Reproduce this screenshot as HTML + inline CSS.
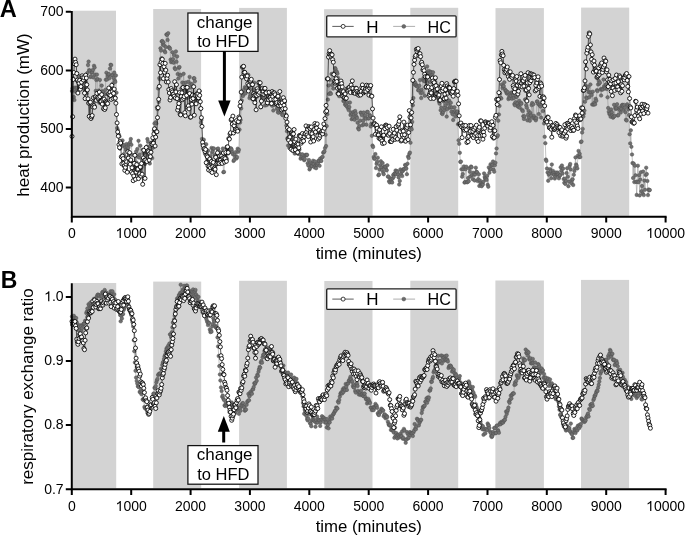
<!DOCTYPE html>
<html><head><meta charset="utf-8"><style>
html,body{margin:0;padding:0;background:#fff;}
svg{display:block;will-change:transform;}
text{font-family:"Liberation Sans",sans-serif;fill:#000;}
</style></head><body>
<svg width="685" height="536" viewBox="0 0 685 536">
<text x="-0.3" y="16.9" font-size="23.6" font-weight="bold">A</text>
<text x="0.7" y="288.3" font-size="23" font-weight="bold">B</text>
<rect x="72.8" y="10.7" width="43.2" height="205.1" fill="#d3d3d3"/>
<rect x="153.2" y="9.0" width="47.9" height="206.8" fill="#d3d3d3"/>
<rect x="239.1" y="7.9" width="47.8" height="207.9" fill="#d3d3d3"/>
<rect x="324.1" y="9.2" width="48.5" height="206.6" fill="#d3d3d3"/>
<rect x="410.3" y="7.8" width="47.9" height="208.0" fill="#d3d3d3"/>
<rect x="495.5" y="8.1" width="48.4" height="207.7" fill="#d3d3d3"/>
<rect x="581.1" y="7.6" width="48.1" height="208.2" fill="#d3d3d3"/>
<path d="M72 91 L72.6 88.2 L73.2 78.3 L73.8 97.1 L74.4 100 L75 87.6 L75.6 91.6 L76.2 88.3 L76.8 80.6 L77.3 87.8 L77.9 81 L78.5 79.2 L79.1 76 L79.7 82.9 L80.3 82.1 L80.9 86.2 L81.5 80.4 L82.1 83.5 L82.7 78.2 L83.3 88.3 L83.9 87.9 L84.5 89.2 L85.1 90.6 L85.7 81.4 L86.3 89.6 L86.8 93.4 L87.4 73.1 L88 65 L88.6 61.6 L89.2 70.3 L89.8 70.6 L90.4 76.9 L91 76.5 L91.6 72.7 L92.2 72.1 L92.8 70 L93.4 77.4 L94 65.8 L94.6 67.5 L95.2 74.8 L95.8 90.8 L96.3 80 L96.9 74.6 L97.5 79.1 L98.1 95.7 L98.7 90.6 L99.3 102.7 L99.9 79.9 L100.5 97.9 L101.1 103.6 L101.7 85.6 L102.3 91.3 L102.9 99.6 L103.5 91.9 L104.1 94.5 L104.7 94.5 L105.3 89.9 L105.8 79.7 L106.4 72.7 L107 79.6 L107.6 76 L108.2 74.5 L108.8 74.1 L109.4 78.3 L110 68.6 L110.6 64.8 L111.2 65.1 L111.8 75.2 L112.4 75.3 L113 83.5 L113.6 77.9 L114.2 72.6 L114.8 80.6 L115.3 81.9 L115.9 75.4 L116.5 92.7 L117.1 128 L117.7 129.7 L118.3 134.1 L118.9 134.8 L119.5 136.4 L120.1 148.7 L120.7 146.2 L121.3 141.7 L121.9 144 L122.5 140.4 L123.1 146.1 L123.7 154.3 L124.3 145 L124.8 156.7 L125.4 147.4 L126 150.1 L126.6 144 L127.2 146.7 L127.8 150.2 L128.4 147.7 L129 144.5 L129.6 143.7 L130.2 142.1 L130.8 139 L131.4 144.8 L132 154.7 L132.6 163 L133.2 163.4 L133.8 168.5 L134.3 166.5 L134.9 155 L135.5 168.7 L136.1 151.6 L136.7 162.8 L137.3 149 L137.9 156.4 L138.5 140.8 L139.1 157.6 L139.7 154.7 L140.3 145.7 L140.9 168.3 L141.5 167.1 L142.1 159.8 L142.7 149.8 L143.3 152.9 L143.8 152.8 L144.4 160.8 L145 164 L145.6 151.6 L146.2 148 L146.8 146.4 L147.4 139.1 L148 141.7 L148.6 147 L149.2 155.4 L149.8 163.5 L150.4 146.3 L151 151.1 L151.6 142.4 L152.2 158.1 L152.8 147.8 L153.4 147 L153.9 130.5 L154.5 123.5 L155.1 128.4 L155.7 122.2 L156.3 123.6 L156.9 107.2 L157.5 109.2 L158.1 88.4 L158.7 101.9 L159.3 78.1 L159.9 79.3 L160.5 48.3 L161.1 50.6 L161.7 41.4 L162.3 41 L162.9 44.5 L163.4 42.3 L164 45.5 L164.6 51 L165.2 52.3 L165.8 46.9 L166.4 34.5 L167 34.8 L167.6 40 L168.2 33.2 L168.8 47.3 L169.4 47.5 L170 48.7 L170.6 59.6 L171.2 62.2 L171.8 60.8 L172.4 52.2 L172.9 59.2 L173.5 62.7 L174.1 55.1 L174.7 68.1 L175.3 69.2 L175.9 51.4 L176.5 61.8 L177.1 56.4 L177.7 74.1 L178.3 78.6 L178.9 67.8 L179.5 67.1 L180.1 74.7 L180.7 75.6 L181.3 88.5 L181.9 88.6 L182.4 82.6 L183 87.1 L183.6 73.8 L184.2 83.2 L184.8 91.8 L185.4 87.6 L186 82.4 L186.6 89.5 L187.2 97.9 L187.8 93.9 L188.4 81.7 L189 95.7 L189.6 76.9 L190.2 87.5 L190.8 83.7 L191.4 93.9 L191.9 84.3 L192.5 97.9 L193.1 95.1 L193.7 78.3 L194.3 78.2 L194.9 81.2 L195.5 98.8 L196.1 95.9 L196.7 94.9 L197.3 92.7 L197.9 100 L198.5 100.2 L199.1 100 L199.7 91.2 L200.3 108.5 L200.9 122.7 L201.4 120 L202 138.9 L202.6 144.4 L203.2 142.4 L203.8 139.7 L204.4 150.3 L205 153.8 L205.6 149.3 L206.2 144.2 L206.8 154.6 L207.4 150.9 L208 150.6 L208.6 160.8 L209.2 161.2 L209.8 161.6 L210.4 155.9 L210.9 158.5 L211.5 147.9 L212.1 152.6 L212.7 151.1 L213.3 148.5 L213.9 148.5 L214.5 155.3 L215.1 156.7 L215.7 157.7 L216.3 162 L216.9 154.1 L217.5 149.1 L218.1 148.5 L218.7 151 L219.3 160.9 L219.9 158.8 L220.4 164 L221 152.7 L221.6 154.1 L222.2 152.4 L222.8 148.5 L223.4 172.2 L224 171.9 L224.6 158.4 L225.2 153.7 L225.8 157.6 L226.4 148.5 L227 159.1 L227.6 149.9 L228.2 153.4 L228.8 149.9 L229.4 152.2 L230 148.5 L230.5 148.5 L231.1 148.5 L231.7 149.7 L232.3 152.1 L232.9 154.2 L233.5 160.9 L234.1 160 L234.7 155 L235.3 157.1 L235.9 151.9 L236.5 158.5 L237.1 157 L237.7 148.7 L238.3 151.8 L238.9 149.8 L239.5 129.6 L240 122.6 L240.6 119.9 L241.2 108.4 L241.8 100.5 L242.4 92.6 L243 96 L243.6 90.1 L244.2 93.7 L244.8 87.2 L245.4 93.4 L246 88.1 L246.6 88 L247.2 77.9 L247.8 74.6 L248.4 75.1 L249 88.2 L249.5 98.1 L250.1 96.1 L250.7 94.4 L251.3 84.5 L251.9 98 L252.5 99.5 L253.1 89.8 L253.7 89.3 L254.3 82.7 L254.9 97.6 L255.5 96 L256.1 92.4 L256.7 95 L257.3 96.6 L257.9 91.4 L258.5 83.8 L259 82.7 L259.6 83.2 L260.2 92.5 L260.8 107.2 L261.4 89.3 L262 95.6 L262.6 100.1 L263.2 92 L263.8 98.1 L264.4 91.5 L265 105.5 L265.6 98.1 L266.2 100.4 L266.8 105.1 L267.4 99.7 L268 91.9 L268.5 94.4 L269.1 103.7 L269.7 102.1 L270.3 103.4 L270.9 96.5 L271.5 100.9 L272.1 105.7 L272.7 103.5 L273.3 110.5 L273.9 104.7 L274.5 97.2 L275.1 93.5 L275.7 105.1 L276.3 103.4 L276.9 109 L277.5 108.1 L278 112.3 L278.6 112.7 L279.2 106.2 L279.8 107 L280.4 112 L281 101.1 L281.6 112.5 L282.2 114.8 L282.8 115.2 L283.4 108.9 L284 109.7 L284.6 102.3 L285.2 108.8 L285.8 114.5 L286.4 125.5 L287 131.3 L287.5 138.1 L288.1 145.6 L288.7 140.3 L289.3 148 L289.9 146 L290.5 146.5 L291.1 147.4 L291.7 149 L292.3 150.7 L292.9 146.5 L293.5 148.7 L294.1 150.1 L294.7 153.6 L295.3 151.5 L295.9 152.8 L296.5 149.3 L297.1 150.4 L297.6 150.3 L298.2 153.9 L298.8 150.2 L299.4 149.6 L300 154.1 L300.6 158.7 L301.2 157.4 L301.8 156.5 L302.4 154.3 L303 158.2 L303.6 158.1 L304.2 160.2 L304.8 159 L305.4 154.9 L306 155.3 L306.6 154.8 L307.1 154.9 L307.7 163.2 L308.3 165.5 L308.9 160 L309.5 169.4 L310.1 167.8 L310.7 162.8 L311.3 166.2 L311.9 165.9 L312.5 163.3 L313.1 160.7 L313.7 164 L314.3 167.3 L314.9 161.4 L315.5 165.7 L316.1 168.2 L316.6 164.6 L317.2 165.1 L317.8 163.4 L318.4 160.7 L319 160.9 L319.6 165.8 L320.2 158.6 L320.8 160.7 L321.4 160.9 L322 157.5 L322.6 156.7 L323.2 152.7 L323.8 152.2 L324.4 151.3 L325 148.1 L325.6 134.7 L326.1 146.1 L326.7 126.1 L327.3 114.3 L327.9 99.6 L328.5 85.4 L329.1 94 L329.7 79.8 L330.3 93 L330.9 93.8 L331.5 74 L332.1 85.1 L332.7 74.1 L333.3 88.6 L333.9 81.5 L334.5 72.6 L335.1 68.1 L335.6 69.1 L336.2 71.6 L336.8 71.7 L337.4 73.6 L338 77.9 L338.6 84.2 L339.2 96.2 L339.8 86.7 L340.4 90.7 L341 92.3 L341.6 92.2 L342.2 93 L342.8 93.7 L343.4 101.1 L344 100.7 L344.6 99.6 L345.1 104.3 L345.7 105.2 L346.3 103.9 L346.9 106.6 L347.5 102.7 L348.1 108.3 L348.7 110.1 L349.3 107.1 L349.9 102.5 L350.5 115 L351.1 112.6 L351.7 119.2 L352.3 114 L352.9 118 L353.5 112 L354.1 114.5 L354.6 119.8 L355.2 111 L355.8 113.4 L356.4 116.6 L357 118 L357.6 122.7 L358.2 128.2 L358.8 129.4 L359.4 126.1 L360 120.7 L360.6 112.6 L361.2 113 L361.8 114.9 L362.4 125.3 L363 120.8 L363.6 112.5 L364.1 124.4 L364.7 117.5 L365.3 115.4 L365.9 118.7 L366.5 124.7 L367.1 111.9 L367.7 112 L368.3 118.6 L368.9 118.2 L369.5 115 L370.1 115.8 L370.7 126.4 L371.3 123.8 L371.9 135.8 L372.5 145.6 L373.1 146.9 L373.7 157 L374.2 158.7 L374.8 158.5 L375.4 154.1 L376 168.1 L376.6 163.8 L377.2 161.7 L377.8 157.7 L378.4 175.3 L379 174.6 L379.6 169.5 L380.2 165.2 L380.8 161.2 L381.4 167.5 L382 170 L382.6 163 L383.2 172.6 L383.7 174.2 L384.3 167 L384.9 166.4 L385.5 166.9 L386.1 169.8 L386.7 170.3 L387.3 165.3 L387.9 176.7 L388.5 176.5 L389.1 181.2 L389.7 182.4 L390.3 178.3 L390.9 179.5 L391.5 181.7 L392.1 182.5 L392.7 178.5 L393.2 175 L393.8 176.8 L394.4 173.6 L395 173.6 L395.6 170.5 L396.2 174 L396.8 171 L397.4 172 L398 174.6 L398.6 177.4 L399.2 184.5 L399.8 180.9 L400.4 169.4 L401 174 L401.6 171.3 L402.2 176.1 L402.7 171.2 L403.3 169.2 L403.9 169.5 L404.5 168.8 L405.1 164.9 L405.7 165.3 L406.3 168.5 L406.9 174.2 L407.5 163.7 L408.1 156.6 L408.7 158 L409.3 153.9 L409.9 152.6 L410.5 142.7 L411.1 127.9 L411.7 129.4 L412.2 121.9 L412.8 105.2 L413.4 98.1 L414 81.5 L414.6 84.5 L415.2 82.7 L415.8 85.5 L416.4 84.9 L417 86.2 L417.6 86.8 L418.2 90.3 L418.8 90.3 L419.4 85.8 L420 80 L420.6 93 L421.2 98.1 L421.7 89.7 L422.3 92.7 L422.9 79.9 L423.5 78 L424.1 81.2 L424.7 95.7 L425.3 81.1 L425.9 75.1 L426.5 86.7 L427.1 66.4 L427.7 72.6 L428.3 73.4 L428.9 70.9 L429.5 72.8 L430.1 81.9 L430.7 71.9 L431.2 72.3 L431.8 75.5 L432.4 75.1 L433 72.3 L433.6 96.7 L434.2 95.4 L434.8 78.4 L435.4 82.1 L436 93.1 L436.6 97.4 L437.2 85.6 L437.8 92.6 L438.4 98.2 L439 101.8 L439.6 103.7 L440.2 91.7 L440.7 110.2 L441.3 107.5 L441.9 113.4 L442.5 114 L443.1 112.1 L443.7 101.4 L444.3 110.2 L444.9 107.4 L445.5 105.1 L446.1 101 L446.7 116.6 L447.3 109.1 L447.9 100.6 L448.5 103.7 L449.1 100.6 L449.7 107.8 L450.3 106.9 L450.8 102.8 L451.4 111.8 L452 107.4 L452.6 114.2 L453.2 120 L453.8 111.9 L454.4 107.3 L455 110.9 L455.6 116.5 L456.2 112.9 L456.8 112.5 L457.4 111.4 L458 124.2 L458.6 140.3 L459.2 143.8 L459.8 152.8 L460.3 161.9 L460.9 161.6 L461.5 169.3 L462.1 176.7 L462.7 174.1 L463.3 169.2 L463.9 166.4 L464.5 182.6 L465.1 182.1 L465.7 169.2 L466.3 166.7 L466.9 182.2 L467.5 182.1 L468.1 178 L468.7 181.2 L469.3 168.3 L469.8 171.7 L470.4 176.4 L471 166.5 L471.6 167.3 L472.2 174.9 L472.8 179.2 L473.4 172.8 L474 174.6 L474.6 180.5 L475.2 174.5 L475.8 167.7 L476.4 171.7 L477 172.2 L477.6 181 L478.2 179.2 L478.8 174.3 L479.3 185.9 L479.9 180.4 L480.5 182.8 L481.1 185.1 L481.7 186.2 L482.3 183.4 L482.9 184.6 L483.5 181.6 L484.1 173.4 L484.7 176.9 L485.3 178.2 L485.9 178.8 L486.5 180 L487.1 175.7 L487.7 184.8 L488.3 186.7 L488.8 167.4 L489.4 172.7 L490 169.4 L490.6 164.2 L491.2 169.1 L491.8 165.6 L492.4 164.8 L493 161.5 L493.6 169.6 L494.2 171.7 L494.8 165.3 L495.4 162.7 L496 153.4 L496.6 148.5 L497.2 136.7 L497.8 135.3 L498.3 120.7 L498.9 114.5 L499.5 105.9 L500.1 93.4 L500.7 97.8 L501.3 98.5 L501.9 84.5 L502.5 88.1 L503.1 86.2 L503.7 86.1 L504.3 82.3 L504.9 89.2 L505.5 91 L506.1 90.7 L506.7 93.3 L507.3 93.6 L507.8 92.1 L508.4 99.1 L509 97.5 L509.6 94.4 L510.2 98.3 L510.8 95.8 L511.4 92.5 L512 98.7 L512.6 92.5 L513.2 95.4 L513.8 98 L514.4 104.1 L515 105.3 L515.6 102.2 L516.2 96.9 L516.8 96.6 L517.4 103.3 L517.9 106.5 L518.5 106.6 L519.1 100.7 L519.7 107.7 L520.3 103.7 L520.9 102.7 L521.5 103.7 L522.1 109.9 L522.7 111.1 L523.3 116.2 L523.9 118.9 L524.5 116.4 L525.1 99.5 L525.7 99.5 L526.3 105.2 L526.9 107.7 L527.4 120.3 L528 114.8 L528.6 110.9 L529.2 117.4 L529.8 120.8 L530.4 113 L531 115.5 L531.6 105.1 L532.2 103 L532.8 118.1 L533.4 104.3 L534 115.9 L534.6 118 L535.2 119.1 L535.8 120.3 L536.4 118.1 L536.9 101.5 L537.5 101.5 L538.1 103.7 L538.7 114.1 L539.3 105.1 L539.9 104.5 L540.5 106.5 L541.1 117.6 L541.7 104.3 L542.3 101.5 L542.9 111.1 L543.5 101.5 L544.1 123.4 L544.7 136.8 L545.3 143.2 L545.9 159.6 L546.4 160.9 L547 168.5 L547.6 172.5 L548.2 180.8 L548.8 174.8 L549.4 173.5 L550 169.2 L550.6 171.2 L551.2 178.2 L551.8 164.5 L552.4 173.8 L553 170.9 L553.6 173 L554.2 175 L554.8 178.5 L555.4 176.5 L555.9 172.5 L556.5 174.8 L557.1 174 L557.7 172.6 L558.3 174.3 L558.9 178.3 L559.5 175.9 L560.1 175.2 L560.7 167.3 L561.3 170.7 L561.9 165.5 L562.5 173.5 L563.1 168.6 L563.7 179.1 L564.3 182.8 L564.9 178.7 L565.4 183.9 L566 180.8 L566.6 173.1 L567.2 168.2 L567.8 176.7 L568.4 186.2 L569 181.6 L569.6 165.9 L570.2 164 L570.8 169.4 L571.4 183.3 L572 180 L572.6 179.2 L573.2 185 L573.8 174.8 L574.4 171 L574.9 167.9 L575.5 157.4 L576.1 164.5 L576.7 165.9 L577.3 168.4 L577.9 155.7 L578.5 150.9 L579.1 157.2 L579.7 153.8 L580.3 157 L580.9 142 L581.5 141.5 L582.1 132.5 L582.7 128.9 L583.3 116.6 L583.9 113.6 L584.4 110.5 L585 101.7 L585.6 85.2 L586.2 97.4 L586.8 98.4 L587.4 89 L588 86.8 L588.6 91.9 L589.2 97.3 L589.8 92.5 L590.4 84.5 L591 92.4 L591.6 94.9 L592.2 104.5 L592.8 91.7 L593.4 104.5 L594 104.5 L594.5 102.4 L595.1 104.3 L595.7 98.8 L596.3 100.8 L596.9 90.2 L597.5 91.1 L598.1 84.4 L598.7 80.8 L599.3 83.5 L599.9 82.6 L600.5 89.3 L601.1 95.5 L601.7 89.7 L602.3 88.9 L602.9 89.4 L603.5 79.5 L604 86.4 L604.6 87.5 L605.2 88.4 L605.8 84.6 L606.4 84.3 L607 89 L607.6 97.3 L608.2 108 L608.8 111.7 L609.4 114.1 L610 113.5 L610.6 116.7 L611.2 109.4 L611.8 112.4 L612.4 115.4 L613 117.7 L613.5 116.8 L614.1 104.8 L614.7 116 L615.3 107.7 L615.9 108.9 L616.5 108 L617.1 104.2 L617.7 115.4 L618.3 115.2 L618.9 108.4 L619.5 109.8 L620.1 107.5 L620.7 112.6 L621.3 108.8 L621.9 105.3 L622.5 104.8 L623 105.7 L623.6 110.1 L624.2 104.9 L624.8 107.7 L625.4 112.2 L626 119.8 L626.6 120.5 L627.2 104.3 L627.8 106 L628.4 109.4 L629 115.1 L629.6 134.2 L630.2 143.4 L630.8 130.3 L631.4 146.8 L632 154.5 L632.5 163.1 L633.1 178 L633.7 163.6 L634.3 182.1 L634.9 165.7 L635.5 175.3 L636.1 181.9 L636.7 194.9 L637.3 181.6 L637.9 165.7 L638.5 182.2 L639.1 175.2 L639.7 195.4 L640.3 179.6 L640.9 172.2 L641.5 191.2 L642 186.1 L642.6 193.6 L643.2 171.5 L643.8 195.1 L644.4 180.6 L645 189.8 L645.6 174.9 L646.2 167.7 L646.8 174.1 L647.4 181 L648 195.1 L648.6 189.5 L649.2 190.3 L649.8 190" fill="none" stroke="#888" stroke-width="0.5"/>
<g fill="#707070" stroke="#505050" stroke-width="0.5"><circle cx="72" cy="91" r="1.75"/><circle cx="72.6" cy="88.2" r="1.75"/><circle cx="73.2" cy="78.3" r="1.75"/><circle cx="73.8" cy="97.1" r="1.75"/><circle cx="74.4" cy="100" r="1.75"/><circle cx="75" cy="87.6" r="1.75"/><circle cx="75.6" cy="91.6" r="1.75"/><circle cx="76.2" cy="88.3" r="1.75"/><circle cx="76.8" cy="80.6" r="1.75"/><circle cx="77.3" cy="87.8" r="1.75"/><circle cx="77.9" cy="81" r="1.75"/><circle cx="78.5" cy="79.2" r="1.75"/><circle cx="79.1" cy="76" r="1.75"/><circle cx="79.7" cy="82.9" r="1.75"/><circle cx="80.3" cy="82.1" r="1.75"/><circle cx="80.9" cy="86.2" r="1.75"/><circle cx="81.5" cy="80.4" r="1.75"/><circle cx="82.1" cy="83.5" r="1.75"/><circle cx="82.7" cy="78.2" r="1.75"/><circle cx="83.3" cy="88.3" r="1.75"/><circle cx="83.9" cy="87.9" r="1.75"/><circle cx="84.5" cy="89.2" r="1.75"/><circle cx="85.1" cy="90.6" r="1.75"/><circle cx="85.7" cy="81.4" r="1.75"/><circle cx="86.3" cy="89.6" r="1.75"/><circle cx="86.8" cy="93.4" r="1.75"/><circle cx="87.4" cy="73.1" r="1.75"/><circle cx="88" cy="65" r="1.75"/><circle cx="88.6" cy="61.6" r="1.75"/><circle cx="89.2" cy="70.3" r="1.75"/><circle cx="89.8" cy="70.6" r="1.75"/><circle cx="90.4" cy="76.9" r="1.75"/><circle cx="91" cy="76.5" r="1.75"/><circle cx="91.6" cy="72.7" r="1.75"/><circle cx="92.2" cy="72.1" r="1.75"/><circle cx="92.8" cy="70" r="1.75"/><circle cx="93.4" cy="77.4" r="1.75"/><circle cx="94" cy="65.8" r="1.75"/><circle cx="94.6" cy="67.5" r="1.75"/><circle cx="95.2" cy="74.8" r="1.75"/><circle cx="95.8" cy="90.8" r="1.75"/><circle cx="96.3" cy="80" r="1.75"/><circle cx="96.9" cy="74.6" r="1.75"/><circle cx="97.5" cy="79.1" r="1.75"/><circle cx="98.1" cy="95.7" r="1.75"/><circle cx="98.7" cy="90.6" r="1.75"/><circle cx="99.3" cy="102.7" r="1.75"/><circle cx="99.9" cy="79.9" r="1.75"/><circle cx="100.5" cy="97.9" r="1.75"/><circle cx="101.1" cy="103.6" r="1.75"/><circle cx="101.7" cy="85.6" r="1.75"/><circle cx="102.3" cy="91.3" r="1.75"/><circle cx="102.9" cy="99.6" r="1.75"/><circle cx="103.5" cy="91.9" r="1.75"/><circle cx="104.1" cy="94.5" r="1.75"/><circle cx="104.7" cy="94.5" r="1.75"/><circle cx="105.3" cy="89.9" r="1.75"/><circle cx="105.8" cy="79.7" r="1.75"/><circle cx="106.4" cy="72.7" r="1.75"/><circle cx="107" cy="79.6" r="1.75"/><circle cx="107.6" cy="76" r="1.75"/><circle cx="108.2" cy="74.5" r="1.75"/><circle cx="108.8" cy="74.1" r="1.75"/><circle cx="109.4" cy="78.3" r="1.75"/><circle cx="110" cy="68.6" r="1.75"/><circle cx="110.6" cy="64.8" r="1.75"/><circle cx="111.2" cy="65.1" r="1.75"/><circle cx="111.8" cy="75.2" r="1.75"/><circle cx="112.4" cy="75.3" r="1.75"/><circle cx="113" cy="83.5" r="1.75"/><circle cx="113.6" cy="77.9" r="1.75"/><circle cx="114.2" cy="72.6" r="1.75"/><circle cx="114.8" cy="80.6" r="1.75"/><circle cx="115.3" cy="81.9" r="1.75"/><circle cx="115.9" cy="75.4" r="1.75"/><circle cx="116.5" cy="92.7" r="1.75"/><circle cx="117.1" cy="128" r="1.75"/><circle cx="117.7" cy="129.7" r="1.75"/><circle cx="118.3" cy="134.1" r="1.75"/><circle cx="118.9" cy="134.8" r="1.75"/><circle cx="119.5" cy="136.4" r="1.75"/><circle cx="120.1" cy="148.7" r="1.75"/><circle cx="120.7" cy="146.2" r="1.75"/><circle cx="121.3" cy="141.7" r="1.75"/><circle cx="121.9" cy="144" r="1.75"/><circle cx="122.5" cy="140.4" r="1.75"/><circle cx="123.1" cy="146.1" r="1.75"/><circle cx="123.7" cy="154.3" r="1.75"/><circle cx="124.3" cy="145" r="1.75"/><circle cx="124.8" cy="156.7" r="1.75"/><circle cx="125.4" cy="147.4" r="1.75"/><circle cx="126" cy="150.1" r="1.75"/><circle cx="126.6" cy="144" r="1.75"/><circle cx="127.2" cy="146.7" r="1.75"/><circle cx="127.8" cy="150.2" r="1.75"/><circle cx="128.4" cy="147.7" r="1.75"/><circle cx="129" cy="144.5" r="1.75"/><circle cx="129.6" cy="143.7" r="1.75"/><circle cx="130.2" cy="142.1" r="1.75"/><circle cx="130.8" cy="139" r="1.75"/><circle cx="131.4" cy="144.8" r="1.75"/><circle cx="132" cy="154.7" r="1.75"/><circle cx="132.6" cy="163" r="1.75"/><circle cx="133.2" cy="163.4" r="1.75"/><circle cx="133.8" cy="168.5" r="1.75"/><circle cx="134.3" cy="166.5" r="1.75"/><circle cx="134.9" cy="155" r="1.75"/><circle cx="135.5" cy="168.7" r="1.75"/><circle cx="136.1" cy="151.6" r="1.75"/><circle cx="136.7" cy="162.8" r="1.75"/><circle cx="137.3" cy="149" r="1.75"/><circle cx="137.9" cy="156.4" r="1.75"/><circle cx="138.5" cy="140.8" r="1.75"/><circle cx="139.1" cy="157.6" r="1.75"/><circle cx="139.7" cy="154.7" r="1.75"/><circle cx="140.3" cy="145.7" r="1.75"/><circle cx="140.9" cy="168.3" r="1.75"/><circle cx="141.5" cy="167.1" r="1.75"/><circle cx="142.1" cy="159.8" r="1.75"/><circle cx="142.7" cy="149.8" r="1.75"/><circle cx="143.3" cy="152.9" r="1.75"/><circle cx="143.8" cy="152.8" r="1.75"/><circle cx="144.4" cy="160.8" r="1.75"/><circle cx="145" cy="164" r="1.75"/><circle cx="145.6" cy="151.6" r="1.75"/><circle cx="146.2" cy="148" r="1.75"/><circle cx="146.8" cy="146.4" r="1.75"/><circle cx="147.4" cy="139.1" r="1.75"/><circle cx="148" cy="141.7" r="1.75"/><circle cx="148.6" cy="147" r="1.75"/><circle cx="149.2" cy="155.4" r="1.75"/><circle cx="149.8" cy="163.5" r="1.75"/><circle cx="150.4" cy="146.3" r="1.75"/><circle cx="151" cy="151.1" r="1.75"/><circle cx="151.6" cy="142.4" r="1.75"/><circle cx="152.2" cy="158.1" r="1.75"/><circle cx="152.8" cy="147.8" r="1.75"/><circle cx="153.4" cy="147" r="1.75"/><circle cx="153.9" cy="130.5" r="1.75"/><circle cx="154.5" cy="123.5" r="1.75"/><circle cx="155.1" cy="128.4" r="1.75"/><circle cx="155.7" cy="122.2" r="1.75"/><circle cx="156.3" cy="123.6" r="1.75"/><circle cx="156.9" cy="107.2" r="1.75"/><circle cx="157.5" cy="109.2" r="1.75"/><circle cx="158.1" cy="88.4" r="1.75"/><circle cx="158.7" cy="101.9" r="1.75"/><circle cx="159.3" cy="78.1" r="1.75"/><circle cx="159.9" cy="79.3" r="1.75"/><circle cx="160.5" cy="48.3" r="1.75"/><circle cx="161.1" cy="50.6" r="1.75"/><circle cx="161.7" cy="41.4" r="1.75"/><circle cx="162.3" cy="41" r="1.75"/><circle cx="162.9" cy="44.5" r="1.75"/><circle cx="163.4" cy="42.3" r="1.75"/><circle cx="164" cy="45.5" r="1.75"/><circle cx="164.6" cy="51" r="1.75"/><circle cx="165.2" cy="52.3" r="1.75"/><circle cx="165.8" cy="46.9" r="1.75"/><circle cx="166.4" cy="34.5" r="1.75"/><circle cx="167" cy="34.8" r="1.75"/><circle cx="167.6" cy="40" r="1.75"/><circle cx="168.2" cy="33.2" r="1.75"/><circle cx="168.8" cy="47.3" r="1.75"/><circle cx="169.4" cy="47.5" r="1.75"/><circle cx="170" cy="48.7" r="1.75"/><circle cx="170.6" cy="59.6" r="1.75"/><circle cx="171.2" cy="62.2" r="1.75"/><circle cx="171.8" cy="60.8" r="1.75"/><circle cx="172.4" cy="52.2" r="1.75"/><circle cx="172.9" cy="59.2" r="1.75"/><circle cx="173.5" cy="62.7" r="1.75"/><circle cx="174.1" cy="55.1" r="1.75"/><circle cx="174.7" cy="68.1" r="1.75"/><circle cx="175.3" cy="69.2" r="1.75"/><circle cx="175.9" cy="51.4" r="1.75"/><circle cx="176.5" cy="61.8" r="1.75"/><circle cx="177.1" cy="56.4" r="1.75"/><circle cx="177.7" cy="74.1" r="1.75"/><circle cx="178.3" cy="78.6" r="1.75"/><circle cx="178.9" cy="67.8" r="1.75"/><circle cx="179.5" cy="67.1" r="1.75"/><circle cx="180.1" cy="74.7" r="1.75"/><circle cx="180.7" cy="75.6" r="1.75"/><circle cx="181.3" cy="88.5" r="1.75"/><circle cx="181.9" cy="88.6" r="1.75"/><circle cx="182.4" cy="82.6" r="1.75"/><circle cx="183" cy="87.1" r="1.75"/><circle cx="183.6" cy="73.8" r="1.75"/><circle cx="184.2" cy="83.2" r="1.75"/><circle cx="184.8" cy="91.8" r="1.75"/><circle cx="185.4" cy="87.6" r="1.75"/><circle cx="186" cy="82.4" r="1.75"/><circle cx="186.6" cy="89.5" r="1.75"/><circle cx="187.2" cy="97.9" r="1.75"/><circle cx="187.8" cy="93.9" r="1.75"/><circle cx="188.4" cy="81.7" r="1.75"/><circle cx="189" cy="95.7" r="1.75"/><circle cx="189.6" cy="76.9" r="1.75"/><circle cx="190.2" cy="87.5" r="1.75"/><circle cx="190.8" cy="83.7" r="1.75"/><circle cx="191.4" cy="93.9" r="1.75"/><circle cx="191.9" cy="84.3" r="1.75"/><circle cx="192.5" cy="97.9" r="1.75"/><circle cx="193.1" cy="95.1" r="1.75"/><circle cx="193.7" cy="78.3" r="1.75"/><circle cx="194.3" cy="78.2" r="1.75"/><circle cx="194.9" cy="81.2" r="1.75"/><circle cx="195.5" cy="98.8" r="1.75"/><circle cx="196.1" cy="95.9" r="1.75"/><circle cx="196.7" cy="94.9" r="1.75"/><circle cx="197.3" cy="92.7" r="1.75"/><circle cx="197.9" cy="100" r="1.75"/><circle cx="198.5" cy="100.2" r="1.75"/><circle cx="199.1" cy="100" r="1.75"/><circle cx="199.7" cy="91.2" r="1.75"/><circle cx="200.3" cy="108.5" r="1.75"/><circle cx="200.9" cy="122.7" r="1.75"/><circle cx="201.4" cy="120" r="1.75"/><circle cx="202" cy="138.9" r="1.75"/><circle cx="202.6" cy="144.4" r="1.75"/><circle cx="203.2" cy="142.4" r="1.75"/><circle cx="203.8" cy="139.7" r="1.75"/><circle cx="204.4" cy="150.3" r="1.75"/><circle cx="205" cy="153.8" r="1.75"/><circle cx="205.6" cy="149.3" r="1.75"/><circle cx="206.2" cy="144.2" r="1.75"/><circle cx="206.8" cy="154.6" r="1.75"/><circle cx="207.4" cy="150.9" r="1.75"/><circle cx="208" cy="150.6" r="1.75"/><circle cx="208.6" cy="160.8" r="1.75"/><circle cx="209.2" cy="161.2" r="1.75"/><circle cx="209.8" cy="161.6" r="1.75"/><circle cx="210.4" cy="155.9" r="1.75"/><circle cx="210.9" cy="158.5" r="1.75"/><circle cx="211.5" cy="147.9" r="1.75"/><circle cx="212.1" cy="152.6" r="1.75"/><circle cx="212.7" cy="151.1" r="1.75"/><circle cx="213.3" cy="148.5" r="1.75"/><circle cx="213.9" cy="148.5" r="1.75"/><circle cx="214.5" cy="155.3" r="1.75"/><circle cx="215.1" cy="156.7" r="1.75"/><circle cx="215.7" cy="157.7" r="1.75"/><circle cx="216.3" cy="162" r="1.75"/><circle cx="216.9" cy="154.1" r="1.75"/><circle cx="217.5" cy="149.1" r="1.75"/><circle cx="218.1" cy="148.5" r="1.75"/><circle cx="218.7" cy="151" r="1.75"/><circle cx="219.3" cy="160.9" r="1.75"/><circle cx="219.9" cy="158.8" r="1.75"/><circle cx="220.4" cy="164" r="1.75"/><circle cx="221" cy="152.7" r="1.75"/><circle cx="221.6" cy="154.1" r="1.75"/><circle cx="222.2" cy="152.4" r="1.75"/><circle cx="222.8" cy="148.5" r="1.75"/><circle cx="223.4" cy="172.2" r="1.75"/><circle cx="224" cy="171.9" r="1.75"/><circle cx="224.6" cy="158.4" r="1.75"/><circle cx="225.2" cy="153.7" r="1.75"/><circle cx="225.8" cy="157.6" r="1.75"/><circle cx="226.4" cy="148.5" r="1.75"/><circle cx="227" cy="159.1" r="1.75"/><circle cx="227.6" cy="149.9" r="1.75"/><circle cx="228.2" cy="153.4" r="1.75"/><circle cx="228.8" cy="149.9" r="1.75"/><circle cx="229.4" cy="152.2" r="1.75"/><circle cx="230" cy="148.5" r="1.75"/><circle cx="230.5" cy="148.5" r="1.75"/><circle cx="231.1" cy="148.5" r="1.75"/><circle cx="231.7" cy="149.7" r="1.75"/><circle cx="232.3" cy="152.1" r="1.75"/><circle cx="232.9" cy="154.2" r="1.75"/><circle cx="233.5" cy="160.9" r="1.75"/><circle cx="234.1" cy="160" r="1.75"/><circle cx="234.7" cy="155" r="1.75"/><circle cx="235.3" cy="157.1" r="1.75"/><circle cx="235.9" cy="151.9" r="1.75"/><circle cx="236.5" cy="158.5" r="1.75"/><circle cx="237.1" cy="157" r="1.75"/><circle cx="237.7" cy="148.7" r="1.75"/><circle cx="238.3" cy="151.8" r="1.75"/><circle cx="238.9" cy="149.8" r="1.75"/><circle cx="239.5" cy="129.6" r="1.75"/><circle cx="240" cy="122.6" r="1.75"/><circle cx="240.6" cy="119.9" r="1.75"/><circle cx="241.2" cy="108.4" r="1.75"/><circle cx="241.8" cy="100.5" r="1.75"/><circle cx="242.4" cy="92.6" r="1.75"/><circle cx="243" cy="96" r="1.75"/><circle cx="243.6" cy="90.1" r="1.75"/><circle cx="244.2" cy="93.7" r="1.75"/><circle cx="244.8" cy="87.2" r="1.75"/><circle cx="245.4" cy="93.4" r="1.75"/><circle cx="246" cy="88.1" r="1.75"/><circle cx="246.6" cy="88" r="1.75"/><circle cx="247.2" cy="77.9" r="1.75"/><circle cx="247.8" cy="74.6" r="1.75"/><circle cx="248.4" cy="75.1" r="1.75"/><circle cx="249" cy="88.2" r="1.75"/><circle cx="249.5" cy="98.1" r="1.75"/><circle cx="250.1" cy="96.1" r="1.75"/><circle cx="250.7" cy="94.4" r="1.75"/><circle cx="251.3" cy="84.5" r="1.75"/><circle cx="251.9" cy="98" r="1.75"/><circle cx="252.5" cy="99.5" r="1.75"/><circle cx="253.1" cy="89.8" r="1.75"/><circle cx="253.7" cy="89.3" r="1.75"/><circle cx="254.3" cy="82.7" r="1.75"/><circle cx="254.9" cy="97.6" r="1.75"/><circle cx="255.5" cy="96" r="1.75"/><circle cx="256.1" cy="92.4" r="1.75"/><circle cx="256.7" cy="95" r="1.75"/><circle cx="257.3" cy="96.6" r="1.75"/><circle cx="257.9" cy="91.4" r="1.75"/><circle cx="258.5" cy="83.8" r="1.75"/><circle cx="259" cy="82.7" r="1.75"/><circle cx="259.6" cy="83.2" r="1.75"/><circle cx="260.2" cy="92.5" r="1.75"/><circle cx="260.8" cy="107.2" r="1.75"/><circle cx="261.4" cy="89.3" r="1.75"/><circle cx="262" cy="95.6" r="1.75"/><circle cx="262.6" cy="100.1" r="1.75"/><circle cx="263.2" cy="92" r="1.75"/><circle cx="263.8" cy="98.1" r="1.75"/><circle cx="264.4" cy="91.5" r="1.75"/><circle cx="265" cy="105.5" r="1.75"/><circle cx="265.6" cy="98.1" r="1.75"/><circle cx="266.2" cy="100.4" r="1.75"/><circle cx="266.8" cy="105.1" r="1.75"/><circle cx="267.4" cy="99.7" r="1.75"/><circle cx="268" cy="91.9" r="1.75"/><circle cx="268.5" cy="94.4" r="1.75"/><circle cx="269.1" cy="103.7" r="1.75"/><circle cx="269.7" cy="102.1" r="1.75"/><circle cx="270.3" cy="103.4" r="1.75"/><circle cx="270.9" cy="96.5" r="1.75"/><circle cx="271.5" cy="100.9" r="1.75"/><circle cx="272.1" cy="105.7" r="1.75"/><circle cx="272.7" cy="103.5" r="1.75"/><circle cx="273.3" cy="110.5" r="1.75"/><circle cx="273.9" cy="104.7" r="1.75"/><circle cx="274.5" cy="97.2" r="1.75"/><circle cx="275.1" cy="93.5" r="1.75"/><circle cx="275.7" cy="105.1" r="1.75"/><circle cx="276.3" cy="103.4" r="1.75"/><circle cx="276.9" cy="109" r="1.75"/><circle cx="277.5" cy="108.1" r="1.75"/><circle cx="278" cy="112.3" r="1.75"/><circle cx="278.6" cy="112.7" r="1.75"/><circle cx="279.2" cy="106.2" r="1.75"/><circle cx="279.8" cy="107" r="1.75"/><circle cx="280.4" cy="112" r="1.75"/><circle cx="281" cy="101.1" r="1.75"/><circle cx="281.6" cy="112.5" r="1.75"/><circle cx="282.2" cy="114.8" r="1.75"/><circle cx="282.8" cy="115.2" r="1.75"/><circle cx="283.4" cy="108.9" r="1.75"/><circle cx="284" cy="109.7" r="1.75"/><circle cx="284.6" cy="102.3" r="1.75"/><circle cx="285.2" cy="108.8" r="1.75"/><circle cx="285.8" cy="114.5" r="1.75"/><circle cx="286.4" cy="125.5" r="1.75"/><circle cx="287" cy="131.3" r="1.75"/><circle cx="287.5" cy="138.1" r="1.75"/><circle cx="288.1" cy="145.6" r="1.75"/><circle cx="288.7" cy="140.3" r="1.75"/><circle cx="289.3" cy="148" r="1.75"/><circle cx="289.9" cy="146" r="1.75"/><circle cx="290.5" cy="146.5" r="1.75"/><circle cx="291.1" cy="147.4" r="1.75"/><circle cx="291.7" cy="149" r="1.75"/><circle cx="292.3" cy="150.7" r="1.75"/><circle cx="292.9" cy="146.5" r="1.75"/><circle cx="293.5" cy="148.7" r="1.75"/><circle cx="294.1" cy="150.1" r="1.75"/><circle cx="294.7" cy="153.6" r="1.75"/><circle cx="295.3" cy="151.5" r="1.75"/><circle cx="295.9" cy="152.8" r="1.75"/><circle cx="296.5" cy="149.3" r="1.75"/><circle cx="297.1" cy="150.4" r="1.75"/><circle cx="297.6" cy="150.3" r="1.75"/><circle cx="298.2" cy="153.9" r="1.75"/><circle cx="298.8" cy="150.2" r="1.75"/><circle cx="299.4" cy="149.6" r="1.75"/><circle cx="300" cy="154.1" r="1.75"/><circle cx="300.6" cy="158.7" r="1.75"/><circle cx="301.2" cy="157.4" r="1.75"/><circle cx="301.8" cy="156.5" r="1.75"/><circle cx="302.4" cy="154.3" r="1.75"/><circle cx="303" cy="158.2" r="1.75"/><circle cx="303.6" cy="158.1" r="1.75"/><circle cx="304.2" cy="160.2" r="1.75"/><circle cx="304.8" cy="159" r="1.75"/><circle cx="305.4" cy="154.9" r="1.75"/><circle cx="306" cy="155.3" r="1.75"/><circle cx="306.6" cy="154.8" r="1.75"/><circle cx="307.1" cy="154.9" r="1.75"/><circle cx="307.7" cy="163.2" r="1.75"/><circle cx="308.3" cy="165.5" r="1.75"/><circle cx="308.9" cy="160" r="1.75"/><circle cx="309.5" cy="169.4" r="1.75"/><circle cx="310.1" cy="167.8" r="1.75"/><circle cx="310.7" cy="162.8" r="1.75"/><circle cx="311.3" cy="166.2" r="1.75"/><circle cx="311.9" cy="165.9" r="1.75"/><circle cx="312.5" cy="163.3" r="1.75"/><circle cx="313.1" cy="160.7" r="1.75"/><circle cx="313.7" cy="164" r="1.75"/><circle cx="314.3" cy="167.3" r="1.75"/><circle cx="314.9" cy="161.4" r="1.75"/><circle cx="315.5" cy="165.7" r="1.75"/><circle cx="316.1" cy="168.2" r="1.75"/><circle cx="316.6" cy="164.6" r="1.75"/><circle cx="317.2" cy="165.1" r="1.75"/><circle cx="317.8" cy="163.4" r="1.75"/><circle cx="318.4" cy="160.7" r="1.75"/><circle cx="319" cy="160.9" r="1.75"/><circle cx="319.6" cy="165.8" r="1.75"/><circle cx="320.2" cy="158.6" r="1.75"/><circle cx="320.8" cy="160.7" r="1.75"/><circle cx="321.4" cy="160.9" r="1.75"/><circle cx="322" cy="157.5" r="1.75"/><circle cx="322.6" cy="156.7" r="1.75"/><circle cx="323.2" cy="152.7" r="1.75"/><circle cx="323.8" cy="152.2" r="1.75"/><circle cx="324.4" cy="151.3" r="1.75"/><circle cx="325" cy="148.1" r="1.75"/><circle cx="325.6" cy="134.7" r="1.75"/><circle cx="326.1" cy="146.1" r="1.75"/><circle cx="326.7" cy="126.1" r="1.75"/><circle cx="327.3" cy="114.3" r="1.75"/><circle cx="327.9" cy="99.6" r="1.75"/><circle cx="328.5" cy="85.4" r="1.75"/><circle cx="329.1" cy="94" r="1.75"/><circle cx="329.7" cy="79.8" r="1.75"/><circle cx="330.3" cy="93" r="1.75"/><circle cx="330.9" cy="93.8" r="1.75"/><circle cx="331.5" cy="74" r="1.75"/><circle cx="332.1" cy="85.1" r="1.75"/><circle cx="332.7" cy="74.1" r="1.75"/><circle cx="333.3" cy="88.6" r="1.75"/><circle cx="333.9" cy="81.5" r="1.75"/><circle cx="334.5" cy="72.6" r="1.75"/><circle cx="335.1" cy="68.1" r="1.75"/><circle cx="335.6" cy="69.1" r="1.75"/><circle cx="336.2" cy="71.6" r="1.75"/><circle cx="336.8" cy="71.7" r="1.75"/><circle cx="337.4" cy="73.6" r="1.75"/><circle cx="338" cy="77.9" r="1.75"/><circle cx="338.6" cy="84.2" r="1.75"/><circle cx="339.2" cy="96.2" r="1.75"/><circle cx="339.8" cy="86.7" r="1.75"/><circle cx="340.4" cy="90.7" r="1.75"/><circle cx="341" cy="92.3" r="1.75"/><circle cx="341.6" cy="92.2" r="1.75"/><circle cx="342.2" cy="93" r="1.75"/><circle cx="342.8" cy="93.7" r="1.75"/><circle cx="343.4" cy="101.1" r="1.75"/><circle cx="344" cy="100.7" r="1.75"/><circle cx="344.6" cy="99.6" r="1.75"/><circle cx="345.1" cy="104.3" r="1.75"/><circle cx="345.7" cy="105.2" r="1.75"/><circle cx="346.3" cy="103.9" r="1.75"/><circle cx="346.9" cy="106.6" r="1.75"/><circle cx="347.5" cy="102.7" r="1.75"/><circle cx="348.1" cy="108.3" r="1.75"/><circle cx="348.7" cy="110.1" r="1.75"/><circle cx="349.3" cy="107.1" r="1.75"/><circle cx="349.9" cy="102.5" r="1.75"/><circle cx="350.5" cy="115" r="1.75"/><circle cx="351.1" cy="112.6" r="1.75"/><circle cx="351.7" cy="119.2" r="1.75"/><circle cx="352.3" cy="114" r="1.75"/><circle cx="352.9" cy="118" r="1.75"/><circle cx="353.5" cy="112" r="1.75"/><circle cx="354.1" cy="114.5" r="1.75"/><circle cx="354.6" cy="119.8" r="1.75"/><circle cx="355.2" cy="111" r="1.75"/><circle cx="355.8" cy="113.4" r="1.75"/><circle cx="356.4" cy="116.6" r="1.75"/><circle cx="357" cy="118" r="1.75"/><circle cx="357.6" cy="122.7" r="1.75"/><circle cx="358.2" cy="128.2" r="1.75"/><circle cx="358.8" cy="129.4" r="1.75"/><circle cx="359.4" cy="126.1" r="1.75"/><circle cx="360" cy="120.7" r="1.75"/><circle cx="360.6" cy="112.6" r="1.75"/><circle cx="361.2" cy="113" r="1.75"/><circle cx="361.8" cy="114.9" r="1.75"/><circle cx="362.4" cy="125.3" r="1.75"/><circle cx="363" cy="120.8" r="1.75"/><circle cx="363.6" cy="112.5" r="1.75"/><circle cx="364.1" cy="124.4" r="1.75"/><circle cx="364.7" cy="117.5" r="1.75"/><circle cx="365.3" cy="115.4" r="1.75"/><circle cx="365.9" cy="118.7" r="1.75"/><circle cx="366.5" cy="124.7" r="1.75"/><circle cx="367.1" cy="111.9" r="1.75"/><circle cx="367.7" cy="112" r="1.75"/><circle cx="368.3" cy="118.6" r="1.75"/><circle cx="368.9" cy="118.2" r="1.75"/><circle cx="369.5" cy="115" r="1.75"/><circle cx="370.1" cy="115.8" r="1.75"/><circle cx="370.7" cy="126.4" r="1.75"/><circle cx="371.3" cy="123.8" r="1.75"/><circle cx="371.9" cy="135.8" r="1.75"/><circle cx="372.5" cy="145.6" r="1.75"/><circle cx="373.1" cy="146.9" r="1.75"/><circle cx="373.7" cy="157" r="1.75"/><circle cx="374.2" cy="158.7" r="1.75"/><circle cx="374.8" cy="158.5" r="1.75"/><circle cx="375.4" cy="154.1" r="1.75"/><circle cx="376" cy="168.1" r="1.75"/><circle cx="376.6" cy="163.8" r="1.75"/><circle cx="377.2" cy="161.7" r="1.75"/><circle cx="377.8" cy="157.7" r="1.75"/><circle cx="378.4" cy="175.3" r="1.75"/><circle cx="379" cy="174.6" r="1.75"/><circle cx="379.6" cy="169.5" r="1.75"/><circle cx="380.2" cy="165.2" r="1.75"/><circle cx="380.8" cy="161.2" r="1.75"/><circle cx="381.4" cy="167.5" r="1.75"/><circle cx="382" cy="170" r="1.75"/><circle cx="382.6" cy="163" r="1.75"/><circle cx="383.2" cy="172.6" r="1.75"/><circle cx="383.7" cy="174.2" r="1.75"/><circle cx="384.3" cy="167" r="1.75"/><circle cx="384.9" cy="166.4" r="1.75"/><circle cx="385.5" cy="166.9" r="1.75"/><circle cx="386.1" cy="169.8" r="1.75"/><circle cx="386.7" cy="170.3" r="1.75"/><circle cx="387.3" cy="165.3" r="1.75"/><circle cx="387.9" cy="176.7" r="1.75"/><circle cx="388.5" cy="176.5" r="1.75"/><circle cx="389.1" cy="181.2" r="1.75"/><circle cx="389.7" cy="182.4" r="1.75"/><circle cx="390.3" cy="178.3" r="1.75"/><circle cx="390.9" cy="179.5" r="1.75"/><circle cx="391.5" cy="181.7" r="1.75"/><circle cx="392.1" cy="182.5" r="1.75"/><circle cx="392.7" cy="178.5" r="1.75"/><circle cx="393.2" cy="175" r="1.75"/><circle cx="393.8" cy="176.8" r="1.75"/><circle cx="394.4" cy="173.6" r="1.75"/><circle cx="395" cy="173.6" r="1.75"/><circle cx="395.6" cy="170.5" r="1.75"/><circle cx="396.2" cy="174" r="1.75"/><circle cx="396.8" cy="171" r="1.75"/><circle cx="397.4" cy="172" r="1.75"/><circle cx="398" cy="174.6" r="1.75"/><circle cx="398.6" cy="177.4" r="1.75"/><circle cx="399.2" cy="184.5" r="1.75"/><circle cx="399.8" cy="180.9" r="1.75"/><circle cx="400.4" cy="169.4" r="1.75"/><circle cx="401" cy="174" r="1.75"/><circle cx="401.6" cy="171.3" r="1.75"/><circle cx="402.2" cy="176.1" r="1.75"/><circle cx="402.7" cy="171.2" r="1.75"/><circle cx="403.3" cy="169.2" r="1.75"/><circle cx="403.9" cy="169.5" r="1.75"/><circle cx="404.5" cy="168.8" r="1.75"/><circle cx="405.1" cy="164.9" r="1.75"/><circle cx="405.7" cy="165.3" r="1.75"/><circle cx="406.3" cy="168.5" r="1.75"/><circle cx="406.9" cy="174.2" r="1.75"/><circle cx="407.5" cy="163.7" r="1.75"/><circle cx="408.1" cy="156.6" r="1.75"/><circle cx="408.7" cy="158" r="1.75"/><circle cx="409.3" cy="153.9" r="1.75"/><circle cx="409.9" cy="152.6" r="1.75"/><circle cx="410.5" cy="142.7" r="1.75"/><circle cx="411.1" cy="127.9" r="1.75"/><circle cx="411.7" cy="129.4" r="1.75"/><circle cx="412.2" cy="121.9" r="1.75"/><circle cx="412.8" cy="105.2" r="1.75"/><circle cx="413.4" cy="98.1" r="1.75"/><circle cx="414" cy="81.5" r="1.75"/><circle cx="414.6" cy="84.5" r="1.75"/><circle cx="415.2" cy="82.7" r="1.75"/><circle cx="415.8" cy="85.5" r="1.75"/><circle cx="416.4" cy="84.9" r="1.75"/><circle cx="417" cy="86.2" r="1.75"/><circle cx="417.6" cy="86.8" r="1.75"/><circle cx="418.2" cy="90.3" r="1.75"/><circle cx="418.8" cy="90.3" r="1.75"/><circle cx="419.4" cy="85.8" r="1.75"/><circle cx="420" cy="80" r="1.75"/><circle cx="420.6" cy="93" r="1.75"/><circle cx="421.2" cy="98.1" r="1.75"/><circle cx="421.7" cy="89.7" r="1.75"/><circle cx="422.3" cy="92.7" r="1.75"/><circle cx="422.9" cy="79.9" r="1.75"/><circle cx="423.5" cy="78" r="1.75"/><circle cx="424.1" cy="81.2" r="1.75"/><circle cx="424.7" cy="95.7" r="1.75"/><circle cx="425.3" cy="81.1" r="1.75"/><circle cx="425.9" cy="75.1" r="1.75"/><circle cx="426.5" cy="86.7" r="1.75"/><circle cx="427.1" cy="66.4" r="1.75"/><circle cx="427.7" cy="72.6" r="1.75"/><circle cx="428.3" cy="73.4" r="1.75"/><circle cx="428.9" cy="70.9" r="1.75"/><circle cx="429.5" cy="72.8" r="1.75"/><circle cx="430.1" cy="81.9" r="1.75"/><circle cx="430.7" cy="71.9" r="1.75"/><circle cx="431.2" cy="72.3" r="1.75"/><circle cx="431.8" cy="75.5" r="1.75"/><circle cx="432.4" cy="75.1" r="1.75"/><circle cx="433" cy="72.3" r="1.75"/><circle cx="433.6" cy="96.7" r="1.75"/><circle cx="434.2" cy="95.4" r="1.75"/><circle cx="434.8" cy="78.4" r="1.75"/><circle cx="435.4" cy="82.1" r="1.75"/><circle cx="436" cy="93.1" r="1.75"/><circle cx="436.6" cy="97.4" r="1.75"/><circle cx="437.2" cy="85.6" r="1.75"/><circle cx="437.8" cy="92.6" r="1.75"/><circle cx="438.4" cy="98.2" r="1.75"/><circle cx="439" cy="101.8" r="1.75"/><circle cx="439.6" cy="103.7" r="1.75"/><circle cx="440.2" cy="91.7" r="1.75"/><circle cx="440.7" cy="110.2" r="1.75"/><circle cx="441.3" cy="107.5" r="1.75"/><circle cx="441.9" cy="113.4" r="1.75"/><circle cx="442.5" cy="114" r="1.75"/><circle cx="443.1" cy="112.1" r="1.75"/><circle cx="443.7" cy="101.4" r="1.75"/><circle cx="444.3" cy="110.2" r="1.75"/><circle cx="444.9" cy="107.4" r="1.75"/><circle cx="445.5" cy="105.1" r="1.75"/><circle cx="446.1" cy="101" r="1.75"/><circle cx="446.7" cy="116.6" r="1.75"/><circle cx="447.3" cy="109.1" r="1.75"/><circle cx="447.9" cy="100.6" r="1.75"/><circle cx="448.5" cy="103.7" r="1.75"/><circle cx="449.1" cy="100.6" r="1.75"/><circle cx="449.7" cy="107.8" r="1.75"/><circle cx="450.3" cy="106.9" r="1.75"/><circle cx="450.8" cy="102.8" r="1.75"/><circle cx="451.4" cy="111.8" r="1.75"/><circle cx="452" cy="107.4" r="1.75"/><circle cx="452.6" cy="114.2" r="1.75"/><circle cx="453.2" cy="120" r="1.75"/><circle cx="453.8" cy="111.9" r="1.75"/><circle cx="454.4" cy="107.3" r="1.75"/><circle cx="455" cy="110.9" r="1.75"/><circle cx="455.6" cy="116.5" r="1.75"/><circle cx="456.2" cy="112.9" r="1.75"/><circle cx="456.8" cy="112.5" r="1.75"/><circle cx="457.4" cy="111.4" r="1.75"/><circle cx="458" cy="124.2" r="1.75"/><circle cx="458.6" cy="140.3" r="1.75"/><circle cx="459.2" cy="143.8" r="1.75"/><circle cx="459.8" cy="152.8" r="1.75"/><circle cx="460.3" cy="161.9" r="1.75"/><circle cx="460.9" cy="161.6" r="1.75"/><circle cx="461.5" cy="169.3" r="1.75"/><circle cx="462.1" cy="176.7" r="1.75"/><circle cx="462.7" cy="174.1" r="1.75"/><circle cx="463.3" cy="169.2" r="1.75"/><circle cx="463.9" cy="166.4" r="1.75"/><circle cx="464.5" cy="182.6" r="1.75"/><circle cx="465.1" cy="182.1" r="1.75"/><circle cx="465.7" cy="169.2" r="1.75"/><circle cx="466.3" cy="166.7" r="1.75"/><circle cx="466.9" cy="182.2" r="1.75"/><circle cx="467.5" cy="182.1" r="1.75"/><circle cx="468.1" cy="178" r="1.75"/><circle cx="468.7" cy="181.2" r="1.75"/><circle cx="469.3" cy="168.3" r="1.75"/><circle cx="469.8" cy="171.7" r="1.75"/><circle cx="470.4" cy="176.4" r="1.75"/><circle cx="471" cy="166.5" r="1.75"/><circle cx="471.6" cy="167.3" r="1.75"/><circle cx="472.2" cy="174.9" r="1.75"/><circle cx="472.8" cy="179.2" r="1.75"/><circle cx="473.4" cy="172.8" r="1.75"/><circle cx="474" cy="174.6" r="1.75"/><circle cx="474.6" cy="180.5" r="1.75"/><circle cx="475.2" cy="174.5" r="1.75"/><circle cx="475.8" cy="167.7" r="1.75"/><circle cx="476.4" cy="171.7" r="1.75"/><circle cx="477" cy="172.2" r="1.75"/><circle cx="477.6" cy="181" r="1.75"/><circle cx="478.2" cy="179.2" r="1.75"/><circle cx="478.8" cy="174.3" r="1.75"/><circle cx="479.3" cy="185.9" r="1.75"/><circle cx="479.9" cy="180.4" r="1.75"/><circle cx="480.5" cy="182.8" r="1.75"/><circle cx="481.1" cy="185.1" r="1.75"/><circle cx="481.7" cy="186.2" r="1.75"/><circle cx="482.3" cy="183.4" r="1.75"/><circle cx="482.9" cy="184.6" r="1.75"/><circle cx="483.5" cy="181.6" r="1.75"/><circle cx="484.1" cy="173.4" r="1.75"/><circle cx="484.7" cy="176.9" r="1.75"/><circle cx="485.3" cy="178.2" r="1.75"/><circle cx="485.9" cy="178.8" r="1.75"/><circle cx="486.5" cy="180" r="1.75"/><circle cx="487.1" cy="175.7" r="1.75"/><circle cx="487.7" cy="184.8" r="1.75"/><circle cx="488.3" cy="186.7" r="1.75"/><circle cx="488.8" cy="167.4" r="1.75"/><circle cx="489.4" cy="172.7" r="1.75"/><circle cx="490" cy="169.4" r="1.75"/><circle cx="490.6" cy="164.2" r="1.75"/><circle cx="491.2" cy="169.1" r="1.75"/><circle cx="491.8" cy="165.6" r="1.75"/><circle cx="492.4" cy="164.8" r="1.75"/><circle cx="493" cy="161.5" r="1.75"/><circle cx="493.6" cy="169.6" r="1.75"/><circle cx="494.2" cy="171.7" r="1.75"/><circle cx="494.8" cy="165.3" r="1.75"/><circle cx="495.4" cy="162.7" r="1.75"/><circle cx="496" cy="153.4" r="1.75"/><circle cx="496.6" cy="148.5" r="1.75"/><circle cx="497.2" cy="136.7" r="1.75"/><circle cx="497.8" cy="135.3" r="1.75"/><circle cx="498.3" cy="120.7" r="1.75"/><circle cx="498.9" cy="114.5" r="1.75"/><circle cx="499.5" cy="105.9" r="1.75"/><circle cx="500.1" cy="93.4" r="1.75"/><circle cx="500.7" cy="97.8" r="1.75"/><circle cx="501.3" cy="98.5" r="1.75"/><circle cx="501.9" cy="84.5" r="1.75"/><circle cx="502.5" cy="88.1" r="1.75"/><circle cx="503.1" cy="86.2" r="1.75"/><circle cx="503.7" cy="86.1" r="1.75"/><circle cx="504.3" cy="82.3" r="1.75"/><circle cx="504.9" cy="89.2" r="1.75"/><circle cx="505.5" cy="91" r="1.75"/><circle cx="506.1" cy="90.7" r="1.75"/><circle cx="506.7" cy="93.3" r="1.75"/><circle cx="507.3" cy="93.6" r="1.75"/><circle cx="507.8" cy="92.1" r="1.75"/><circle cx="508.4" cy="99.1" r="1.75"/><circle cx="509" cy="97.5" r="1.75"/><circle cx="509.6" cy="94.4" r="1.75"/><circle cx="510.2" cy="98.3" r="1.75"/><circle cx="510.8" cy="95.8" r="1.75"/><circle cx="511.4" cy="92.5" r="1.75"/><circle cx="512" cy="98.7" r="1.75"/><circle cx="512.6" cy="92.5" r="1.75"/><circle cx="513.2" cy="95.4" r="1.75"/><circle cx="513.8" cy="98" r="1.75"/><circle cx="514.4" cy="104.1" r="1.75"/><circle cx="515" cy="105.3" r="1.75"/><circle cx="515.6" cy="102.2" r="1.75"/><circle cx="516.2" cy="96.9" r="1.75"/><circle cx="516.8" cy="96.6" r="1.75"/><circle cx="517.4" cy="103.3" r="1.75"/><circle cx="517.9" cy="106.5" r="1.75"/><circle cx="518.5" cy="106.6" r="1.75"/><circle cx="519.1" cy="100.7" r="1.75"/><circle cx="519.7" cy="107.7" r="1.75"/><circle cx="520.3" cy="103.7" r="1.75"/><circle cx="520.9" cy="102.7" r="1.75"/><circle cx="521.5" cy="103.7" r="1.75"/><circle cx="522.1" cy="109.9" r="1.75"/><circle cx="522.7" cy="111.1" r="1.75"/><circle cx="523.3" cy="116.2" r="1.75"/><circle cx="523.9" cy="118.9" r="1.75"/><circle cx="524.5" cy="116.4" r="1.75"/><circle cx="525.1" cy="99.5" r="1.75"/><circle cx="525.7" cy="99.5" r="1.75"/><circle cx="526.3" cy="105.2" r="1.75"/><circle cx="526.9" cy="107.7" r="1.75"/><circle cx="527.4" cy="120.3" r="1.75"/><circle cx="528" cy="114.8" r="1.75"/><circle cx="528.6" cy="110.9" r="1.75"/><circle cx="529.2" cy="117.4" r="1.75"/><circle cx="529.8" cy="120.8" r="1.75"/><circle cx="530.4" cy="113" r="1.75"/><circle cx="531" cy="115.5" r="1.75"/><circle cx="531.6" cy="105.1" r="1.75"/><circle cx="532.2" cy="103" r="1.75"/><circle cx="532.8" cy="118.1" r="1.75"/><circle cx="533.4" cy="104.3" r="1.75"/><circle cx="534" cy="115.9" r="1.75"/><circle cx="534.6" cy="118" r="1.75"/><circle cx="535.2" cy="119.1" r="1.75"/><circle cx="535.8" cy="120.3" r="1.75"/><circle cx="536.4" cy="118.1" r="1.75"/><circle cx="536.9" cy="101.5" r="1.75"/><circle cx="537.5" cy="101.5" r="1.75"/><circle cx="538.1" cy="103.7" r="1.75"/><circle cx="538.7" cy="114.1" r="1.75"/><circle cx="539.3" cy="105.1" r="1.75"/><circle cx="539.9" cy="104.5" r="1.75"/><circle cx="540.5" cy="106.5" r="1.75"/><circle cx="541.1" cy="117.6" r="1.75"/><circle cx="541.7" cy="104.3" r="1.75"/><circle cx="542.3" cy="101.5" r="1.75"/><circle cx="542.9" cy="111.1" r="1.75"/><circle cx="543.5" cy="101.5" r="1.75"/><circle cx="544.1" cy="123.4" r="1.75"/><circle cx="544.7" cy="136.8" r="1.75"/><circle cx="545.3" cy="143.2" r="1.75"/><circle cx="545.9" cy="159.6" r="1.75"/><circle cx="546.4" cy="160.9" r="1.75"/><circle cx="547" cy="168.5" r="1.75"/><circle cx="547.6" cy="172.5" r="1.75"/><circle cx="548.2" cy="180.8" r="1.75"/><circle cx="548.8" cy="174.8" r="1.75"/><circle cx="549.4" cy="173.5" r="1.75"/><circle cx="550" cy="169.2" r="1.75"/><circle cx="550.6" cy="171.2" r="1.75"/><circle cx="551.2" cy="178.2" r="1.75"/><circle cx="551.8" cy="164.5" r="1.75"/><circle cx="552.4" cy="173.8" r="1.75"/><circle cx="553" cy="170.9" r="1.75"/><circle cx="553.6" cy="173" r="1.75"/><circle cx="554.2" cy="175" r="1.75"/><circle cx="554.8" cy="178.5" r="1.75"/><circle cx="555.4" cy="176.5" r="1.75"/><circle cx="555.9" cy="172.5" r="1.75"/><circle cx="556.5" cy="174.8" r="1.75"/><circle cx="557.1" cy="174" r="1.75"/><circle cx="557.7" cy="172.6" r="1.75"/><circle cx="558.3" cy="174.3" r="1.75"/><circle cx="558.9" cy="178.3" r="1.75"/><circle cx="559.5" cy="175.9" r="1.75"/><circle cx="560.1" cy="175.2" r="1.75"/><circle cx="560.7" cy="167.3" r="1.75"/><circle cx="561.3" cy="170.7" r="1.75"/><circle cx="561.9" cy="165.5" r="1.75"/><circle cx="562.5" cy="173.5" r="1.75"/><circle cx="563.1" cy="168.6" r="1.75"/><circle cx="563.7" cy="179.1" r="1.75"/><circle cx="564.3" cy="182.8" r="1.75"/><circle cx="564.9" cy="178.7" r="1.75"/><circle cx="565.4" cy="183.9" r="1.75"/><circle cx="566" cy="180.8" r="1.75"/><circle cx="566.6" cy="173.1" r="1.75"/><circle cx="567.2" cy="168.2" r="1.75"/><circle cx="567.8" cy="176.7" r="1.75"/><circle cx="568.4" cy="186.2" r="1.75"/><circle cx="569" cy="181.6" r="1.75"/><circle cx="569.6" cy="165.9" r="1.75"/><circle cx="570.2" cy="164" r="1.75"/><circle cx="570.8" cy="169.4" r="1.75"/><circle cx="571.4" cy="183.3" r="1.75"/><circle cx="572" cy="180" r="1.75"/><circle cx="572.6" cy="179.2" r="1.75"/><circle cx="573.2" cy="185" r="1.75"/><circle cx="573.8" cy="174.8" r="1.75"/><circle cx="574.4" cy="171" r="1.75"/><circle cx="574.9" cy="167.9" r="1.75"/><circle cx="575.5" cy="157.4" r="1.75"/><circle cx="576.1" cy="164.5" r="1.75"/><circle cx="576.7" cy="165.9" r="1.75"/><circle cx="577.3" cy="168.4" r="1.75"/><circle cx="577.9" cy="155.7" r="1.75"/><circle cx="578.5" cy="150.9" r="1.75"/><circle cx="579.1" cy="157.2" r="1.75"/><circle cx="579.7" cy="153.8" r="1.75"/><circle cx="580.3" cy="157" r="1.75"/><circle cx="580.9" cy="142" r="1.75"/><circle cx="581.5" cy="141.5" r="1.75"/><circle cx="582.1" cy="132.5" r="1.75"/><circle cx="582.7" cy="128.9" r="1.75"/><circle cx="583.3" cy="116.6" r="1.75"/><circle cx="583.9" cy="113.6" r="1.75"/><circle cx="584.4" cy="110.5" r="1.75"/><circle cx="585" cy="101.7" r="1.75"/><circle cx="585.6" cy="85.2" r="1.75"/><circle cx="586.2" cy="97.4" r="1.75"/><circle cx="586.8" cy="98.4" r="1.75"/><circle cx="587.4" cy="89" r="1.75"/><circle cx="588" cy="86.8" r="1.75"/><circle cx="588.6" cy="91.9" r="1.75"/><circle cx="589.2" cy="97.3" r="1.75"/><circle cx="589.8" cy="92.5" r="1.75"/><circle cx="590.4" cy="84.5" r="1.75"/><circle cx="591" cy="92.4" r="1.75"/><circle cx="591.6" cy="94.9" r="1.75"/><circle cx="592.2" cy="104.5" r="1.75"/><circle cx="592.8" cy="91.7" r="1.75"/><circle cx="593.4" cy="104.5" r="1.75"/><circle cx="594" cy="104.5" r="1.75"/><circle cx="594.5" cy="102.4" r="1.75"/><circle cx="595.1" cy="104.3" r="1.75"/><circle cx="595.7" cy="98.8" r="1.75"/><circle cx="596.3" cy="100.8" r="1.75"/><circle cx="596.9" cy="90.2" r="1.75"/><circle cx="597.5" cy="91.1" r="1.75"/><circle cx="598.1" cy="84.4" r="1.75"/><circle cx="598.7" cy="80.8" r="1.75"/><circle cx="599.3" cy="83.5" r="1.75"/><circle cx="599.9" cy="82.6" r="1.75"/><circle cx="600.5" cy="89.3" r="1.75"/><circle cx="601.1" cy="95.5" r="1.75"/><circle cx="601.7" cy="89.7" r="1.75"/><circle cx="602.3" cy="88.9" r="1.75"/><circle cx="602.9" cy="89.4" r="1.75"/><circle cx="603.5" cy="79.5" r="1.75"/><circle cx="604" cy="86.4" r="1.75"/><circle cx="604.6" cy="87.5" r="1.75"/><circle cx="605.2" cy="88.4" r="1.75"/><circle cx="605.8" cy="84.6" r="1.75"/><circle cx="606.4" cy="84.3" r="1.75"/><circle cx="607" cy="89" r="1.75"/><circle cx="607.6" cy="97.3" r="1.75"/><circle cx="608.2" cy="108" r="1.75"/><circle cx="608.8" cy="111.7" r="1.75"/><circle cx="609.4" cy="114.1" r="1.75"/><circle cx="610" cy="113.5" r="1.75"/><circle cx="610.6" cy="116.7" r="1.75"/><circle cx="611.2" cy="109.4" r="1.75"/><circle cx="611.8" cy="112.4" r="1.75"/><circle cx="612.4" cy="115.4" r="1.75"/><circle cx="613" cy="117.7" r="1.75"/><circle cx="613.5" cy="116.8" r="1.75"/><circle cx="614.1" cy="104.8" r="1.75"/><circle cx="614.7" cy="116" r="1.75"/><circle cx="615.3" cy="107.7" r="1.75"/><circle cx="615.9" cy="108.9" r="1.75"/><circle cx="616.5" cy="108" r="1.75"/><circle cx="617.1" cy="104.2" r="1.75"/><circle cx="617.7" cy="115.4" r="1.75"/><circle cx="618.3" cy="115.2" r="1.75"/><circle cx="618.9" cy="108.4" r="1.75"/><circle cx="619.5" cy="109.8" r="1.75"/><circle cx="620.1" cy="107.5" r="1.75"/><circle cx="620.7" cy="112.6" r="1.75"/><circle cx="621.3" cy="108.8" r="1.75"/><circle cx="621.9" cy="105.3" r="1.75"/><circle cx="622.5" cy="104.8" r="1.75"/><circle cx="623" cy="105.7" r="1.75"/><circle cx="623.6" cy="110.1" r="1.75"/><circle cx="624.2" cy="104.9" r="1.75"/><circle cx="624.8" cy="107.7" r="1.75"/><circle cx="625.4" cy="112.2" r="1.75"/><circle cx="626" cy="119.8" r="1.75"/><circle cx="626.6" cy="120.5" r="1.75"/><circle cx="627.2" cy="104.3" r="1.75"/><circle cx="627.8" cy="106" r="1.75"/><circle cx="628.4" cy="109.4" r="1.75"/><circle cx="629" cy="115.1" r="1.75"/><circle cx="629.6" cy="134.2" r="1.75"/><circle cx="630.2" cy="143.4" r="1.75"/><circle cx="630.8" cy="130.3" r="1.75"/><circle cx="631.4" cy="146.8" r="1.75"/><circle cx="632" cy="154.5" r="1.75"/><circle cx="632.5" cy="163.1" r="1.75"/><circle cx="633.1" cy="178" r="1.75"/><circle cx="633.7" cy="163.6" r="1.75"/><circle cx="634.3" cy="182.1" r="1.75"/><circle cx="634.9" cy="165.7" r="1.75"/><circle cx="635.5" cy="175.3" r="1.75"/><circle cx="636.1" cy="181.9" r="1.75"/><circle cx="636.7" cy="194.9" r="1.75"/><circle cx="637.3" cy="181.6" r="1.75"/><circle cx="637.9" cy="165.7" r="1.75"/><circle cx="638.5" cy="182.2" r="1.75"/><circle cx="639.1" cy="175.2" r="1.75"/><circle cx="639.7" cy="195.4" r="1.75"/><circle cx="640.3" cy="179.6" r="1.75"/><circle cx="640.9" cy="172.2" r="1.75"/><circle cx="641.5" cy="191.2" r="1.75"/><circle cx="642" cy="186.1" r="1.75"/><circle cx="642.6" cy="193.6" r="1.75"/><circle cx="643.2" cy="171.5" r="1.75"/><circle cx="643.8" cy="195.1" r="1.75"/><circle cx="644.4" cy="180.6" r="1.75"/><circle cx="645" cy="189.8" r="1.75"/><circle cx="645.6" cy="174.9" r="1.75"/><circle cx="646.2" cy="167.7" r="1.75"/><circle cx="646.8" cy="174.1" r="1.75"/><circle cx="647.4" cy="181" r="1.75"/><circle cx="648" cy="195.1" r="1.75"/><circle cx="648.6" cy="189.5" r="1.75"/><circle cx="649.2" cy="190.3" r="1.75"/><circle cx="649.8" cy="190" r="1.75"/></g>
<path d="M72 136.4 L72.6 116.7 L73.2 79.5 L73.8 72.5 L74.4 63.8 L75 59.1 L75.6 62.3 L76.2 64.7 L76.8 73.5 L77.3 80.1 L77.9 93 L78.5 81.7 L79.1 83.2 L79.7 80.3 L80.3 89.2 L80.9 86.6 L81.5 82.2 L82.1 75.8 L82.7 77.6 L83.3 80 L83.9 77.8 L84.5 93.1 L85.1 98.6 L85.7 75.2 L86.3 78 L86.8 84.7 L87.4 89.9 L88 98.8 L88.6 103.1 L89.2 116.4 L89.8 102.5 L90.4 102.2 L91 118.5 L91.6 116.8 L92.2 115.5 L92.8 106.9 L93.4 97.7 L94 105.7 L94.6 107.2 L95.2 97.1 L95.8 96.5 L96.3 100.3 L96.9 93.4 L97.5 97.2 L98.1 98.8 L98.7 97.6 L99.3 92.1 L99.9 96.6 L100.5 101.9 L101.1 101.4 L101.7 94.6 L102.3 104.1 L102.9 99.9 L103.5 108.7 L104.1 99.1 L104.7 109.5 L105.3 107.8 L105.8 101.1 L106.4 102.2 L107 103.2 L107.6 103.6 L108.2 94 L108.8 88 L109.4 94.8 L110 92.2 L110.6 95.5 L111.2 99.4 L111.8 85.3 L112.4 91.5 L113 98.4 L113.6 93.4 L114.2 89.1 L114.8 97.6 L115.3 98.2 L115.9 103.2 L116.5 114.5 L117.1 122.9 L117.7 131.9 L118.3 136.2 L118.9 144.7 L119.5 147.6 L120.1 141.6 L120.7 143 L121.3 156.8 L121.9 163.9 L122.5 156.1 L123.1 158.6 L123.7 163.5 L124.3 165.9 L124.8 170.4 L125.4 167.4 L126 164 L126.6 161.8 L127.2 172.2 L127.8 151.8 L128.4 158.1 L129 163.1 L129.6 152.6 L130.2 164.2 L130.8 160 L131.4 172 L132 167.8 L132.6 173.5 L133.2 180.7 L133.8 176 L134.3 163.4 L134.9 155.3 L135.5 179.3 L136.1 172.1 L136.7 164.6 L137.3 169.8 L137.9 169 L138.5 178.6 L139.1 174.9 L139.7 173.8 L140.3 167 L140.9 176.1 L141.5 163.5 L142.1 174.2 L142.7 184.3 L143.3 157.9 L143.8 150.2 L144.4 160.3 L145 178.4 L145.6 160.1 L146.2 147.5 L146.8 161.5 L147.4 151.4 L148 150.8 L148.6 151.7 L149.2 160.1 L149.8 153.5 L150.4 156.6 L151 152.2 L151.6 143.5 L152.2 144.3 L152.8 137.8 L153.4 143.2 L153.9 133.9 L154.5 128.8 L155.1 146 L155.7 137.1 L156.3 131.8 L156.9 131.8 L157.5 117.6 L158.1 107.7 L158.7 99.3 L159.3 86.4 L159.9 64.7 L160.5 72.6 L161.1 62.2 L161.7 58.8 L162.3 59.3 L162.9 63.4 L163.4 78.6 L164 66.7 L164.6 72.3 L165.2 63.4 L165.8 70.1 L166.4 81.9 L167 78.4 L167.6 75.2 L168.2 82 L168.8 89.5 L169.4 93 L170 100 L170.6 97.5 L171.2 88.5 L171.8 90.5 L172.4 92 L172.9 94.3 L173.5 94.1 L174.1 96.2 L174.7 81.7 L175.3 98 L175.9 91.9 L176.5 84.7 L177.1 98.6 L177.7 110 L178.3 107.1 L178.9 103.5 L179.5 92.5 L180.1 114.2 L180.7 114.9 L181.3 96.4 L181.9 92.8 L182.4 99.7 L183 87.5 L183.6 98.4 L184.2 96.6 L184.8 112.6 L185.4 115.8 L186 87.5 L186.6 95.4 L187.2 87.4 L187.8 107.3 L188.4 105.8 L189 108.9 L189.6 93.5 L190.2 117.2 L190.8 117 L191.4 99.5 L191.9 104.2 L192.5 95.1 L193.1 98.5 L193.7 86.7 L194.3 115.2 L194.9 95.4 L195.5 95.4 L196.1 103.8 L196.7 94.4 L197.3 95.8 L197.9 93.8 L198.5 97.8 L199.1 90.9 L199.7 95.4 L200.3 101.7 L200.9 108.5 L201.4 117.7 L202 126.4 L202.6 142.3 L203.2 145.8 L203.8 148.8 L204.4 148.7 L205 151.5 L205.6 149.5 L206.2 162.7 L206.8 155.8 L207.4 156.9 L208 165.9 L208.6 170 L209.2 166.6 L209.8 159 L210.4 167.9 L210.9 171.2 L211.5 161.4 L212.1 172.5 L212.7 166.8 L213.3 162.4 L213.9 168.7 L214.5 168 L215.1 169.3 L215.7 157.3 L216.3 174.7 L216.9 163.7 L217.5 152.8 L218.1 162.9 L218.7 159.8 L219.3 163.4 L219.9 159.7 L220.4 160.2 L221 162.3 L221.6 155.9 L222.2 163.4 L222.8 157.9 L223.4 153 L224 157.8 L224.6 162.1 L225.2 158.6 L225.8 152.5 L226.4 161.3 L227 147.1 L227.6 146.8 L228.2 152.5 L228.8 138.6 L229.4 139.1 L230 134 L230.5 132.8 L231.1 120 L231.7 119.2 L232.3 124.1 L232.9 116.1 L233.5 133 L234.1 125.7 L234.7 122.3 L235.3 130.6 L235.9 129.1 L236.5 120.6 L237.1 129.7 L237.7 131.2 L238.3 121.7 L238.9 117 L239.5 118.3 L240 106 L240.6 102.1 L241.2 92.1 L241.8 77.1 L242.4 67.2 L243 66.7 L243.6 66.3 L244.2 72.4 L244.8 72.4 L245.4 76.1 L246 76.8 L246.6 78.9 L247.2 76 L247.8 83.6 L248.4 91 L249 85.1 L249.5 80.7 L250.1 82.1 L250.7 80.9 L251.3 79.3 L251.9 84.7 L252.5 84.6 L253.1 98.7 L253.7 93.7 L254.3 95.4 L254.9 102.7 L255.5 94.9 L256.1 109.8 L256.7 95.5 L257.3 88.7 L257.9 90.9 L258.5 94.4 L259 82.3 L259.6 92.6 L260.2 82.8 L260.8 106.8 L261.4 101.1 L262 93.4 L262.6 88.3 L263.2 91.8 L263.8 94.3 L264.4 88.7 L265 88.3 L265.6 93.2 L266.2 92.8 L266.8 99.9 L267.4 102.8 L268 98.9 L268.5 99.7 L269.1 92.2 L269.7 98.1 L270.3 97.4 L270.9 99.3 L271.5 103.5 L272.1 91.5 L272.7 96.6 L273.3 92.9 L273.9 99.6 L274.5 92.9 L275.1 94.7 L275.7 99.4 L276.3 103.8 L276.9 102.6 L277.5 96.7 L278 96.2 L278.6 105.5 L279.2 103 L279.8 91.5 L280.4 104 L281 105.8 L281.6 109.9 L282.2 102.8 L282.8 108.7 L283.4 97.7 L284 105.2 L284.6 100.8 L285.2 108.7 L285.8 118.3 L286.4 116 L287 122.1 L287.5 128 L288.1 139 L288.7 140.2 L289.3 129.5 L289.9 137 L290.5 142.6 L291.1 149.2 L291.7 133.1 L292.3 134.1 L292.9 150.3 L293.5 133.9 L294.1 129.5 L294.7 141.6 L295.3 149.8 L295.9 139.1 L296.5 145 L297.1 143.5 L297.6 152.3 L298.2 144.2 L298.8 147.8 L299.4 135.5 L300 135.9 L300.6 136.2 L301.2 143.2 L301.8 141.6 L302.4 133.5 L303 138.7 L303.6 141 L304.2 136.6 L304.8 134.1 L305.4 133.5 L306 125.9 L306.6 132.1 L307.1 134.9 L307.7 129.3 L308.3 136.6 L308.9 126.6 L309.5 127.7 L310.1 128.4 L310.7 142 L311.3 126.9 L311.9 133.8 L312.5 138.5 L313.1 136.8 L313.7 141 L314.3 129.6 L314.9 123.5 L315.5 132 L316.1 125.3 L316.6 128 L317.2 123.9 L317.8 135.8 L318.4 139.1 L319 130.2 L319.6 137.6 L320.2 135.2 L320.8 132.5 L321.4 132.9 L322 131.2 L322.6 133.9 L323.2 130.9 L323.8 124 L324.4 128.2 L325 118.6 L325.6 111.9 L326.1 105.4 L326.7 111.1 L327.3 78.9 L327.9 78.8 L328.5 57.1 L329.1 53.7 L329.7 50.6 L330.3 54.4 L330.9 56.1 L331.5 54.2 L332.1 54.8 L332.7 59.7 L333.3 62.2 L333.9 74.5 L334.5 81.3 L335.1 83.2 L335.6 82 L336.2 78.7 L336.8 81.5 L337.4 88.2 L338 93.5 L338.6 93.9 L339.2 87.7 L339.8 86.9 L340.4 83.8 L341 81 L341.6 83.5 L342.2 86.9 L342.8 96.4 L343.4 91.6 L344 97.3 L344.6 97.7 L345.1 93.9 L345.7 98.7 L346.3 98.2 L346.9 89.1 L347.5 91 L348.1 90 L348.7 87.8 L349.3 87.4 L349.9 89.7 L350.5 92.5 L351.1 85 L351.7 88.1 L352.3 80.9 L352.9 88.3 L353.5 92.8 L354.1 91.8 L354.6 92 L355.2 93.4 L355.8 88.2 L356.4 88.4 L357 91.5 L357.6 94.3 L358.2 92.8 L358.8 95.3 L359.4 93 L360 94.4 L360.6 95 L361.2 91.3 L361.8 87.4 L362.4 84.9 L363 88.4 L363.6 92.8 L364.1 91.6 L364.7 90.9 L365.3 89 L365.9 91.3 L366.5 85.2 L367.1 88.5 L367.7 89.6 L368.3 85.8 L368.9 95.1 L369.5 87.9 L370.1 86.1 L370.7 85.5 L371.3 96 L371.9 96.2 L372.5 108.9 L373.1 118.1 L373.7 124.4 L374.2 123.1 L374.8 124.1 L375.4 134.3 L376 125.9 L376.6 125.1 L377.2 128.3 L377.8 134.9 L378.4 135 L379 138.2 L379.6 129.7 L380.2 138.5 L380.8 139.3 L381.4 126.8 L382 140.9 L382.6 143.5 L383.2 135.5 L383.7 135.2 L384.3 143 L384.9 128.7 L385.5 125.3 L386.1 125.1 L386.7 126.1 L387.3 127.5 L387.9 134.8 L388.5 135.2 L389.1 126.2 L389.7 133.7 L390.3 141.5 L390.9 141.5 L391.5 141.5 L392.1 136 L392.7 139.5 L393.2 129.3 L393.8 135.8 L394.4 133.1 L395 139.4 L395.6 137.5 L396.2 126.6 L396.8 130.2 L397.4 139 L398 125.2 L398.6 123.9 L399.2 121.3 L399.8 116.8 L400.4 131.5 L401 141 L401.6 140.1 L402.2 134.9 L402.7 130.2 L403.3 131.2 L403.9 122.1 L404.5 134.8 L405.1 140.9 L405.7 141.2 L406.3 126.7 L406.9 127.4 L407.5 125.1 L408.1 139.6 L408.7 132.5 L409.3 110.6 L409.9 117.1 L410.5 124.8 L411.1 117.9 L411.7 112.5 L412.2 101.7 L412.8 80.3 L413.4 72.4 L414 64.4 L414.6 60.1 L415.2 56.7 L415.8 55.4 L416.4 49.3 L417 51.4 L417.6 49.5 L418.2 48.5 L418.8 55.3 L419.4 53.9 L420 53.7 L420.6 56.6 L421.2 63.4 L421.7 62.3 L422.3 64.7 L422.9 69.9 L423.5 68.6 L424.1 70.6 L424.7 74.2 L425.3 76.6 L425.9 87.1 L426.5 86.9 L427.1 76.3 L427.7 76.9 L428.3 87.1 L428.9 96.2 L429.5 94.5 L430.1 92.7 L430.7 98.5 L431.2 92.9 L431.8 87.6 L432.4 78.1 L433 81 L433.6 98.5 L434.2 82.6 L434.8 86.2 L435.4 77.8 L436 85.7 L436.6 93.8 L437.2 89 L437.8 94.2 L438.4 96.1 L439 95 L439.6 100.3 L440.2 100.1 L440.7 91.4 L441.3 86 L441.9 83.3 L442.5 90.7 L443.1 88.3 L443.7 99 L444.3 98.8 L444.9 94.2 L445.5 89.7 L446.1 98.1 L446.7 83.6 L447.3 85.9 L447.9 93.2 L448.5 87.3 L449.1 87.4 L449.7 88 L450.3 92.3 L450.8 91.7 L451.4 92.6 L452 93.8 L452.6 91.7 L453.2 96.2 L453.8 88.5 L454.4 81.9 L455 81.5 L455.6 81 L456.2 81.3 L456.8 92.5 L457.4 91.3 L458 95.3 L458.6 103.8 L459.2 115.8 L459.8 123.8 L460.3 125 L460.9 123 L461.5 126.8 L462.1 137.6 L462.7 125.5 L463.3 128.9 L463.9 125.5 L464.5 130.3 L465.1 128.5 L465.7 125.5 L466.3 129.8 L466.9 142.5 L467.5 137.6 L468.1 141.7 L468.7 136.3 L469.3 125.5 L469.8 132.8 L470.4 131.3 L471 125.5 L471.6 135.2 L472.2 135.9 L472.8 131.3 L473.4 137.6 L474 129.3 L474.6 135.3 L475.2 127.4 L475.8 133.8 L476.4 125.2 L477 139.1 L477.6 135.6 L478.2 141.5 L478.8 129.4 L479.3 127.3 L479.9 135.5 L480.5 120.9 L481.1 121 L481.7 133.7 L482.3 135.3 L482.9 139.2 L483.5 132.1 L484.1 135.4 L484.7 128.2 L485.3 121.9 L485.9 122.1 L486.5 123.5 L487.1 125.6 L487.7 125.9 L488.3 122.9 L488.8 123.1 L489.4 123.3 L490 130.2 L490.6 127.6 L491.2 124.6 L491.8 121.7 L492.4 136.6 L493 125.4 L493.6 138.1 L494.2 137.5 L494.8 130.7 L495.4 117.3 L496 115.3 L496.6 99.4 L497.2 104.5 L497.8 99.5 L498.3 99.4 L498.9 92.6 L499.5 79.5 L500.1 60.5 L500.7 62.7 L501.3 54.8 L501.9 51.4 L502.5 54 L503.1 55.7 L503.7 65.3 L504.3 69.7 L504.9 72.8 L505.5 70.6 L506.1 71.7 L506.7 69.5 L507.3 67 L507.8 74 L508.4 76.6 L509 72 L509.6 79.3 L510.2 71.8 L510.8 76.3 L511.4 76.3 L512 77.4 L512.6 75.4 L513.2 85.6 L513.8 87.7 L514.4 92.2 L515 88.8 L515.6 79.6 L516.2 81.1 L516.8 76.5 L517.4 85.3 L517.9 94 L518.5 91.2 L519.1 83.2 L519.7 81.9 L520.3 86.2 L520.9 73.7 L521.5 83 L522.1 86.9 L522.7 81.5 L523.3 80.7 L523.9 86.1 L524.5 78.3 L525.1 75.4 L525.7 90.4 L526.3 89.9 L526.9 101 L527.4 82.9 L528 72.7 L528.6 88.4 L529.2 94.8 L529.8 82.7 L530.4 73.7 L531 80.7 L531.6 74.1 L532.2 77.6 L532.8 74.6 L533.4 77.2 L534 75.1 L534.6 77.5 L535.2 90.9 L535.8 85.3 L536.4 89.7 L536.9 83 L537.5 79.3 L538.1 76.8 L538.7 88.4 L539.3 86.8 L539.9 96.4 L540.5 82.9 L541.1 83.9 L541.7 86.1 L542.3 97.1 L542.9 102.4 L543.5 96.9 L544.1 98.1 L544.7 105.9 L545.3 120.4 L545.9 120.3 L546.4 118.8 L547 122 L547.6 117 L548.2 117.5 L548.8 125.1 L549.4 127.8 L550 127.9 L550.6 122.3 L551.2 129.2 L551.8 137.2 L552.4 125.4 L553 127.5 L553.6 125.8 L554.2 129.6 L554.8 129 L555.4 127.9 L555.9 123.4 L556.5 126.6 L557.1 124.5 L557.7 126.3 L558.3 127.6 L558.9 132.5 L559.5 127.4 L560.1 127.4 L560.7 135.7 L561.3 131.4 L561.9 129.9 L562.5 136.3 L563.1 135.2 L563.7 133.3 L564.3 133.2 L564.9 124.6 L565.4 131.2 L566 138.2 L566.6 136.2 L567.2 123.3 L567.8 128.9 L568.4 123.8 L569 125.3 L569.6 127.2 L570.2 120.5 L570.8 130.6 L571.4 126.5 L572 128.7 L572.6 128.2 L573.2 130.4 L573.8 130.2 L574.4 118.6 L574.9 121 L575.5 115 L576.1 115.8 L576.7 122.7 L577.3 126 L577.9 128.5 L578.5 119.9 L579.1 118.7 L579.7 115.7 L580.3 119.6 L580.9 118.9 L581.5 107.9 L582.1 113.1 L582.7 108.1 L583.3 90.5 L583.9 90.1 L584.4 87.8 L585 80.9 L585.6 61.8 L586.2 68.9 L586.8 53.2 L587.4 49.9 L588 47.2 L588.6 36.4 L589.2 33 L589.8 34 L590.4 44.9 L591 51.9 L591.6 59.4 L592.2 54.7 L592.8 62.6 L593.4 72.1 L594 61 L594.5 65.1 L595.1 69.9 L595.7 71.1 L596.3 71.1 L596.9 77.4 L597.5 76.7 L598.1 75.8 L598.7 67.9 L599.3 74.5 L599.9 72 L600.5 65.8 L601.1 64.2 L601.7 63 L602.3 72.5 L602.9 69.4 L603.5 67 L604 58 L604.6 65.1 L605.2 60.8 L605.8 61.2 L606.4 71.9 L607 69.8 L607.6 79.8 L608.2 86.6 L608.8 75.1 L609.4 81.8 L610 79.4 L610.6 83.8 L611.2 91.4 L611.8 80.7 L612.4 95.7 L613 88.1 L613.5 79.8 L614.1 83.3 L614.7 90.4 L615.3 78.4 L615.9 82.9 L616.5 75 L617.1 89.2 L617.7 86.9 L618.3 81.7 L618.9 89.8 L619.5 75.8 L620.1 77 L620.7 92.8 L621.3 84.6 L621.9 91.3 L622.5 85.7 L623 78 L623.6 78.1 L624.2 79.8 L624.8 77.5 L625.4 75 L626 75 L626.6 73.5 L627.2 80.4 L627.8 86.4 L628.4 91.8 L629 76.5 L629.6 98.5 L630.2 106.8 L630.8 107.9 L631.4 116.9 L632 122 L632.5 121.6 L633.1 122.2 L633.7 123.3 L634.3 122.9 L634.9 115.5 L635.5 101.3 L636.1 101.5 L636.7 110.1 L637.3 107.1 L637.9 113.6 L638.5 116.2 L639.1 111.9 L639.7 118.8 L640.3 107.2 L640.9 114.1 L641.5 108 L642 104.2 L642.6 111.1 L643.2 106.5 L643.8 113.5 L644.4 104.5 L645 108.2 L645.6 105.4 L646.2 108.1 L646.8 108.7 L647.4 106.2 L648 113.1" fill="none" stroke="#111" stroke-width="0.7"/>
<g fill="#fff" stroke="#000" stroke-width="0.85"><circle cx="72" cy="136.4" r="2"/><circle cx="72.6" cy="116.7" r="2"/><circle cx="73.2" cy="79.5" r="2"/><circle cx="73.8" cy="72.5" r="2"/><circle cx="74.4" cy="63.8" r="2"/><circle cx="75" cy="59.1" r="2"/><circle cx="75.6" cy="62.3" r="2"/><circle cx="76.2" cy="64.7" r="2"/><circle cx="76.8" cy="73.5" r="2"/><circle cx="77.3" cy="80.1" r="2"/><circle cx="77.9" cy="93" r="2"/><circle cx="78.5" cy="81.7" r="2"/><circle cx="79.1" cy="83.2" r="2"/><circle cx="79.7" cy="80.3" r="2"/><circle cx="80.3" cy="89.2" r="2"/><circle cx="80.9" cy="86.6" r="2"/><circle cx="81.5" cy="82.2" r="2"/><circle cx="82.1" cy="75.8" r="2"/><circle cx="82.7" cy="77.6" r="2"/><circle cx="83.3" cy="80" r="2"/><circle cx="83.9" cy="77.8" r="2"/><circle cx="84.5" cy="93.1" r="2"/><circle cx="85.1" cy="98.6" r="2"/><circle cx="85.7" cy="75.2" r="2"/><circle cx="86.3" cy="78" r="2"/><circle cx="86.8" cy="84.7" r="2"/><circle cx="87.4" cy="89.9" r="2"/><circle cx="88" cy="98.8" r="2"/><circle cx="88.6" cy="103.1" r="2"/><circle cx="89.2" cy="116.4" r="2"/><circle cx="89.8" cy="102.5" r="2"/><circle cx="90.4" cy="102.2" r="2"/><circle cx="91" cy="118.5" r="2"/><circle cx="91.6" cy="116.8" r="2"/><circle cx="92.2" cy="115.5" r="2"/><circle cx="92.8" cy="106.9" r="2"/><circle cx="93.4" cy="97.7" r="2"/><circle cx="94" cy="105.7" r="2"/><circle cx="94.6" cy="107.2" r="2"/><circle cx="95.2" cy="97.1" r="2"/><circle cx="95.8" cy="96.5" r="2"/><circle cx="96.3" cy="100.3" r="2"/><circle cx="96.9" cy="93.4" r="2"/><circle cx="97.5" cy="97.2" r="2"/><circle cx="98.1" cy="98.8" r="2"/><circle cx="98.7" cy="97.6" r="2"/><circle cx="99.3" cy="92.1" r="2"/><circle cx="99.9" cy="96.6" r="2"/><circle cx="100.5" cy="101.9" r="2"/><circle cx="101.1" cy="101.4" r="2"/><circle cx="101.7" cy="94.6" r="2"/><circle cx="102.3" cy="104.1" r="2"/><circle cx="102.9" cy="99.9" r="2"/><circle cx="103.5" cy="108.7" r="2"/><circle cx="104.1" cy="99.1" r="2"/><circle cx="104.7" cy="109.5" r="2"/><circle cx="105.3" cy="107.8" r="2"/><circle cx="105.8" cy="101.1" r="2"/><circle cx="106.4" cy="102.2" r="2"/><circle cx="107" cy="103.2" r="2"/><circle cx="107.6" cy="103.6" r="2"/><circle cx="108.2" cy="94" r="2"/><circle cx="108.8" cy="88" r="2"/><circle cx="109.4" cy="94.8" r="2"/><circle cx="110" cy="92.2" r="2"/><circle cx="110.6" cy="95.5" r="2"/><circle cx="111.2" cy="99.4" r="2"/><circle cx="111.8" cy="85.3" r="2"/><circle cx="112.4" cy="91.5" r="2"/><circle cx="113" cy="98.4" r="2"/><circle cx="113.6" cy="93.4" r="2"/><circle cx="114.2" cy="89.1" r="2"/><circle cx="114.8" cy="97.6" r="2"/><circle cx="115.3" cy="98.2" r="2"/><circle cx="115.9" cy="103.2" r="2"/><circle cx="116.5" cy="114.5" r="2"/><circle cx="117.1" cy="122.9" r="2"/><circle cx="117.7" cy="131.9" r="2"/><circle cx="118.3" cy="136.2" r="2"/><circle cx="118.9" cy="144.7" r="2"/><circle cx="119.5" cy="147.6" r="2"/><circle cx="120.1" cy="141.6" r="2"/><circle cx="120.7" cy="143" r="2"/><circle cx="121.3" cy="156.8" r="2"/><circle cx="121.9" cy="163.9" r="2"/><circle cx="122.5" cy="156.1" r="2"/><circle cx="123.1" cy="158.6" r="2"/><circle cx="123.7" cy="163.5" r="2"/><circle cx="124.3" cy="165.9" r="2"/><circle cx="124.8" cy="170.4" r="2"/><circle cx="125.4" cy="167.4" r="2"/><circle cx="126" cy="164" r="2"/><circle cx="126.6" cy="161.8" r="2"/><circle cx="127.2" cy="172.2" r="2"/><circle cx="127.8" cy="151.8" r="2"/><circle cx="128.4" cy="158.1" r="2"/><circle cx="129" cy="163.1" r="2"/><circle cx="129.6" cy="152.6" r="2"/><circle cx="130.2" cy="164.2" r="2"/><circle cx="130.8" cy="160" r="2"/><circle cx="131.4" cy="172" r="2"/><circle cx="132" cy="167.8" r="2"/><circle cx="132.6" cy="173.5" r="2"/><circle cx="133.2" cy="180.7" r="2"/><circle cx="133.8" cy="176" r="2"/><circle cx="134.3" cy="163.4" r="2"/><circle cx="134.9" cy="155.3" r="2"/><circle cx="135.5" cy="179.3" r="2"/><circle cx="136.1" cy="172.1" r="2"/><circle cx="136.7" cy="164.6" r="2"/><circle cx="137.3" cy="169.8" r="2"/><circle cx="137.9" cy="169" r="2"/><circle cx="138.5" cy="178.6" r="2"/><circle cx="139.1" cy="174.9" r="2"/><circle cx="139.7" cy="173.8" r="2"/><circle cx="140.3" cy="167" r="2"/><circle cx="140.9" cy="176.1" r="2"/><circle cx="141.5" cy="163.5" r="2"/><circle cx="142.1" cy="174.2" r="2"/><circle cx="142.7" cy="184.3" r="2"/><circle cx="143.3" cy="157.9" r="2"/><circle cx="143.8" cy="150.2" r="2"/><circle cx="144.4" cy="160.3" r="2"/><circle cx="145" cy="178.4" r="2"/><circle cx="145.6" cy="160.1" r="2"/><circle cx="146.2" cy="147.5" r="2"/><circle cx="146.8" cy="161.5" r="2"/><circle cx="147.4" cy="151.4" r="2"/><circle cx="148" cy="150.8" r="2"/><circle cx="148.6" cy="151.7" r="2"/><circle cx="149.2" cy="160.1" r="2"/><circle cx="149.8" cy="153.5" r="2"/><circle cx="150.4" cy="156.6" r="2"/><circle cx="151" cy="152.2" r="2"/><circle cx="151.6" cy="143.5" r="2"/><circle cx="152.2" cy="144.3" r="2"/><circle cx="152.8" cy="137.8" r="2"/><circle cx="153.4" cy="143.2" r="2"/><circle cx="153.9" cy="133.9" r="2"/><circle cx="154.5" cy="128.8" r="2"/><circle cx="155.1" cy="146" r="2"/><circle cx="155.7" cy="137.1" r="2"/><circle cx="156.3" cy="131.8" r="2"/><circle cx="156.9" cy="131.8" r="2"/><circle cx="157.5" cy="117.6" r="2"/><circle cx="158.1" cy="107.7" r="2"/><circle cx="158.7" cy="99.3" r="2"/><circle cx="159.3" cy="86.4" r="2"/><circle cx="159.9" cy="64.7" r="2"/><circle cx="160.5" cy="72.6" r="2"/><circle cx="161.1" cy="62.2" r="2"/><circle cx="161.7" cy="58.8" r="2"/><circle cx="162.3" cy="59.3" r="2"/><circle cx="162.9" cy="63.4" r="2"/><circle cx="163.4" cy="78.6" r="2"/><circle cx="164" cy="66.7" r="2"/><circle cx="164.6" cy="72.3" r="2"/><circle cx="165.2" cy="63.4" r="2"/><circle cx="165.8" cy="70.1" r="2"/><circle cx="166.4" cy="81.9" r="2"/><circle cx="167" cy="78.4" r="2"/><circle cx="167.6" cy="75.2" r="2"/><circle cx="168.2" cy="82" r="2"/><circle cx="168.8" cy="89.5" r="2"/><circle cx="169.4" cy="93" r="2"/><circle cx="170" cy="100" r="2"/><circle cx="170.6" cy="97.5" r="2"/><circle cx="171.2" cy="88.5" r="2"/><circle cx="171.8" cy="90.5" r="2"/><circle cx="172.4" cy="92" r="2"/><circle cx="172.9" cy="94.3" r="2"/><circle cx="173.5" cy="94.1" r="2"/><circle cx="174.1" cy="96.2" r="2"/><circle cx="174.7" cy="81.7" r="2"/><circle cx="175.3" cy="98" r="2"/><circle cx="175.9" cy="91.9" r="2"/><circle cx="176.5" cy="84.7" r="2"/><circle cx="177.1" cy="98.6" r="2"/><circle cx="177.7" cy="110" r="2"/><circle cx="178.3" cy="107.1" r="2"/><circle cx="178.9" cy="103.5" r="2"/><circle cx="179.5" cy="92.5" r="2"/><circle cx="180.1" cy="114.2" r="2"/><circle cx="180.7" cy="114.9" r="2"/><circle cx="181.3" cy="96.4" r="2"/><circle cx="181.9" cy="92.8" r="2"/><circle cx="182.4" cy="99.7" r="2"/><circle cx="183" cy="87.5" r="2"/><circle cx="183.6" cy="98.4" r="2"/><circle cx="184.2" cy="96.6" r="2"/><circle cx="184.8" cy="112.6" r="2"/><circle cx="185.4" cy="115.8" r="2"/><circle cx="186" cy="87.5" r="2"/><circle cx="186.6" cy="95.4" r="2"/><circle cx="187.2" cy="87.4" r="2"/><circle cx="187.8" cy="107.3" r="2"/><circle cx="188.4" cy="105.8" r="2"/><circle cx="189" cy="108.9" r="2"/><circle cx="189.6" cy="93.5" r="2"/><circle cx="190.2" cy="117.2" r="2"/><circle cx="190.8" cy="117" r="2"/><circle cx="191.4" cy="99.5" r="2"/><circle cx="191.9" cy="104.2" r="2"/><circle cx="192.5" cy="95.1" r="2"/><circle cx="193.1" cy="98.5" r="2"/><circle cx="193.7" cy="86.7" r="2"/><circle cx="194.3" cy="115.2" r="2"/><circle cx="194.9" cy="95.4" r="2"/><circle cx="195.5" cy="95.4" r="2"/><circle cx="196.1" cy="103.8" r="2"/><circle cx="196.7" cy="94.4" r="2"/><circle cx="197.3" cy="95.8" r="2"/><circle cx="197.9" cy="93.8" r="2"/><circle cx="198.5" cy="97.8" r="2"/><circle cx="199.1" cy="90.9" r="2"/><circle cx="199.7" cy="95.4" r="2"/><circle cx="200.3" cy="101.7" r="2"/><circle cx="200.9" cy="108.5" r="2"/><circle cx="201.4" cy="117.7" r="2"/><circle cx="202" cy="126.4" r="2"/><circle cx="202.6" cy="142.3" r="2"/><circle cx="203.2" cy="145.8" r="2"/><circle cx="203.8" cy="148.8" r="2"/><circle cx="204.4" cy="148.7" r="2"/><circle cx="205" cy="151.5" r="2"/><circle cx="205.6" cy="149.5" r="2"/><circle cx="206.2" cy="162.7" r="2"/><circle cx="206.8" cy="155.8" r="2"/><circle cx="207.4" cy="156.9" r="2"/><circle cx="208" cy="165.9" r="2"/><circle cx="208.6" cy="170" r="2"/><circle cx="209.2" cy="166.6" r="2"/><circle cx="209.8" cy="159" r="2"/><circle cx="210.4" cy="167.9" r="2"/><circle cx="210.9" cy="171.2" r="2"/><circle cx="211.5" cy="161.4" r="2"/><circle cx="212.1" cy="172.5" r="2"/><circle cx="212.7" cy="166.8" r="2"/><circle cx="213.3" cy="162.4" r="2"/><circle cx="213.9" cy="168.7" r="2"/><circle cx="214.5" cy="168" r="2"/><circle cx="215.1" cy="169.3" r="2"/><circle cx="215.7" cy="157.3" r="2"/><circle cx="216.3" cy="174.7" r="2"/><circle cx="216.9" cy="163.7" r="2"/><circle cx="217.5" cy="152.8" r="2"/><circle cx="218.1" cy="162.9" r="2"/><circle cx="218.7" cy="159.8" r="2"/><circle cx="219.3" cy="163.4" r="2"/><circle cx="219.9" cy="159.7" r="2"/><circle cx="220.4" cy="160.2" r="2"/><circle cx="221" cy="162.3" r="2"/><circle cx="221.6" cy="155.9" r="2"/><circle cx="222.2" cy="163.4" r="2"/><circle cx="222.8" cy="157.9" r="2"/><circle cx="223.4" cy="153" r="2"/><circle cx="224" cy="157.8" r="2"/><circle cx="224.6" cy="162.1" r="2"/><circle cx="225.2" cy="158.6" r="2"/><circle cx="225.8" cy="152.5" r="2"/><circle cx="226.4" cy="161.3" r="2"/><circle cx="227" cy="147.1" r="2"/><circle cx="227.6" cy="146.8" r="2"/><circle cx="228.2" cy="152.5" r="2"/><circle cx="228.8" cy="138.6" r="2"/><circle cx="229.4" cy="139.1" r="2"/><circle cx="230" cy="134" r="2"/><circle cx="230.5" cy="132.8" r="2"/><circle cx="231.1" cy="120" r="2"/><circle cx="231.7" cy="119.2" r="2"/><circle cx="232.3" cy="124.1" r="2"/><circle cx="232.9" cy="116.1" r="2"/><circle cx="233.5" cy="133" r="2"/><circle cx="234.1" cy="125.7" r="2"/><circle cx="234.7" cy="122.3" r="2"/><circle cx="235.3" cy="130.6" r="2"/><circle cx="235.9" cy="129.1" r="2"/><circle cx="236.5" cy="120.6" r="2"/><circle cx="237.1" cy="129.7" r="2"/><circle cx="237.7" cy="131.2" r="2"/><circle cx="238.3" cy="121.7" r="2"/><circle cx="238.9" cy="117" r="2"/><circle cx="239.5" cy="118.3" r="2"/><circle cx="240" cy="106" r="2"/><circle cx="240.6" cy="102.1" r="2"/><circle cx="241.2" cy="92.1" r="2"/><circle cx="241.8" cy="77.1" r="2"/><circle cx="242.4" cy="67.2" r="2"/><circle cx="243" cy="66.7" r="2"/><circle cx="243.6" cy="66.3" r="2"/><circle cx="244.2" cy="72.4" r="2"/><circle cx="244.8" cy="72.4" r="2"/><circle cx="245.4" cy="76.1" r="2"/><circle cx="246" cy="76.8" r="2"/><circle cx="246.6" cy="78.9" r="2"/><circle cx="247.2" cy="76" r="2"/><circle cx="247.8" cy="83.6" r="2"/><circle cx="248.4" cy="91" r="2"/><circle cx="249" cy="85.1" r="2"/><circle cx="249.5" cy="80.7" r="2"/><circle cx="250.1" cy="82.1" r="2"/><circle cx="250.7" cy="80.9" r="2"/><circle cx="251.3" cy="79.3" r="2"/><circle cx="251.9" cy="84.7" r="2"/><circle cx="252.5" cy="84.6" r="2"/><circle cx="253.1" cy="98.7" r="2"/><circle cx="253.7" cy="93.7" r="2"/><circle cx="254.3" cy="95.4" r="2"/><circle cx="254.9" cy="102.7" r="2"/><circle cx="255.5" cy="94.9" r="2"/><circle cx="256.1" cy="109.8" r="2"/><circle cx="256.7" cy="95.5" r="2"/><circle cx="257.3" cy="88.7" r="2"/><circle cx="257.9" cy="90.9" r="2"/><circle cx="258.5" cy="94.4" r="2"/><circle cx="259" cy="82.3" r="2"/><circle cx="259.6" cy="92.6" r="2"/><circle cx="260.2" cy="82.8" r="2"/><circle cx="260.8" cy="106.8" r="2"/><circle cx="261.4" cy="101.1" r="2"/><circle cx="262" cy="93.4" r="2"/><circle cx="262.6" cy="88.3" r="2"/><circle cx="263.2" cy="91.8" r="2"/><circle cx="263.8" cy="94.3" r="2"/><circle cx="264.4" cy="88.7" r="2"/><circle cx="265" cy="88.3" r="2"/><circle cx="265.6" cy="93.2" r="2"/><circle cx="266.2" cy="92.8" r="2"/><circle cx="266.8" cy="99.9" r="2"/><circle cx="267.4" cy="102.8" r="2"/><circle cx="268" cy="98.9" r="2"/><circle cx="268.5" cy="99.7" r="2"/><circle cx="269.1" cy="92.2" r="2"/><circle cx="269.7" cy="98.1" r="2"/><circle cx="270.3" cy="97.4" r="2"/><circle cx="270.9" cy="99.3" r="2"/><circle cx="271.5" cy="103.5" r="2"/><circle cx="272.1" cy="91.5" r="2"/><circle cx="272.7" cy="96.6" r="2"/><circle cx="273.3" cy="92.9" r="2"/><circle cx="273.9" cy="99.6" r="2"/><circle cx="274.5" cy="92.9" r="2"/><circle cx="275.1" cy="94.7" r="2"/><circle cx="275.7" cy="99.4" r="2"/><circle cx="276.3" cy="103.8" r="2"/><circle cx="276.9" cy="102.6" r="2"/><circle cx="277.5" cy="96.7" r="2"/><circle cx="278" cy="96.2" r="2"/><circle cx="278.6" cy="105.5" r="2"/><circle cx="279.2" cy="103" r="2"/><circle cx="279.8" cy="91.5" r="2"/><circle cx="280.4" cy="104" r="2"/><circle cx="281" cy="105.8" r="2"/><circle cx="281.6" cy="109.9" r="2"/><circle cx="282.2" cy="102.8" r="2"/><circle cx="282.8" cy="108.7" r="2"/><circle cx="283.4" cy="97.7" r="2"/><circle cx="284" cy="105.2" r="2"/><circle cx="284.6" cy="100.8" r="2"/><circle cx="285.2" cy="108.7" r="2"/><circle cx="285.8" cy="118.3" r="2"/><circle cx="286.4" cy="116" r="2"/><circle cx="287" cy="122.1" r="2"/><circle cx="287.5" cy="128" r="2"/><circle cx="288.1" cy="139" r="2"/><circle cx="288.7" cy="140.2" r="2"/><circle cx="289.3" cy="129.5" r="2"/><circle cx="289.9" cy="137" r="2"/><circle cx="290.5" cy="142.6" r="2"/><circle cx="291.1" cy="149.2" r="2"/><circle cx="291.7" cy="133.1" r="2"/><circle cx="292.3" cy="134.1" r="2"/><circle cx="292.9" cy="150.3" r="2"/><circle cx="293.5" cy="133.9" r="2"/><circle cx="294.1" cy="129.5" r="2"/><circle cx="294.7" cy="141.6" r="2"/><circle cx="295.3" cy="149.8" r="2"/><circle cx="295.9" cy="139.1" r="2"/><circle cx="296.5" cy="145" r="2"/><circle cx="297.1" cy="143.5" r="2"/><circle cx="297.6" cy="152.3" r="2"/><circle cx="298.2" cy="144.2" r="2"/><circle cx="298.8" cy="147.8" r="2"/><circle cx="299.4" cy="135.5" r="2"/><circle cx="300" cy="135.9" r="2"/><circle cx="300.6" cy="136.2" r="2"/><circle cx="301.2" cy="143.2" r="2"/><circle cx="301.8" cy="141.6" r="2"/><circle cx="302.4" cy="133.5" r="2"/><circle cx="303" cy="138.7" r="2"/><circle cx="303.6" cy="141" r="2"/><circle cx="304.2" cy="136.6" r="2"/><circle cx="304.8" cy="134.1" r="2"/><circle cx="305.4" cy="133.5" r="2"/><circle cx="306" cy="125.9" r="2"/><circle cx="306.6" cy="132.1" r="2"/><circle cx="307.1" cy="134.9" r="2"/><circle cx="307.7" cy="129.3" r="2"/><circle cx="308.3" cy="136.6" r="2"/><circle cx="308.9" cy="126.6" r="2"/><circle cx="309.5" cy="127.7" r="2"/><circle cx="310.1" cy="128.4" r="2"/><circle cx="310.7" cy="142" r="2"/><circle cx="311.3" cy="126.9" r="2"/><circle cx="311.9" cy="133.8" r="2"/><circle cx="312.5" cy="138.5" r="2"/><circle cx="313.1" cy="136.8" r="2"/><circle cx="313.7" cy="141" r="2"/><circle cx="314.3" cy="129.6" r="2"/><circle cx="314.9" cy="123.5" r="2"/><circle cx="315.5" cy="132" r="2"/><circle cx="316.1" cy="125.3" r="2"/><circle cx="316.6" cy="128" r="2"/><circle cx="317.2" cy="123.9" r="2"/><circle cx="317.8" cy="135.8" r="2"/><circle cx="318.4" cy="139.1" r="2"/><circle cx="319" cy="130.2" r="2"/><circle cx="319.6" cy="137.6" r="2"/><circle cx="320.2" cy="135.2" r="2"/><circle cx="320.8" cy="132.5" r="2"/><circle cx="321.4" cy="132.9" r="2"/><circle cx="322" cy="131.2" r="2"/><circle cx="322.6" cy="133.9" r="2"/><circle cx="323.2" cy="130.9" r="2"/><circle cx="323.8" cy="124" r="2"/><circle cx="324.4" cy="128.2" r="2"/><circle cx="325" cy="118.6" r="2"/><circle cx="325.6" cy="111.9" r="2"/><circle cx="326.1" cy="105.4" r="2"/><circle cx="326.7" cy="111.1" r="2"/><circle cx="327.3" cy="78.9" r="2"/><circle cx="327.9" cy="78.8" r="2"/><circle cx="328.5" cy="57.1" r="2"/><circle cx="329.1" cy="53.7" r="2"/><circle cx="329.7" cy="50.6" r="2"/><circle cx="330.3" cy="54.4" r="2"/><circle cx="330.9" cy="56.1" r="2"/><circle cx="331.5" cy="54.2" r="2"/><circle cx="332.1" cy="54.8" r="2"/><circle cx="332.7" cy="59.7" r="2"/><circle cx="333.3" cy="62.2" r="2"/><circle cx="333.9" cy="74.5" r="2"/><circle cx="334.5" cy="81.3" r="2"/><circle cx="335.1" cy="83.2" r="2"/><circle cx="335.6" cy="82" r="2"/><circle cx="336.2" cy="78.7" r="2"/><circle cx="336.8" cy="81.5" r="2"/><circle cx="337.4" cy="88.2" r="2"/><circle cx="338" cy="93.5" r="2"/><circle cx="338.6" cy="93.9" r="2"/><circle cx="339.2" cy="87.7" r="2"/><circle cx="339.8" cy="86.9" r="2"/><circle cx="340.4" cy="83.8" r="2"/><circle cx="341" cy="81" r="2"/><circle cx="341.6" cy="83.5" r="2"/><circle cx="342.2" cy="86.9" r="2"/><circle cx="342.8" cy="96.4" r="2"/><circle cx="343.4" cy="91.6" r="2"/><circle cx="344" cy="97.3" r="2"/><circle cx="344.6" cy="97.7" r="2"/><circle cx="345.1" cy="93.9" r="2"/><circle cx="345.7" cy="98.7" r="2"/><circle cx="346.3" cy="98.2" r="2"/><circle cx="346.9" cy="89.1" r="2"/><circle cx="347.5" cy="91" r="2"/><circle cx="348.1" cy="90" r="2"/><circle cx="348.7" cy="87.8" r="2"/><circle cx="349.3" cy="87.4" r="2"/><circle cx="349.9" cy="89.7" r="2"/><circle cx="350.5" cy="92.5" r="2"/><circle cx="351.1" cy="85" r="2"/><circle cx="351.7" cy="88.1" r="2"/><circle cx="352.3" cy="80.9" r="2"/><circle cx="352.9" cy="88.3" r="2"/><circle cx="353.5" cy="92.8" r="2"/><circle cx="354.1" cy="91.8" r="2"/><circle cx="354.6" cy="92" r="2"/><circle cx="355.2" cy="93.4" r="2"/><circle cx="355.8" cy="88.2" r="2"/><circle cx="356.4" cy="88.4" r="2"/><circle cx="357" cy="91.5" r="2"/><circle cx="357.6" cy="94.3" r="2"/><circle cx="358.2" cy="92.8" r="2"/><circle cx="358.8" cy="95.3" r="2"/><circle cx="359.4" cy="93" r="2"/><circle cx="360" cy="94.4" r="2"/><circle cx="360.6" cy="95" r="2"/><circle cx="361.2" cy="91.3" r="2"/><circle cx="361.8" cy="87.4" r="2"/><circle cx="362.4" cy="84.9" r="2"/><circle cx="363" cy="88.4" r="2"/><circle cx="363.6" cy="92.8" r="2"/><circle cx="364.1" cy="91.6" r="2"/><circle cx="364.7" cy="90.9" r="2"/><circle cx="365.3" cy="89" r="2"/><circle cx="365.9" cy="91.3" r="2"/><circle cx="366.5" cy="85.2" r="2"/><circle cx="367.1" cy="88.5" r="2"/><circle cx="367.7" cy="89.6" r="2"/><circle cx="368.3" cy="85.8" r="2"/><circle cx="368.9" cy="95.1" r="2"/><circle cx="369.5" cy="87.9" r="2"/><circle cx="370.1" cy="86.1" r="2"/><circle cx="370.7" cy="85.5" r="2"/><circle cx="371.3" cy="96" r="2"/><circle cx="371.9" cy="96.2" r="2"/><circle cx="372.5" cy="108.9" r="2"/><circle cx="373.1" cy="118.1" r="2"/><circle cx="373.7" cy="124.4" r="2"/><circle cx="374.2" cy="123.1" r="2"/><circle cx="374.8" cy="124.1" r="2"/><circle cx="375.4" cy="134.3" r="2"/><circle cx="376" cy="125.9" r="2"/><circle cx="376.6" cy="125.1" r="2"/><circle cx="377.2" cy="128.3" r="2"/><circle cx="377.8" cy="134.9" r="2"/><circle cx="378.4" cy="135" r="2"/><circle cx="379" cy="138.2" r="2"/><circle cx="379.6" cy="129.7" r="2"/><circle cx="380.2" cy="138.5" r="2"/><circle cx="380.8" cy="139.3" r="2"/><circle cx="381.4" cy="126.8" r="2"/><circle cx="382" cy="140.9" r="2"/><circle cx="382.6" cy="143.5" r="2"/><circle cx="383.2" cy="135.5" r="2"/><circle cx="383.7" cy="135.2" r="2"/><circle cx="384.3" cy="143" r="2"/><circle cx="384.9" cy="128.7" r="2"/><circle cx="385.5" cy="125.3" r="2"/><circle cx="386.1" cy="125.1" r="2"/><circle cx="386.7" cy="126.1" r="2"/><circle cx="387.3" cy="127.5" r="2"/><circle cx="387.9" cy="134.8" r="2"/><circle cx="388.5" cy="135.2" r="2"/><circle cx="389.1" cy="126.2" r="2"/><circle cx="389.7" cy="133.7" r="2"/><circle cx="390.3" cy="141.5" r="2"/><circle cx="390.9" cy="141.5" r="2"/><circle cx="391.5" cy="141.5" r="2"/><circle cx="392.1" cy="136" r="2"/><circle cx="392.7" cy="139.5" r="2"/><circle cx="393.2" cy="129.3" r="2"/><circle cx="393.8" cy="135.8" r="2"/><circle cx="394.4" cy="133.1" r="2"/><circle cx="395" cy="139.4" r="2"/><circle cx="395.6" cy="137.5" r="2"/><circle cx="396.2" cy="126.6" r="2"/><circle cx="396.8" cy="130.2" r="2"/><circle cx="397.4" cy="139" r="2"/><circle cx="398" cy="125.2" r="2"/><circle cx="398.6" cy="123.9" r="2"/><circle cx="399.2" cy="121.3" r="2"/><circle cx="399.8" cy="116.8" r="2"/><circle cx="400.4" cy="131.5" r="2"/><circle cx="401" cy="141" r="2"/><circle cx="401.6" cy="140.1" r="2"/><circle cx="402.2" cy="134.9" r="2"/><circle cx="402.7" cy="130.2" r="2"/><circle cx="403.3" cy="131.2" r="2"/><circle cx="403.9" cy="122.1" r="2"/><circle cx="404.5" cy="134.8" r="2"/><circle cx="405.1" cy="140.9" r="2"/><circle cx="405.7" cy="141.2" r="2"/><circle cx="406.3" cy="126.7" r="2"/><circle cx="406.9" cy="127.4" r="2"/><circle cx="407.5" cy="125.1" r="2"/><circle cx="408.1" cy="139.6" r="2"/><circle cx="408.7" cy="132.5" r="2"/><circle cx="409.3" cy="110.6" r="2"/><circle cx="409.9" cy="117.1" r="2"/><circle cx="410.5" cy="124.8" r="2"/><circle cx="411.1" cy="117.9" r="2"/><circle cx="411.7" cy="112.5" r="2"/><circle cx="412.2" cy="101.7" r="2"/><circle cx="412.8" cy="80.3" r="2"/><circle cx="413.4" cy="72.4" r="2"/><circle cx="414" cy="64.4" r="2"/><circle cx="414.6" cy="60.1" r="2"/><circle cx="415.2" cy="56.7" r="2"/><circle cx="415.8" cy="55.4" r="2"/><circle cx="416.4" cy="49.3" r="2"/><circle cx="417" cy="51.4" r="2"/><circle cx="417.6" cy="49.5" r="2"/><circle cx="418.2" cy="48.5" r="2"/><circle cx="418.8" cy="55.3" r="2"/><circle cx="419.4" cy="53.9" r="2"/><circle cx="420" cy="53.7" r="2"/><circle cx="420.6" cy="56.6" r="2"/><circle cx="421.2" cy="63.4" r="2"/><circle cx="421.7" cy="62.3" r="2"/><circle cx="422.3" cy="64.7" r="2"/><circle cx="422.9" cy="69.9" r="2"/><circle cx="423.5" cy="68.6" r="2"/><circle cx="424.1" cy="70.6" r="2"/><circle cx="424.7" cy="74.2" r="2"/><circle cx="425.3" cy="76.6" r="2"/><circle cx="425.9" cy="87.1" r="2"/><circle cx="426.5" cy="86.9" r="2"/><circle cx="427.1" cy="76.3" r="2"/><circle cx="427.7" cy="76.9" r="2"/><circle cx="428.3" cy="87.1" r="2"/><circle cx="428.9" cy="96.2" r="2"/><circle cx="429.5" cy="94.5" r="2"/><circle cx="430.1" cy="92.7" r="2"/><circle cx="430.7" cy="98.5" r="2"/><circle cx="431.2" cy="92.9" r="2"/><circle cx="431.8" cy="87.6" r="2"/><circle cx="432.4" cy="78.1" r="2"/><circle cx="433" cy="81" r="2"/><circle cx="433.6" cy="98.5" r="2"/><circle cx="434.2" cy="82.6" r="2"/><circle cx="434.8" cy="86.2" r="2"/><circle cx="435.4" cy="77.8" r="2"/><circle cx="436" cy="85.7" r="2"/><circle cx="436.6" cy="93.8" r="2"/><circle cx="437.2" cy="89" r="2"/><circle cx="437.8" cy="94.2" r="2"/><circle cx="438.4" cy="96.1" r="2"/><circle cx="439" cy="95" r="2"/><circle cx="439.6" cy="100.3" r="2"/><circle cx="440.2" cy="100.1" r="2"/><circle cx="440.7" cy="91.4" r="2"/><circle cx="441.3" cy="86" r="2"/><circle cx="441.9" cy="83.3" r="2"/><circle cx="442.5" cy="90.7" r="2"/><circle cx="443.1" cy="88.3" r="2"/><circle cx="443.7" cy="99" r="2"/><circle cx="444.3" cy="98.8" r="2"/><circle cx="444.9" cy="94.2" r="2"/><circle cx="445.5" cy="89.7" r="2"/><circle cx="446.1" cy="98.1" r="2"/><circle cx="446.7" cy="83.6" r="2"/><circle cx="447.3" cy="85.9" r="2"/><circle cx="447.9" cy="93.2" r="2"/><circle cx="448.5" cy="87.3" r="2"/><circle cx="449.1" cy="87.4" r="2"/><circle cx="449.7" cy="88" r="2"/><circle cx="450.3" cy="92.3" r="2"/><circle cx="450.8" cy="91.7" r="2"/><circle cx="451.4" cy="92.6" r="2"/><circle cx="452" cy="93.8" r="2"/><circle cx="452.6" cy="91.7" r="2"/><circle cx="453.2" cy="96.2" r="2"/><circle cx="453.8" cy="88.5" r="2"/><circle cx="454.4" cy="81.9" r="2"/><circle cx="455" cy="81.5" r="2"/><circle cx="455.6" cy="81" r="2"/><circle cx="456.2" cy="81.3" r="2"/><circle cx="456.8" cy="92.5" r="2"/><circle cx="457.4" cy="91.3" r="2"/><circle cx="458" cy="95.3" r="2"/><circle cx="458.6" cy="103.8" r="2"/><circle cx="459.2" cy="115.8" r="2"/><circle cx="459.8" cy="123.8" r="2"/><circle cx="460.3" cy="125" r="2"/><circle cx="460.9" cy="123" r="2"/><circle cx="461.5" cy="126.8" r="2"/><circle cx="462.1" cy="137.6" r="2"/><circle cx="462.7" cy="125.5" r="2"/><circle cx="463.3" cy="128.9" r="2"/><circle cx="463.9" cy="125.5" r="2"/><circle cx="464.5" cy="130.3" r="2"/><circle cx="465.1" cy="128.5" r="2"/><circle cx="465.7" cy="125.5" r="2"/><circle cx="466.3" cy="129.8" r="2"/><circle cx="466.9" cy="142.5" r="2"/><circle cx="467.5" cy="137.6" r="2"/><circle cx="468.1" cy="141.7" r="2"/><circle cx="468.7" cy="136.3" r="2"/><circle cx="469.3" cy="125.5" r="2"/><circle cx="469.8" cy="132.8" r="2"/><circle cx="470.4" cy="131.3" r="2"/><circle cx="471" cy="125.5" r="2"/><circle cx="471.6" cy="135.2" r="2"/><circle cx="472.2" cy="135.9" r="2"/><circle cx="472.8" cy="131.3" r="2"/><circle cx="473.4" cy="137.6" r="2"/><circle cx="474" cy="129.3" r="2"/><circle cx="474.6" cy="135.3" r="2"/><circle cx="475.2" cy="127.4" r="2"/><circle cx="475.8" cy="133.8" r="2"/><circle cx="476.4" cy="125.2" r="2"/><circle cx="477" cy="139.1" r="2"/><circle cx="477.6" cy="135.6" r="2"/><circle cx="478.2" cy="141.5" r="2"/><circle cx="478.8" cy="129.4" r="2"/><circle cx="479.3" cy="127.3" r="2"/><circle cx="479.9" cy="135.5" r="2"/><circle cx="480.5" cy="120.9" r="2"/><circle cx="481.1" cy="121" r="2"/><circle cx="481.7" cy="133.7" r="2"/><circle cx="482.3" cy="135.3" r="2"/><circle cx="482.9" cy="139.2" r="2"/><circle cx="483.5" cy="132.1" r="2"/><circle cx="484.1" cy="135.4" r="2"/><circle cx="484.7" cy="128.2" r="2"/><circle cx="485.3" cy="121.9" r="2"/><circle cx="485.9" cy="122.1" r="2"/><circle cx="486.5" cy="123.5" r="2"/><circle cx="487.1" cy="125.6" r="2"/><circle cx="487.7" cy="125.9" r="2"/><circle cx="488.3" cy="122.9" r="2"/><circle cx="488.8" cy="123.1" r="2"/><circle cx="489.4" cy="123.3" r="2"/><circle cx="490" cy="130.2" r="2"/><circle cx="490.6" cy="127.6" r="2"/><circle cx="491.2" cy="124.6" r="2"/><circle cx="491.8" cy="121.7" r="2"/><circle cx="492.4" cy="136.6" r="2"/><circle cx="493" cy="125.4" r="2"/><circle cx="493.6" cy="138.1" r="2"/><circle cx="494.2" cy="137.5" r="2"/><circle cx="494.8" cy="130.7" r="2"/><circle cx="495.4" cy="117.3" r="2"/><circle cx="496" cy="115.3" r="2"/><circle cx="496.6" cy="99.4" r="2"/><circle cx="497.2" cy="104.5" r="2"/><circle cx="497.8" cy="99.5" r="2"/><circle cx="498.3" cy="99.4" r="2"/><circle cx="498.9" cy="92.6" r="2"/><circle cx="499.5" cy="79.5" r="2"/><circle cx="500.1" cy="60.5" r="2"/><circle cx="500.7" cy="62.7" r="2"/><circle cx="501.3" cy="54.8" r="2"/><circle cx="501.9" cy="51.4" r="2"/><circle cx="502.5" cy="54" r="2"/><circle cx="503.1" cy="55.7" r="2"/><circle cx="503.7" cy="65.3" r="2"/><circle cx="504.3" cy="69.7" r="2"/><circle cx="504.9" cy="72.8" r="2"/><circle cx="505.5" cy="70.6" r="2"/><circle cx="506.1" cy="71.7" r="2"/><circle cx="506.7" cy="69.5" r="2"/><circle cx="507.3" cy="67" r="2"/><circle cx="507.8" cy="74" r="2"/><circle cx="508.4" cy="76.6" r="2"/><circle cx="509" cy="72" r="2"/><circle cx="509.6" cy="79.3" r="2"/><circle cx="510.2" cy="71.8" r="2"/><circle cx="510.8" cy="76.3" r="2"/><circle cx="511.4" cy="76.3" r="2"/><circle cx="512" cy="77.4" r="2"/><circle cx="512.6" cy="75.4" r="2"/><circle cx="513.2" cy="85.6" r="2"/><circle cx="513.8" cy="87.7" r="2"/><circle cx="514.4" cy="92.2" r="2"/><circle cx="515" cy="88.8" r="2"/><circle cx="515.6" cy="79.6" r="2"/><circle cx="516.2" cy="81.1" r="2"/><circle cx="516.8" cy="76.5" r="2"/><circle cx="517.4" cy="85.3" r="2"/><circle cx="517.9" cy="94" r="2"/><circle cx="518.5" cy="91.2" r="2"/><circle cx="519.1" cy="83.2" r="2"/><circle cx="519.7" cy="81.9" r="2"/><circle cx="520.3" cy="86.2" r="2"/><circle cx="520.9" cy="73.7" r="2"/><circle cx="521.5" cy="83" r="2"/><circle cx="522.1" cy="86.9" r="2"/><circle cx="522.7" cy="81.5" r="2"/><circle cx="523.3" cy="80.7" r="2"/><circle cx="523.9" cy="86.1" r="2"/><circle cx="524.5" cy="78.3" r="2"/><circle cx="525.1" cy="75.4" r="2"/><circle cx="525.7" cy="90.4" r="2"/><circle cx="526.3" cy="89.9" r="2"/><circle cx="526.9" cy="101" r="2"/><circle cx="527.4" cy="82.9" r="2"/><circle cx="528" cy="72.7" r="2"/><circle cx="528.6" cy="88.4" r="2"/><circle cx="529.2" cy="94.8" r="2"/><circle cx="529.8" cy="82.7" r="2"/><circle cx="530.4" cy="73.7" r="2"/><circle cx="531" cy="80.7" r="2"/><circle cx="531.6" cy="74.1" r="2"/><circle cx="532.2" cy="77.6" r="2"/><circle cx="532.8" cy="74.6" r="2"/><circle cx="533.4" cy="77.2" r="2"/><circle cx="534" cy="75.1" r="2"/><circle cx="534.6" cy="77.5" r="2"/><circle cx="535.2" cy="90.9" r="2"/><circle cx="535.8" cy="85.3" r="2"/><circle cx="536.4" cy="89.7" r="2"/><circle cx="536.9" cy="83" r="2"/><circle cx="537.5" cy="79.3" r="2"/><circle cx="538.1" cy="76.8" r="2"/><circle cx="538.7" cy="88.4" r="2"/><circle cx="539.3" cy="86.8" r="2"/><circle cx="539.9" cy="96.4" r="2"/><circle cx="540.5" cy="82.9" r="2"/><circle cx="541.1" cy="83.9" r="2"/><circle cx="541.7" cy="86.1" r="2"/><circle cx="542.3" cy="97.1" r="2"/><circle cx="542.9" cy="102.4" r="2"/><circle cx="543.5" cy="96.9" r="2"/><circle cx="544.1" cy="98.1" r="2"/><circle cx="544.7" cy="105.9" r="2"/><circle cx="545.3" cy="120.4" r="2"/><circle cx="545.9" cy="120.3" r="2"/><circle cx="546.4" cy="118.8" r="2"/><circle cx="547" cy="122" r="2"/><circle cx="547.6" cy="117" r="2"/><circle cx="548.2" cy="117.5" r="2"/><circle cx="548.8" cy="125.1" r="2"/><circle cx="549.4" cy="127.8" r="2"/><circle cx="550" cy="127.9" r="2"/><circle cx="550.6" cy="122.3" r="2"/><circle cx="551.2" cy="129.2" r="2"/><circle cx="551.8" cy="137.2" r="2"/><circle cx="552.4" cy="125.4" r="2"/><circle cx="553" cy="127.5" r="2"/><circle cx="553.6" cy="125.8" r="2"/><circle cx="554.2" cy="129.6" r="2"/><circle cx="554.8" cy="129" r="2"/><circle cx="555.4" cy="127.9" r="2"/><circle cx="555.9" cy="123.4" r="2"/><circle cx="556.5" cy="126.6" r="2"/><circle cx="557.1" cy="124.5" r="2"/><circle cx="557.7" cy="126.3" r="2"/><circle cx="558.3" cy="127.6" r="2"/><circle cx="558.9" cy="132.5" r="2"/><circle cx="559.5" cy="127.4" r="2"/><circle cx="560.1" cy="127.4" r="2"/><circle cx="560.7" cy="135.7" r="2"/><circle cx="561.3" cy="131.4" r="2"/><circle cx="561.9" cy="129.9" r="2"/><circle cx="562.5" cy="136.3" r="2"/><circle cx="563.1" cy="135.2" r="2"/><circle cx="563.7" cy="133.3" r="2"/><circle cx="564.3" cy="133.2" r="2"/><circle cx="564.9" cy="124.6" r="2"/><circle cx="565.4" cy="131.2" r="2"/><circle cx="566" cy="138.2" r="2"/><circle cx="566.6" cy="136.2" r="2"/><circle cx="567.2" cy="123.3" r="2"/><circle cx="567.8" cy="128.9" r="2"/><circle cx="568.4" cy="123.8" r="2"/><circle cx="569" cy="125.3" r="2"/><circle cx="569.6" cy="127.2" r="2"/><circle cx="570.2" cy="120.5" r="2"/><circle cx="570.8" cy="130.6" r="2"/><circle cx="571.4" cy="126.5" r="2"/><circle cx="572" cy="128.7" r="2"/><circle cx="572.6" cy="128.2" r="2"/><circle cx="573.2" cy="130.4" r="2"/><circle cx="573.8" cy="130.2" r="2"/><circle cx="574.4" cy="118.6" r="2"/><circle cx="574.9" cy="121" r="2"/><circle cx="575.5" cy="115" r="2"/><circle cx="576.1" cy="115.8" r="2"/><circle cx="576.7" cy="122.7" r="2"/><circle cx="577.3" cy="126" r="2"/><circle cx="577.9" cy="128.5" r="2"/><circle cx="578.5" cy="119.9" r="2"/><circle cx="579.1" cy="118.7" r="2"/><circle cx="579.7" cy="115.7" r="2"/><circle cx="580.3" cy="119.6" r="2"/><circle cx="580.9" cy="118.9" r="2"/><circle cx="581.5" cy="107.9" r="2"/><circle cx="582.1" cy="113.1" r="2"/><circle cx="582.7" cy="108.1" r="2"/><circle cx="583.3" cy="90.5" r="2"/><circle cx="583.9" cy="90.1" r="2"/><circle cx="584.4" cy="87.8" r="2"/><circle cx="585" cy="80.9" r="2"/><circle cx="585.6" cy="61.8" r="2"/><circle cx="586.2" cy="68.9" r="2"/><circle cx="586.8" cy="53.2" r="2"/><circle cx="587.4" cy="49.9" r="2"/><circle cx="588" cy="47.2" r="2"/><circle cx="588.6" cy="36.4" r="2"/><circle cx="589.2" cy="33" r="2"/><circle cx="589.8" cy="34" r="2"/><circle cx="590.4" cy="44.9" r="2"/><circle cx="591" cy="51.9" r="2"/><circle cx="591.6" cy="59.4" r="2"/><circle cx="592.2" cy="54.7" r="2"/><circle cx="592.8" cy="62.6" r="2"/><circle cx="593.4" cy="72.1" r="2"/><circle cx="594" cy="61" r="2"/><circle cx="594.5" cy="65.1" r="2"/><circle cx="595.1" cy="69.9" r="2"/><circle cx="595.7" cy="71.1" r="2"/><circle cx="596.3" cy="71.1" r="2"/><circle cx="596.9" cy="77.4" r="2"/><circle cx="597.5" cy="76.7" r="2"/><circle cx="598.1" cy="75.8" r="2"/><circle cx="598.7" cy="67.9" r="2"/><circle cx="599.3" cy="74.5" r="2"/><circle cx="599.9" cy="72" r="2"/><circle cx="600.5" cy="65.8" r="2"/><circle cx="601.1" cy="64.2" r="2"/><circle cx="601.7" cy="63" r="2"/><circle cx="602.3" cy="72.5" r="2"/><circle cx="602.9" cy="69.4" r="2"/><circle cx="603.5" cy="67" r="2"/><circle cx="604" cy="58" r="2"/><circle cx="604.6" cy="65.1" r="2"/><circle cx="605.2" cy="60.8" r="2"/><circle cx="605.8" cy="61.2" r="2"/><circle cx="606.4" cy="71.9" r="2"/><circle cx="607" cy="69.8" r="2"/><circle cx="607.6" cy="79.8" r="2"/><circle cx="608.2" cy="86.6" r="2"/><circle cx="608.8" cy="75.1" r="2"/><circle cx="609.4" cy="81.8" r="2"/><circle cx="610" cy="79.4" r="2"/><circle cx="610.6" cy="83.8" r="2"/><circle cx="611.2" cy="91.4" r="2"/><circle cx="611.8" cy="80.7" r="2"/><circle cx="612.4" cy="95.7" r="2"/><circle cx="613" cy="88.1" r="2"/><circle cx="613.5" cy="79.8" r="2"/><circle cx="614.1" cy="83.3" r="2"/><circle cx="614.7" cy="90.4" r="2"/><circle cx="615.3" cy="78.4" r="2"/><circle cx="615.9" cy="82.9" r="2"/><circle cx="616.5" cy="75" r="2"/><circle cx="617.1" cy="89.2" r="2"/><circle cx="617.7" cy="86.9" r="2"/><circle cx="618.3" cy="81.7" r="2"/><circle cx="618.9" cy="89.8" r="2"/><circle cx="619.5" cy="75.8" r="2"/><circle cx="620.1" cy="77" r="2"/><circle cx="620.7" cy="92.8" r="2"/><circle cx="621.3" cy="84.6" r="2"/><circle cx="621.9" cy="91.3" r="2"/><circle cx="622.5" cy="85.7" r="2"/><circle cx="623" cy="78" r="2"/><circle cx="623.6" cy="78.1" r="2"/><circle cx="624.2" cy="79.8" r="2"/><circle cx="624.8" cy="77.5" r="2"/><circle cx="625.4" cy="75" r="2"/><circle cx="626" cy="75" r="2"/><circle cx="626.6" cy="73.5" r="2"/><circle cx="627.2" cy="80.4" r="2"/><circle cx="627.8" cy="86.4" r="2"/><circle cx="628.4" cy="91.8" r="2"/><circle cx="629" cy="76.5" r="2"/><circle cx="629.6" cy="98.5" r="2"/><circle cx="630.2" cy="106.8" r="2"/><circle cx="630.8" cy="107.9" r="2"/><circle cx="631.4" cy="116.9" r="2"/><circle cx="632" cy="122" r="2"/><circle cx="632.5" cy="121.6" r="2"/><circle cx="633.1" cy="122.2" r="2"/><circle cx="633.7" cy="123.3" r="2"/><circle cx="634.3" cy="122.9" r="2"/><circle cx="634.9" cy="115.5" r="2"/><circle cx="635.5" cy="101.3" r="2"/><circle cx="636.1" cy="101.5" r="2"/><circle cx="636.7" cy="110.1" r="2"/><circle cx="637.3" cy="107.1" r="2"/><circle cx="637.9" cy="113.6" r="2"/><circle cx="638.5" cy="116.2" r="2"/><circle cx="639.1" cy="111.9" r="2"/><circle cx="639.7" cy="118.8" r="2"/><circle cx="640.3" cy="107.2" r="2"/><circle cx="640.9" cy="114.1" r="2"/><circle cx="641.5" cy="108" r="2"/><circle cx="642" cy="104.2" r="2"/><circle cx="642.6" cy="111.1" r="2"/><circle cx="643.2" cy="106.5" r="2"/><circle cx="643.8" cy="113.5" r="2"/><circle cx="644.4" cy="104.5" r="2"/><circle cx="645" cy="108.2" r="2"/><circle cx="645.6" cy="105.4" r="2"/><circle cx="646.2" cy="108.1" r="2"/><circle cx="646.8" cy="108.7" r="2"/><circle cx="647.4" cy="106.2" r="2"/><circle cx="648" cy="113.1" r="2"/></g>
<path d="M71.8 11.0 V217.8 M70.8 216.8 H666.6" stroke="#000" stroke-width="2" fill="none"/>
<path d="M65.8 187.6 H71 M65.8 129.0 H71 M65.8 70.4 H71 M65.8 11.8 H71 M71.8 216.8 V222.5 M131.2 216.8 V222.5 M190.6 216.8 V222.5 M249.9 216.8 V222.5 M309.3 216.8 V222.5 M368.7 216.8 V222.5 M428.1 216.8 V222.5 M487.5 216.8 V222.5 M546.8 216.8 V222.5 M606.2 216.8 V222.5 M665.6 216.8 V222.5" stroke="#000" stroke-width="2" fill="none"/>
<g font-size="14"><text x="40.25" y="191.9">400</text><text x="40.25" y="133.3">500</text><text x="40.25" y="74.7">600</text><text x="40.25" y="16.1">700</text><text x="67.91" y="238.0">0</text><path d="M120.83 238.00 L119.60 238.00 L119.60 230.10 L118.51 230.80 L117.11 231.40 L117.11 230.10 L118.51 229.40 L119.51 228.60 L119.91 227.98 L120.83 227.98 Z"/><text x="123.40" y="238.0">000</text><text x="174.99" y="238.0">2000</text><text x="234.37" y="238.0">3000</text><text x="293.75" y="238.0">4000</text><text x="353.13" y="238.0">5000</text><text x="412.51" y="238.0">6000</text><text x="471.89" y="238.0">7000</text><text x="531.27" y="238.0">8000</text><text x="590.65" y="238.0">9000</text><path d="M651.36 238.00 L650.13 238.00 L650.13 230.10 L649.04 230.80 L647.64 231.40 L647.64 230.10 L649.04 229.40 L650.04 228.60 L650.44 227.98 L651.36 227.98 Z"/><text x="653.92" y="238.0">0000</text></g>
<text x="368.8" y="259.1" text-anchor="middle" font-size="16.8">time (minutes)</text>
<text transform="translate(29.0 115.0) rotate(-90)" text-anchor="middle" font-size="17">heat production (mW)</text>
<rect x="326.7" y="15.8" width="129.4" height="21.1" rx="1" fill="#fff" stroke="#222" stroke-width="1.35"/>
<path d="M332.3 26.4 H353.7" stroke="#333" stroke-width="0.8"/><circle cx="343.1" cy="26.4" r="2" fill="#fff" stroke="#111" stroke-width="0.8"/>
<path d="M393.2 26.4 H415.1" stroke="#999" stroke-width="0.8"/><circle cx="403.8" cy="26.4" r="1.9" fill="#6a6a6a" stroke="#505050" stroke-width="0.5"/>
<text x="366.2" y="32.5" font-size="17">H</text><text x="427.6" y="32.5" font-size="16.2">HC</text>
<rect x="187.9" y="13.0" width="70.1" height="38.4" fill="#fff" stroke="#111" stroke-width="1.25"/>
<text x="196.8" y="28.1" font-size="17">change</text><text x="197.2" y="47.3" font-size="16.5">to HFD</text>
<path d="M224.4 51 V101" stroke="#000" stroke-width="3"/><path d="M218.2 100.5 H230.6 L224.4 116.5 Z" fill="#000"/>
<rect x="72.8" y="283.0" width="43.4" height="205.3" fill="#d3d3d3"/>
<rect x="153.2" y="281.6" width="48.0" height="206.7" fill="#d3d3d3"/>
<rect x="239.1" y="280.8" width="47.8" height="207.5" fill="#d3d3d3"/>
<rect x="324.3" y="281.0" width="48.2" height="207.3" fill="#d3d3d3"/>
<rect x="410.3" y="280.7" width="47.9" height="207.6" fill="#d3d3d3"/>
<rect x="495.4" y="280.5" width="48.5" height="207.8" fill="#d3d3d3"/>
<rect x="581.0" y="279.9" width="48.1" height="208.4" fill="#d3d3d3"/>
<path d="M72 316.6 L72.6 322.8 L73.2 322.5 L73.8 315.8 L74.4 318.2 L75 317.7 L75.6 320.7 L76.2 318.1 L76.8 322.4 L77.3 324.8 L77.9 330.1 L78.5 329.3 L79.1 330 L79.7 325.2 L80.3 334 L80.9 326 L81.5 331.1 L82.1 328.3 L82.7 325.2 L83.3 324.1 L83.9 323.6 L84.5 323.7 L85.1 320.8 L85.7 321 L86.3 313.1 L86.8 311.6 L87.4 308.5 L88 311.4 L88.6 304.2 L89.2 305.6 L89.8 307.1 L90.4 302.6 L91 306.9 L91.6 306 L92.2 307.3 L92.8 307.1 L93.4 301.3 L94 298.9 L94.6 299 L95.2 301.3 L95.8 302.6 L96.3 298.1 L96.9 296.4 L97.5 294.9 L98.1 294.6 L98.7 295.3 L99.3 295.6 L99.9 302 L100.5 296.6 L101.1 294.9 L101.7 296.1 L102.3 292.2 L102.9 292 L103.5 293 L104.1 295.5 L104.7 290 L105.3 295.8 L105.8 292.7 L106.4 292.8 L107 295 L107.6 295.5 L108.2 297.1 L108.8 295.2 L109.4 294.1 L110 294.8 L110.6 291.3 L111.2 296.8 L111.8 293.6 L112.4 291.3 L113 300.2 L113.6 297.9 L114.2 294.3 L114.8 301.5 L115.3 299.8 L115.9 303.9 L116.5 302.9 L117.1 305 L117.7 303.9 L118.3 304.4 L118.9 306.1 L119.5 310.3 L120.1 315 L120.7 321.3 L121.3 315.8 L121.9 318.5 L122.5 314.4 L123.1 313.9 L123.7 310 L124.3 308.3 L124.8 306.7 L125.4 303.3 L126 302.4 L126.6 298.7 L127.2 302.3 L127.8 303 L128.4 304.9 L129 309.1 L129.6 310.7 L130.2 311.6 L130.8 313.3 L131.4 315.3 L132 320 L132.6 322.3 L133.2 326.5 L133.8 340.3 L134.3 351.2 L134.9 362.4 L135.5 370.8 L136.1 377.6 L136.7 380.9 L137.3 383.6 L137.9 386.2 L138.5 386.7 L139.1 387.3 L139.7 391.9 L140.3 392.1 L140.9 390.7 L141.5 394.3 L142.1 391.7 L142.7 399.5 L143.3 399.2 L143.8 400.3 L144.4 406.9 L145 408.3 L145.6 407.5 L146.2 408.4 L146.8 410.3 L147.4 412.9 L148 409.3 L148.6 409 L149.2 412.2 L149.8 409.6 L150.4 409.7 L151 409 L151.6 403.6 L152.2 401.7 L152.8 396.3 L153.4 393.7 L153.9 393.7 L154.5 387.8 L155.1 388.1 L155.7 386.1 L156.3 382.4 L156.9 380.3 L157.5 378.9 L158.1 375.1 L158.7 374.3 L159.3 373.5 L159.9 373.8 L160.5 373.4 L161.1 368.7 L161.7 369.5 L162.3 364.9 L162.9 362.8 L163.4 361.7 L164 359 L164.6 356.3 L165.2 354.8 L165.8 351.5 L166.4 348.9 L167 347.7 L167.6 348.9 L168.2 345.8 L168.8 347.7 L169.4 343.6 L170 334.4 L170.6 334.3 L171.2 337 L171.8 332.2 L172.4 327.4 L172.9 322.6 L173.5 322.4 L174.1 319.6 L174.7 315.8 L175.3 311.7 L175.9 309.6 L176.5 305.7 L177.1 298.5 L177.7 299.4 L178.3 297.5 L178.9 295.1 L179.5 295.3 L180.1 292.9 L180.7 284.7 L181.3 292.5 L181.9 294.4 L182.4 291.5 L183 289.3 L183.6 290.3 L184.2 285.8 L184.8 289 L185.4 288.4 L186 287.7 L186.6 285.4 L187.2 285.9 L187.8 291.8 L188.4 295.2 L189 294.6 L189.6 293.4 L190.2 291 L190.8 294.9 L191.4 299.5 L191.9 291.7 L192.5 297.3 L193.1 289.4 L193.7 292.1 L194.3 295.5 L194.9 291.7 L195.5 289.9 L196.1 294.6 L196.7 298.8 L197.3 296.4 L197.9 301.3 L198.5 296.9 L199.1 302.6 L199.7 301.5 L200.3 302.3 L200.9 304.4 L201.4 305.3 L202 309.9 L202.6 312.2 L203.2 313.3 L203.8 312.8 L204.4 311.8 L205 313.5 L205.6 316.6 L206.2 318.5 L206.8 320.4 L207.4 322.2 L208 325.1 L208.6 322.5 L209.2 323.1 L209.8 329.4 L210.4 332.1 L210.9 330.5 L211.5 331.7 L212.1 326.5 L212.7 324 L213.3 318.3 L213.9 320.5 L214.5 321.4 L215.1 325.5 L215.7 327.2 L216.3 327.4 L216.9 328.3 L217.5 337.4 L218.1 346.4 L218.7 356 L219.3 366.1 L219.9 374.4 L220.4 380.5 L221 387.4 L221.6 391 L222.2 396.8 L222.8 395.6 L223.4 398.7 L224 400 L224.6 405.4 L225.2 406 L225.8 403.1 L226.4 405.1 L227 405.5 L227.6 403.9 L228.2 403.6 L228.8 401.8 L229.4 412.1 L230 409 L230.5 410.3 L231.1 404.5 L231.7 402.5 L232.3 404.8 L232.9 405.9 L233.5 409.4 L234.1 405.1 L234.7 408.4 L235.3 412.9 L235.9 407 L236.5 410.5 L237.1 406 L237.7 408.5 L238.3 409.4 L238.9 413.8 L239.5 407.9 L240 408.1 L240.6 410.7 L241.2 404.7 L241.8 405.8 L242.4 403.4 L243 403 L243.6 406.3 L244.2 407.3 L244.8 410.7 L245.4 410.1 L246 409.5 L246.6 404.8 L247.2 401.9 L247.8 401 L248.4 393.9 L249 400.3 L249.5 396.2 L250.1 392.9 L250.7 391.8 L251.3 393.3 L251.9 393.8 L252.5 389.6 L253.1 389.3 L253.7 387.1 L254.3 383.2 L254.9 383.9 L255.5 382.7 L256.1 377.6 L256.7 380.8 L257.3 374.8 L257.9 375.8 L258.5 371.8 L259 369.3 L259.6 367 L260.2 367.6 L260.8 362.4 L261.4 361 L262 362.7 L262.6 357.3 L263.2 355 L263.8 354.3 L264.4 350.9 L265 352.5 L265.6 349.5 L266.2 352.1 L266.8 351.1 L267.4 347.6 L268 353.9 L268.5 351.9 L269.1 350.7 L269.7 348.4 L270.3 349.1 L270.9 350.7 L271.5 352.7 L272.1 356.5 L272.7 351.8 L273.3 353 L273.9 358.2 L274.5 358 L275.1 358.9 L275.7 363 L276.3 361.2 L276.9 361.1 L277.5 359.8 L278 365 L278.6 364.9 L279.2 360.6 L279.8 363.4 L280.4 361.4 L281 366.8 L281.6 368.9 L282.2 368.6 L282.8 368.8 L283.4 365.6 L284 371.5 L284.6 372.1 L285.2 372.3 L285.8 375.7 L286.4 373.9 L287 373.9 L287.5 373.9 L288.1 372.6 L288.7 382.9 L289.3 380.3 L289.9 379.2 L290.5 382.7 L291.1 374.6 L291.7 378.2 L292.3 380.7 L292.9 379.2 L293.5 383 L294.1 377.6 L294.7 381.6 L295.3 386.1 L295.9 379.1 L296.5 378.9 L297.1 382.9 L297.6 385.5 L298.2 385.3 L298.8 388.4 L299.4 389.9 L300 386.7 L300.6 389.5 L301.2 389.8 L301.8 392.9 L302.4 396.4 L303 402.9 L303.6 406.5 L304.2 413.8 L304.8 409.8 L305.4 411.6 L306 414.9 L306.6 416.1 L307.1 419 L307.7 420.4 L308.3 418.7 L308.9 413.5 L309.5 413.6 L310.1 423.2 L310.7 423.9 L311.3 426.2 L311.9 420.6 L312.5 419.7 L313.1 417.1 L313.7 420.3 L314.3 420.5 L314.9 421.8 L315.5 426.7 L316.1 420.1 L316.6 422.7 L317.2 416.6 L317.8 422.5 L318.4 419.7 L319 419.8 L319.6 420.6 L320.2 425.9 L320.8 422.4 L321.4 419.5 L322 416.2 L322.6 419.7 L323.2 417.5 L323.8 417.8 L324.4 419.5 L325 422.5 L325.6 419.3 L326.1 422.5 L326.7 427.4 L327.3 419 L327.9 424.8 L328.5 428.3 L329.1 421.8 L329.7 422.4 L330.3 416.5 L330.9 418.8 L331.5 417.6 L332.1 418.6 L332.7 415.3 L333.3 413.9 L333.9 413.4 L334.5 411.8 L335.1 410.7 L335.6 410.6 L336.2 407.5 L336.8 408.1 L337.4 408.5 L338 401.6 L338.6 402.6 L339.2 399.9 L339.8 396.6 L340.4 393.8 L341 393 L341.6 392.1 L342.2 393.4 L342.8 389.2 L343.4 392.1 L344 387.9 L344.6 389.3 L345.1 390.2 L345.7 384 L346.3 386.7 L346.9 389.9 L347.5 383.8 L348.1 383.4 L348.7 381.1 L349.3 380.2 L349.9 378.7 L350.5 376.7 L351.1 379.3 L351.7 381.8 L352.3 381.4 L352.9 385.8 L353.5 387.2 L354.1 387.5 L354.6 384.7 L355.2 391.1 L355.8 392.6 L356.4 383.9 L357 383.7 L357.6 385.9 L358.2 391.1 L358.8 394.5 L359.4 392 L360 392.9 L360.6 395 L361.2 390.7 L361.8 394.7 L362.4 394.2 L363 395.8 L363.6 396.2 L364.1 393.7 L364.7 393.6 L365.3 396.9 L365.9 399 L366.5 399.2 L367.1 403.4 L367.7 401.7 L368.3 398.9 L368.9 400.5 L369.5 402 L370.1 403.1 L370.7 407.6 L371.3 407.9 L371.9 410.1 L372.5 409.9 L373.1 407.2 L373.7 410.1 L374.2 407.1 L374.8 407.6 L375.4 403.9 L376 406 L376.6 405.6 L377.2 407.8 L377.8 413.3 L378.4 414.7 L379 415.1 L379.6 411.2 L380.2 412.5 L380.8 411.4 L381.4 408.7 L382 409.5 L382.6 410.3 L383.2 410.5 L383.7 416.3 L384.3 414.4 L384.9 414.5 L385.5 418.3 L386.1 417 L386.7 416 L387.3 417.1 L387.9 421.7 L388.5 423.9 L389.1 425.3 L389.7 425.1 L390.3 424.8 L390.9 429.9 L391.5 427.2 L392.1 430 L392.7 429.1 L393.2 431.2 L393.8 432.6 L394.4 437.8 L395 427.7 L395.6 436.3 L396.2 433.1 L396.8 435.6 L397.4 438.4 L398 434.7 L398.6 435.2 L399.2 437.4 L399.8 436.2 L400.4 433.7 L401 435.8 L401.6 436.4 L402.2 431.3 L402.7 438.7 L403.3 437.9 L403.9 428.9 L404.5 430.5 L405.1 439.6 L405.7 442.8 L406.3 439.7 L406.9 432 L407.5 433.8 L408.1 438.4 L408.7 437.5 L409.3 434.7 L409.9 432.1 L410.5 435.2 L411.1 433.1 L411.7 433.4 L412.2 433.5 L412.8 436 L413.4 432.6 L414 430.8 L414.6 424.1 L415.2 428.7 L415.8 429.3 L416.4 426.4 L417 418.8 L417.6 419.4 L418.2 420.6 L418.8 425.4 L419.4 422.9 L420 421.5 L420.6 420 L421.2 419.8 L421.7 412.9 L422.3 409.9 L422.9 407 L423.5 407.1 L424.1 406.1 L424.7 405.6 L425.3 401.7 L425.9 401.6 L426.5 398.4 L427.1 402.8 L427.7 397.4 L428.3 399.9 L428.9 397.6 L429.5 390.5 L430.1 390.5 L430.7 388.4 L431.2 381.7 L431.8 381.8 L432.4 378.8 L433 377 L433.6 372.3 L434.2 370.7 L434.8 370.6 L435.4 368.2 L436 365.3 L436.6 364.2 L437.2 360.9 L437.8 362.6 L438.4 355.8 L439 362.4 L439.6 361 L440.2 360.9 L440.7 361.5 L441.3 355.5 L441.9 363.4 L442.5 356.1 L443.1 357.7 L443.7 357.8 L444.3 360.8 L444.9 359.4 L445.5 356.1 L446.1 359.9 L446.7 355.6 L447.3 359.6 L447.9 361.4 L448.5 368 L449.1 366.5 L449.7 366 L450.3 365.6 L450.8 365.9 L451.4 367.4 L452 371.6 L452.6 368.9 L453.2 371.3 L453.8 369.7 L454.4 373 L455 375.8 L455.6 373.9 L456.2 375.2 L456.8 377.9 L457.4 381.2 L458 383.5 L458.6 381.7 L459.2 378.7 L459.8 376.1 L460.3 382.3 L460.9 386.9 L461.5 386.2 L462.1 389.9 L462.7 385.3 L463.3 383.8 L463.9 389.5 L464.5 383.9 L465.1 386.9 L465.7 387.6 L466.3 387.3 L466.9 392.2 L467.5 386.3 L468.1 385.7 L468.7 381.4 L469.3 383 L469.8 385.6 L470.4 387.4 L471 389 L471.6 391.6 L472.2 390.3 L472.8 387 L473.4 392.5 L474 396.3 L474.6 395.2 L475.2 396.8 L475.8 404.2 L476.4 406.6 L477 408.5 L477.6 410.4 L478.2 412.1 L478.8 413.3 L479.3 417.6 L479.9 419.7 L480.5 421.8 L481.1 424.8 L481.7 425.7 L482.3 429.2 L482.9 426.2 L483.5 434.8 L484.1 429.3 L484.7 429.2 L485.3 433.4 L485.9 429.2 L486.5 428.7 L487.1 430.2 L487.7 423.5 L488.3 425.2 L488.8 425.5 L489.4 428 L490 431.4 L490.6 432.9 L491.2 436.1 L491.8 437 L492.4 436 L493 432.1 L493.6 433.7 L494.2 427.9 L494.8 428.2 L495.4 433.2 L496 433.1 L496.6 425.9 L497.2 425.5 L497.8 430.2 L498.3 431 L498.9 432.8 L499.5 424.3 L500.1 422.9 L500.7 424.2 L501.3 421.9 L501.9 422.7 L502.5 422.5 L503.1 422.5 L503.7 420.6 L504.3 420.5 L504.9 419.7 L505.5 416.9 L506.1 411.6 L506.7 414.1 L507.3 411.6 L507.8 410 L508.4 407.6 L509 401.5 L509.6 402.8 L510.2 399.4 L510.8 395.6 L511.4 398.5 L512 395 L512.6 393.7 L513.2 393.3 L513.8 393.6 L514.4 384.9 L515 382.5 L515.6 384.3 L516.2 380.9 L516.8 375.3 L517.4 376.5 L517.9 377.6 L518.5 377.8 L519.1 375.4 L519.7 371.8 L520.3 370.6 L520.9 368.4 L521.5 365.3 L522.1 364.5 L522.7 363.3 L523.3 358.5 L523.9 360.1 L524.5 360.4 L525.1 360.1 L525.7 349.6 L526.3 352.9 L526.9 352.9 L527.4 351.3 L528 355.8 L528.6 352.4 L529.2 359 L529.8 359.8 L530.4 358.2 L531 363.3 L531.6 363.3 L532.2 363.3 L532.8 358.9 L533.4 362.8 L534 367.3 L534.6 368.5 L535.2 362.4 L535.8 368.1 L536.4 371.4 L536.9 370.7 L537.5 367.7 L538.1 364.1 L538.7 364.9 L539.3 366.6 L539.9 370.2 L540.5 372.9 L541.1 371.1 L541.7 368.5 L542.3 371.2 L542.9 370.3 L543.5 377.7 L544.1 374.1 L544.7 377.9 L545.3 380.8 L545.9 377.5 L546.4 382.2 L547 381.3 L547.6 379.4 L548.2 378.5 L548.8 381.5 L549.4 385.9 L550 379.4 L550.6 384.4 L551.2 384.5 L551.8 383.3 L552.4 385.6 L553 387.7 L553.6 389.3 L554.2 392.9 L554.8 391 L555.4 398.1 L555.9 399.2 L556.5 396.8 L557.1 394.2 L557.7 399.1 L558.3 401.6 L558.9 406.5 L559.5 409.8 L560.1 415 L560.7 414.3 L561.3 417.3 L561.9 417 L562.5 418.3 L563.1 424.2 L563.7 424.2 L564.3 425.5 L564.9 426.6 L565.4 428.8 L566 430.6 L566.6 429.4 L567.2 426 L567.8 429.4 L568.4 427.4 L569 428.2 L569.6 430.5 L570.2 431.7 L570.8 423.6 L571.4 433.4 L572 434.3 L572.6 437.9 L573.2 437.8 L573.8 431.8 L574.4 429 L574.9 430.5 L575.5 433.1 L576.1 429.4 L576.7 427.9 L577.3 430.5 L577.9 425.7 L578.5 426.2 L579.1 428.2 L579.7 424.8 L580.3 426.3 L580.9 424.1 L581.5 418.5 L582.1 419.2 L582.7 420.4 L583.3 420.3 L583.9 421.2 L584.4 421.9 L585 421.3 L585.6 420.2 L586.2 417.5 L586.8 416.5 L587.4 415.1 L588 413.6 L588.6 416.5 L589.2 408.9 L589.8 409.9 L590.4 404.9 L591 404.3 L591.6 406.4 L592.2 403.7 L592.8 405.8 L593.4 400.1 L594 398.5 L594.5 396.1 L595.1 395.8 L595.7 394.1 L596.3 392 L596.9 390.7 L597.5 391 L598.1 387.7 L598.7 384.8 L599.3 381.6 L599.9 378.1 L600.5 373.7 L601.1 371.4 L601.7 371.2 L602.3 366.3 L602.9 367.3 L603.5 364.7 L604 361.6 L604.6 360.3 L605.2 361.7 L605.8 360.6 L606.4 359.6 L607 362.9 L607.6 364.1 L608.2 356 L608.8 357.8 L609.4 353.6 L610 349.9 L610.6 351 L611.2 356.3 L611.8 354.1 L612.4 353.8 L613 359.5 L613.5 360.2 L614.1 359.7 L614.7 365.1 L615.3 364.6 L615.9 362.1 L616.5 361.1 L617.1 363.2 L617.7 366.3 L618.3 370.3 L618.9 372.4 L619.5 372.3 L620.1 369.8 L620.7 374.8 L621.3 375.4 L621.9 373.3 L622.5 372.8 L623 377 L623.6 379.7 L624.2 382.7 L624.8 379.9 L625.4 387.3 L626 382.1 L626.6 385.2 L627.2 390.7 L627.8 393.2 L628.4 389.5 L629 392.6 L629.6 396.1 L630.2 396.7 L630.8 392.8 L631.4 398.9 L632 392.6 L632.5 394.5 L633.1 391.6 L633.7 392.4 L634.3 392.9 L634.9 395.7 L635.5 391.1 L636.1 393.9 L636.7 398 L637.3 395.8 L637.9 396.1 L638.5 395.7 L639.1 391.7 L639.7 391.1 L640.3 392 L640.9 393.7 L641.5 399.1 L642 399.5 L642.6 393.5" fill="none" stroke="#888" stroke-width="0.5"/>
<g fill="#707070" stroke="#505050" stroke-width="0.5"><circle cx="72" cy="316.6" r="1.75"/><circle cx="72.6" cy="322.8" r="1.75"/><circle cx="73.2" cy="322.5" r="1.75"/><circle cx="73.8" cy="315.8" r="1.75"/><circle cx="74.4" cy="318.2" r="1.75"/><circle cx="75" cy="317.7" r="1.75"/><circle cx="75.6" cy="320.7" r="1.75"/><circle cx="76.2" cy="318.1" r="1.75"/><circle cx="76.8" cy="322.4" r="1.75"/><circle cx="77.3" cy="324.8" r="1.75"/><circle cx="77.9" cy="330.1" r="1.75"/><circle cx="78.5" cy="329.3" r="1.75"/><circle cx="79.1" cy="330" r="1.75"/><circle cx="79.7" cy="325.2" r="1.75"/><circle cx="80.3" cy="334" r="1.75"/><circle cx="80.9" cy="326" r="1.75"/><circle cx="81.5" cy="331.1" r="1.75"/><circle cx="82.1" cy="328.3" r="1.75"/><circle cx="82.7" cy="325.2" r="1.75"/><circle cx="83.3" cy="324.1" r="1.75"/><circle cx="83.9" cy="323.6" r="1.75"/><circle cx="84.5" cy="323.7" r="1.75"/><circle cx="85.1" cy="320.8" r="1.75"/><circle cx="85.7" cy="321" r="1.75"/><circle cx="86.3" cy="313.1" r="1.75"/><circle cx="86.8" cy="311.6" r="1.75"/><circle cx="87.4" cy="308.5" r="1.75"/><circle cx="88" cy="311.4" r="1.75"/><circle cx="88.6" cy="304.2" r="1.75"/><circle cx="89.2" cy="305.6" r="1.75"/><circle cx="89.8" cy="307.1" r="1.75"/><circle cx="90.4" cy="302.6" r="1.75"/><circle cx="91" cy="306.9" r="1.75"/><circle cx="91.6" cy="306" r="1.75"/><circle cx="92.2" cy="307.3" r="1.75"/><circle cx="92.8" cy="307.1" r="1.75"/><circle cx="93.4" cy="301.3" r="1.75"/><circle cx="94" cy="298.9" r="1.75"/><circle cx="94.6" cy="299" r="1.75"/><circle cx="95.2" cy="301.3" r="1.75"/><circle cx="95.8" cy="302.6" r="1.75"/><circle cx="96.3" cy="298.1" r="1.75"/><circle cx="96.9" cy="296.4" r="1.75"/><circle cx="97.5" cy="294.9" r="1.75"/><circle cx="98.1" cy="294.6" r="1.75"/><circle cx="98.7" cy="295.3" r="1.75"/><circle cx="99.3" cy="295.6" r="1.75"/><circle cx="99.9" cy="302" r="1.75"/><circle cx="100.5" cy="296.6" r="1.75"/><circle cx="101.1" cy="294.9" r="1.75"/><circle cx="101.7" cy="296.1" r="1.75"/><circle cx="102.3" cy="292.2" r="1.75"/><circle cx="102.9" cy="292" r="1.75"/><circle cx="103.5" cy="293" r="1.75"/><circle cx="104.1" cy="295.5" r="1.75"/><circle cx="104.7" cy="290" r="1.75"/><circle cx="105.3" cy="295.8" r="1.75"/><circle cx="105.8" cy="292.7" r="1.75"/><circle cx="106.4" cy="292.8" r="1.75"/><circle cx="107" cy="295" r="1.75"/><circle cx="107.6" cy="295.5" r="1.75"/><circle cx="108.2" cy="297.1" r="1.75"/><circle cx="108.8" cy="295.2" r="1.75"/><circle cx="109.4" cy="294.1" r="1.75"/><circle cx="110" cy="294.8" r="1.75"/><circle cx="110.6" cy="291.3" r="1.75"/><circle cx="111.2" cy="296.8" r="1.75"/><circle cx="111.8" cy="293.6" r="1.75"/><circle cx="112.4" cy="291.3" r="1.75"/><circle cx="113" cy="300.2" r="1.75"/><circle cx="113.6" cy="297.9" r="1.75"/><circle cx="114.2" cy="294.3" r="1.75"/><circle cx="114.8" cy="301.5" r="1.75"/><circle cx="115.3" cy="299.8" r="1.75"/><circle cx="115.9" cy="303.9" r="1.75"/><circle cx="116.5" cy="302.9" r="1.75"/><circle cx="117.1" cy="305" r="1.75"/><circle cx="117.7" cy="303.9" r="1.75"/><circle cx="118.3" cy="304.4" r="1.75"/><circle cx="118.9" cy="306.1" r="1.75"/><circle cx="119.5" cy="310.3" r="1.75"/><circle cx="120.1" cy="315" r="1.75"/><circle cx="120.7" cy="321.3" r="1.75"/><circle cx="121.3" cy="315.8" r="1.75"/><circle cx="121.9" cy="318.5" r="1.75"/><circle cx="122.5" cy="314.4" r="1.75"/><circle cx="123.1" cy="313.9" r="1.75"/><circle cx="123.7" cy="310" r="1.75"/><circle cx="124.3" cy="308.3" r="1.75"/><circle cx="124.8" cy="306.7" r="1.75"/><circle cx="125.4" cy="303.3" r="1.75"/><circle cx="126" cy="302.4" r="1.75"/><circle cx="126.6" cy="298.7" r="1.75"/><circle cx="127.2" cy="302.3" r="1.75"/><circle cx="127.8" cy="303" r="1.75"/><circle cx="128.4" cy="304.9" r="1.75"/><circle cx="129" cy="309.1" r="1.75"/><circle cx="129.6" cy="310.7" r="1.75"/><circle cx="130.2" cy="311.6" r="1.75"/><circle cx="130.8" cy="313.3" r="1.75"/><circle cx="131.4" cy="315.3" r="1.75"/><circle cx="132" cy="320" r="1.75"/><circle cx="132.6" cy="322.3" r="1.75"/><circle cx="133.2" cy="326.5" r="1.75"/><circle cx="133.8" cy="340.3" r="1.75"/><circle cx="134.3" cy="351.2" r="1.75"/><circle cx="134.9" cy="362.4" r="1.75"/><circle cx="135.5" cy="370.8" r="1.75"/><circle cx="136.1" cy="377.6" r="1.75"/><circle cx="136.7" cy="380.9" r="1.75"/><circle cx="137.3" cy="383.6" r="1.75"/><circle cx="137.9" cy="386.2" r="1.75"/><circle cx="138.5" cy="386.7" r="1.75"/><circle cx="139.1" cy="387.3" r="1.75"/><circle cx="139.7" cy="391.9" r="1.75"/><circle cx="140.3" cy="392.1" r="1.75"/><circle cx="140.9" cy="390.7" r="1.75"/><circle cx="141.5" cy="394.3" r="1.75"/><circle cx="142.1" cy="391.7" r="1.75"/><circle cx="142.7" cy="399.5" r="1.75"/><circle cx="143.3" cy="399.2" r="1.75"/><circle cx="143.8" cy="400.3" r="1.75"/><circle cx="144.4" cy="406.9" r="1.75"/><circle cx="145" cy="408.3" r="1.75"/><circle cx="145.6" cy="407.5" r="1.75"/><circle cx="146.2" cy="408.4" r="1.75"/><circle cx="146.8" cy="410.3" r="1.75"/><circle cx="147.4" cy="412.9" r="1.75"/><circle cx="148" cy="409.3" r="1.75"/><circle cx="148.6" cy="409" r="1.75"/><circle cx="149.2" cy="412.2" r="1.75"/><circle cx="149.8" cy="409.6" r="1.75"/><circle cx="150.4" cy="409.7" r="1.75"/><circle cx="151" cy="409" r="1.75"/><circle cx="151.6" cy="403.6" r="1.75"/><circle cx="152.2" cy="401.7" r="1.75"/><circle cx="152.8" cy="396.3" r="1.75"/><circle cx="153.4" cy="393.7" r="1.75"/><circle cx="153.9" cy="393.7" r="1.75"/><circle cx="154.5" cy="387.8" r="1.75"/><circle cx="155.1" cy="388.1" r="1.75"/><circle cx="155.7" cy="386.1" r="1.75"/><circle cx="156.3" cy="382.4" r="1.75"/><circle cx="156.9" cy="380.3" r="1.75"/><circle cx="157.5" cy="378.9" r="1.75"/><circle cx="158.1" cy="375.1" r="1.75"/><circle cx="158.7" cy="374.3" r="1.75"/><circle cx="159.3" cy="373.5" r="1.75"/><circle cx="159.9" cy="373.8" r="1.75"/><circle cx="160.5" cy="373.4" r="1.75"/><circle cx="161.1" cy="368.7" r="1.75"/><circle cx="161.7" cy="369.5" r="1.75"/><circle cx="162.3" cy="364.9" r="1.75"/><circle cx="162.9" cy="362.8" r="1.75"/><circle cx="163.4" cy="361.7" r="1.75"/><circle cx="164" cy="359" r="1.75"/><circle cx="164.6" cy="356.3" r="1.75"/><circle cx="165.2" cy="354.8" r="1.75"/><circle cx="165.8" cy="351.5" r="1.75"/><circle cx="166.4" cy="348.9" r="1.75"/><circle cx="167" cy="347.7" r="1.75"/><circle cx="167.6" cy="348.9" r="1.75"/><circle cx="168.2" cy="345.8" r="1.75"/><circle cx="168.8" cy="347.7" r="1.75"/><circle cx="169.4" cy="343.6" r="1.75"/><circle cx="170" cy="334.4" r="1.75"/><circle cx="170.6" cy="334.3" r="1.75"/><circle cx="171.2" cy="337" r="1.75"/><circle cx="171.8" cy="332.2" r="1.75"/><circle cx="172.4" cy="327.4" r="1.75"/><circle cx="172.9" cy="322.6" r="1.75"/><circle cx="173.5" cy="322.4" r="1.75"/><circle cx="174.1" cy="319.6" r="1.75"/><circle cx="174.7" cy="315.8" r="1.75"/><circle cx="175.3" cy="311.7" r="1.75"/><circle cx="175.9" cy="309.6" r="1.75"/><circle cx="176.5" cy="305.7" r="1.75"/><circle cx="177.1" cy="298.5" r="1.75"/><circle cx="177.7" cy="299.4" r="1.75"/><circle cx="178.3" cy="297.5" r="1.75"/><circle cx="178.9" cy="295.1" r="1.75"/><circle cx="179.5" cy="295.3" r="1.75"/><circle cx="180.1" cy="292.9" r="1.75"/><circle cx="180.7" cy="284.7" r="1.75"/><circle cx="181.3" cy="292.5" r="1.75"/><circle cx="181.9" cy="294.4" r="1.75"/><circle cx="182.4" cy="291.5" r="1.75"/><circle cx="183" cy="289.3" r="1.75"/><circle cx="183.6" cy="290.3" r="1.75"/><circle cx="184.2" cy="285.8" r="1.75"/><circle cx="184.8" cy="289" r="1.75"/><circle cx="185.4" cy="288.4" r="1.75"/><circle cx="186" cy="287.7" r="1.75"/><circle cx="186.6" cy="285.4" r="1.75"/><circle cx="187.2" cy="285.9" r="1.75"/><circle cx="187.8" cy="291.8" r="1.75"/><circle cx="188.4" cy="295.2" r="1.75"/><circle cx="189" cy="294.6" r="1.75"/><circle cx="189.6" cy="293.4" r="1.75"/><circle cx="190.2" cy="291" r="1.75"/><circle cx="190.8" cy="294.9" r="1.75"/><circle cx="191.4" cy="299.5" r="1.75"/><circle cx="191.9" cy="291.7" r="1.75"/><circle cx="192.5" cy="297.3" r="1.75"/><circle cx="193.1" cy="289.4" r="1.75"/><circle cx="193.7" cy="292.1" r="1.75"/><circle cx="194.3" cy="295.5" r="1.75"/><circle cx="194.9" cy="291.7" r="1.75"/><circle cx="195.5" cy="289.9" r="1.75"/><circle cx="196.1" cy="294.6" r="1.75"/><circle cx="196.7" cy="298.8" r="1.75"/><circle cx="197.3" cy="296.4" r="1.75"/><circle cx="197.9" cy="301.3" r="1.75"/><circle cx="198.5" cy="296.9" r="1.75"/><circle cx="199.1" cy="302.6" r="1.75"/><circle cx="199.7" cy="301.5" r="1.75"/><circle cx="200.3" cy="302.3" r="1.75"/><circle cx="200.9" cy="304.4" r="1.75"/><circle cx="201.4" cy="305.3" r="1.75"/><circle cx="202" cy="309.9" r="1.75"/><circle cx="202.6" cy="312.2" r="1.75"/><circle cx="203.2" cy="313.3" r="1.75"/><circle cx="203.8" cy="312.8" r="1.75"/><circle cx="204.4" cy="311.8" r="1.75"/><circle cx="205" cy="313.5" r="1.75"/><circle cx="205.6" cy="316.6" r="1.75"/><circle cx="206.2" cy="318.5" r="1.75"/><circle cx="206.8" cy="320.4" r="1.75"/><circle cx="207.4" cy="322.2" r="1.75"/><circle cx="208" cy="325.1" r="1.75"/><circle cx="208.6" cy="322.5" r="1.75"/><circle cx="209.2" cy="323.1" r="1.75"/><circle cx="209.8" cy="329.4" r="1.75"/><circle cx="210.4" cy="332.1" r="1.75"/><circle cx="210.9" cy="330.5" r="1.75"/><circle cx="211.5" cy="331.7" r="1.75"/><circle cx="212.1" cy="326.5" r="1.75"/><circle cx="212.7" cy="324" r="1.75"/><circle cx="213.3" cy="318.3" r="1.75"/><circle cx="213.9" cy="320.5" r="1.75"/><circle cx="214.5" cy="321.4" r="1.75"/><circle cx="215.1" cy="325.5" r="1.75"/><circle cx="215.7" cy="327.2" r="1.75"/><circle cx="216.3" cy="327.4" r="1.75"/><circle cx="216.9" cy="328.3" r="1.75"/><circle cx="217.5" cy="337.4" r="1.75"/><circle cx="218.1" cy="346.4" r="1.75"/><circle cx="218.7" cy="356" r="1.75"/><circle cx="219.3" cy="366.1" r="1.75"/><circle cx="219.9" cy="374.4" r="1.75"/><circle cx="220.4" cy="380.5" r="1.75"/><circle cx="221" cy="387.4" r="1.75"/><circle cx="221.6" cy="391" r="1.75"/><circle cx="222.2" cy="396.8" r="1.75"/><circle cx="222.8" cy="395.6" r="1.75"/><circle cx="223.4" cy="398.7" r="1.75"/><circle cx="224" cy="400" r="1.75"/><circle cx="224.6" cy="405.4" r="1.75"/><circle cx="225.2" cy="406" r="1.75"/><circle cx="225.8" cy="403.1" r="1.75"/><circle cx="226.4" cy="405.1" r="1.75"/><circle cx="227" cy="405.5" r="1.75"/><circle cx="227.6" cy="403.9" r="1.75"/><circle cx="228.2" cy="403.6" r="1.75"/><circle cx="228.8" cy="401.8" r="1.75"/><circle cx="229.4" cy="412.1" r="1.75"/><circle cx="230" cy="409" r="1.75"/><circle cx="230.5" cy="410.3" r="1.75"/><circle cx="231.1" cy="404.5" r="1.75"/><circle cx="231.7" cy="402.5" r="1.75"/><circle cx="232.3" cy="404.8" r="1.75"/><circle cx="232.9" cy="405.9" r="1.75"/><circle cx="233.5" cy="409.4" r="1.75"/><circle cx="234.1" cy="405.1" r="1.75"/><circle cx="234.7" cy="408.4" r="1.75"/><circle cx="235.3" cy="412.9" r="1.75"/><circle cx="235.9" cy="407" r="1.75"/><circle cx="236.5" cy="410.5" r="1.75"/><circle cx="237.1" cy="406" r="1.75"/><circle cx="237.7" cy="408.5" r="1.75"/><circle cx="238.3" cy="409.4" r="1.75"/><circle cx="238.9" cy="413.8" r="1.75"/><circle cx="239.5" cy="407.9" r="1.75"/><circle cx="240" cy="408.1" r="1.75"/><circle cx="240.6" cy="410.7" r="1.75"/><circle cx="241.2" cy="404.7" r="1.75"/><circle cx="241.8" cy="405.8" r="1.75"/><circle cx="242.4" cy="403.4" r="1.75"/><circle cx="243" cy="403" r="1.75"/><circle cx="243.6" cy="406.3" r="1.75"/><circle cx="244.2" cy="407.3" r="1.75"/><circle cx="244.8" cy="410.7" r="1.75"/><circle cx="245.4" cy="410.1" r="1.75"/><circle cx="246" cy="409.5" r="1.75"/><circle cx="246.6" cy="404.8" r="1.75"/><circle cx="247.2" cy="401.9" r="1.75"/><circle cx="247.8" cy="401" r="1.75"/><circle cx="248.4" cy="393.9" r="1.75"/><circle cx="249" cy="400.3" r="1.75"/><circle cx="249.5" cy="396.2" r="1.75"/><circle cx="250.1" cy="392.9" r="1.75"/><circle cx="250.7" cy="391.8" r="1.75"/><circle cx="251.3" cy="393.3" r="1.75"/><circle cx="251.9" cy="393.8" r="1.75"/><circle cx="252.5" cy="389.6" r="1.75"/><circle cx="253.1" cy="389.3" r="1.75"/><circle cx="253.7" cy="387.1" r="1.75"/><circle cx="254.3" cy="383.2" r="1.75"/><circle cx="254.9" cy="383.9" r="1.75"/><circle cx="255.5" cy="382.7" r="1.75"/><circle cx="256.1" cy="377.6" r="1.75"/><circle cx="256.7" cy="380.8" r="1.75"/><circle cx="257.3" cy="374.8" r="1.75"/><circle cx="257.9" cy="375.8" r="1.75"/><circle cx="258.5" cy="371.8" r="1.75"/><circle cx="259" cy="369.3" r="1.75"/><circle cx="259.6" cy="367" r="1.75"/><circle cx="260.2" cy="367.6" r="1.75"/><circle cx="260.8" cy="362.4" r="1.75"/><circle cx="261.4" cy="361" r="1.75"/><circle cx="262" cy="362.7" r="1.75"/><circle cx="262.6" cy="357.3" r="1.75"/><circle cx="263.2" cy="355" r="1.75"/><circle cx="263.8" cy="354.3" r="1.75"/><circle cx="264.4" cy="350.9" r="1.75"/><circle cx="265" cy="352.5" r="1.75"/><circle cx="265.6" cy="349.5" r="1.75"/><circle cx="266.2" cy="352.1" r="1.75"/><circle cx="266.8" cy="351.1" r="1.75"/><circle cx="267.4" cy="347.6" r="1.75"/><circle cx="268" cy="353.9" r="1.75"/><circle cx="268.5" cy="351.9" r="1.75"/><circle cx="269.1" cy="350.7" r="1.75"/><circle cx="269.7" cy="348.4" r="1.75"/><circle cx="270.3" cy="349.1" r="1.75"/><circle cx="270.9" cy="350.7" r="1.75"/><circle cx="271.5" cy="352.7" r="1.75"/><circle cx="272.1" cy="356.5" r="1.75"/><circle cx="272.7" cy="351.8" r="1.75"/><circle cx="273.3" cy="353" r="1.75"/><circle cx="273.9" cy="358.2" r="1.75"/><circle cx="274.5" cy="358" r="1.75"/><circle cx="275.1" cy="358.9" r="1.75"/><circle cx="275.7" cy="363" r="1.75"/><circle cx="276.3" cy="361.2" r="1.75"/><circle cx="276.9" cy="361.1" r="1.75"/><circle cx="277.5" cy="359.8" r="1.75"/><circle cx="278" cy="365" r="1.75"/><circle cx="278.6" cy="364.9" r="1.75"/><circle cx="279.2" cy="360.6" r="1.75"/><circle cx="279.8" cy="363.4" r="1.75"/><circle cx="280.4" cy="361.4" r="1.75"/><circle cx="281" cy="366.8" r="1.75"/><circle cx="281.6" cy="368.9" r="1.75"/><circle cx="282.2" cy="368.6" r="1.75"/><circle cx="282.8" cy="368.8" r="1.75"/><circle cx="283.4" cy="365.6" r="1.75"/><circle cx="284" cy="371.5" r="1.75"/><circle cx="284.6" cy="372.1" r="1.75"/><circle cx="285.2" cy="372.3" r="1.75"/><circle cx="285.8" cy="375.7" r="1.75"/><circle cx="286.4" cy="373.9" r="1.75"/><circle cx="287" cy="373.9" r="1.75"/><circle cx="287.5" cy="373.9" r="1.75"/><circle cx="288.1" cy="372.6" r="1.75"/><circle cx="288.7" cy="382.9" r="1.75"/><circle cx="289.3" cy="380.3" r="1.75"/><circle cx="289.9" cy="379.2" r="1.75"/><circle cx="290.5" cy="382.7" r="1.75"/><circle cx="291.1" cy="374.6" r="1.75"/><circle cx="291.7" cy="378.2" r="1.75"/><circle cx="292.3" cy="380.7" r="1.75"/><circle cx="292.9" cy="379.2" r="1.75"/><circle cx="293.5" cy="383" r="1.75"/><circle cx="294.1" cy="377.6" r="1.75"/><circle cx="294.7" cy="381.6" r="1.75"/><circle cx="295.3" cy="386.1" r="1.75"/><circle cx="295.9" cy="379.1" r="1.75"/><circle cx="296.5" cy="378.9" r="1.75"/><circle cx="297.1" cy="382.9" r="1.75"/><circle cx="297.6" cy="385.5" r="1.75"/><circle cx="298.2" cy="385.3" r="1.75"/><circle cx="298.8" cy="388.4" r="1.75"/><circle cx="299.4" cy="389.9" r="1.75"/><circle cx="300" cy="386.7" r="1.75"/><circle cx="300.6" cy="389.5" r="1.75"/><circle cx="301.2" cy="389.8" r="1.75"/><circle cx="301.8" cy="392.9" r="1.75"/><circle cx="302.4" cy="396.4" r="1.75"/><circle cx="303" cy="402.9" r="1.75"/><circle cx="303.6" cy="406.5" r="1.75"/><circle cx="304.2" cy="413.8" r="1.75"/><circle cx="304.8" cy="409.8" r="1.75"/><circle cx="305.4" cy="411.6" r="1.75"/><circle cx="306" cy="414.9" r="1.75"/><circle cx="306.6" cy="416.1" r="1.75"/><circle cx="307.1" cy="419" r="1.75"/><circle cx="307.7" cy="420.4" r="1.75"/><circle cx="308.3" cy="418.7" r="1.75"/><circle cx="308.9" cy="413.5" r="1.75"/><circle cx="309.5" cy="413.6" r="1.75"/><circle cx="310.1" cy="423.2" r="1.75"/><circle cx="310.7" cy="423.9" r="1.75"/><circle cx="311.3" cy="426.2" r="1.75"/><circle cx="311.9" cy="420.6" r="1.75"/><circle cx="312.5" cy="419.7" r="1.75"/><circle cx="313.1" cy="417.1" r="1.75"/><circle cx="313.7" cy="420.3" r="1.75"/><circle cx="314.3" cy="420.5" r="1.75"/><circle cx="314.9" cy="421.8" r="1.75"/><circle cx="315.5" cy="426.7" r="1.75"/><circle cx="316.1" cy="420.1" r="1.75"/><circle cx="316.6" cy="422.7" r="1.75"/><circle cx="317.2" cy="416.6" r="1.75"/><circle cx="317.8" cy="422.5" r="1.75"/><circle cx="318.4" cy="419.7" r="1.75"/><circle cx="319" cy="419.8" r="1.75"/><circle cx="319.6" cy="420.6" r="1.75"/><circle cx="320.2" cy="425.9" r="1.75"/><circle cx="320.8" cy="422.4" r="1.75"/><circle cx="321.4" cy="419.5" r="1.75"/><circle cx="322" cy="416.2" r="1.75"/><circle cx="322.6" cy="419.7" r="1.75"/><circle cx="323.2" cy="417.5" r="1.75"/><circle cx="323.8" cy="417.8" r="1.75"/><circle cx="324.4" cy="419.5" r="1.75"/><circle cx="325" cy="422.5" r="1.75"/><circle cx="325.6" cy="419.3" r="1.75"/><circle cx="326.1" cy="422.5" r="1.75"/><circle cx="326.7" cy="427.4" r="1.75"/><circle cx="327.3" cy="419" r="1.75"/><circle cx="327.9" cy="424.8" r="1.75"/><circle cx="328.5" cy="428.3" r="1.75"/><circle cx="329.1" cy="421.8" r="1.75"/><circle cx="329.7" cy="422.4" r="1.75"/><circle cx="330.3" cy="416.5" r="1.75"/><circle cx="330.9" cy="418.8" r="1.75"/><circle cx="331.5" cy="417.6" r="1.75"/><circle cx="332.1" cy="418.6" r="1.75"/><circle cx="332.7" cy="415.3" r="1.75"/><circle cx="333.3" cy="413.9" r="1.75"/><circle cx="333.9" cy="413.4" r="1.75"/><circle cx="334.5" cy="411.8" r="1.75"/><circle cx="335.1" cy="410.7" r="1.75"/><circle cx="335.6" cy="410.6" r="1.75"/><circle cx="336.2" cy="407.5" r="1.75"/><circle cx="336.8" cy="408.1" r="1.75"/><circle cx="337.4" cy="408.5" r="1.75"/><circle cx="338" cy="401.6" r="1.75"/><circle cx="338.6" cy="402.6" r="1.75"/><circle cx="339.2" cy="399.9" r="1.75"/><circle cx="339.8" cy="396.6" r="1.75"/><circle cx="340.4" cy="393.8" r="1.75"/><circle cx="341" cy="393" r="1.75"/><circle cx="341.6" cy="392.1" r="1.75"/><circle cx="342.2" cy="393.4" r="1.75"/><circle cx="342.8" cy="389.2" r="1.75"/><circle cx="343.4" cy="392.1" r="1.75"/><circle cx="344" cy="387.9" r="1.75"/><circle cx="344.6" cy="389.3" r="1.75"/><circle cx="345.1" cy="390.2" r="1.75"/><circle cx="345.7" cy="384" r="1.75"/><circle cx="346.3" cy="386.7" r="1.75"/><circle cx="346.9" cy="389.9" r="1.75"/><circle cx="347.5" cy="383.8" r="1.75"/><circle cx="348.1" cy="383.4" r="1.75"/><circle cx="348.7" cy="381.1" r="1.75"/><circle cx="349.3" cy="380.2" r="1.75"/><circle cx="349.9" cy="378.7" r="1.75"/><circle cx="350.5" cy="376.7" r="1.75"/><circle cx="351.1" cy="379.3" r="1.75"/><circle cx="351.7" cy="381.8" r="1.75"/><circle cx="352.3" cy="381.4" r="1.75"/><circle cx="352.9" cy="385.8" r="1.75"/><circle cx="353.5" cy="387.2" r="1.75"/><circle cx="354.1" cy="387.5" r="1.75"/><circle cx="354.6" cy="384.7" r="1.75"/><circle cx="355.2" cy="391.1" r="1.75"/><circle cx="355.8" cy="392.6" r="1.75"/><circle cx="356.4" cy="383.9" r="1.75"/><circle cx="357" cy="383.7" r="1.75"/><circle cx="357.6" cy="385.9" r="1.75"/><circle cx="358.2" cy="391.1" r="1.75"/><circle cx="358.8" cy="394.5" r="1.75"/><circle cx="359.4" cy="392" r="1.75"/><circle cx="360" cy="392.9" r="1.75"/><circle cx="360.6" cy="395" r="1.75"/><circle cx="361.2" cy="390.7" r="1.75"/><circle cx="361.8" cy="394.7" r="1.75"/><circle cx="362.4" cy="394.2" r="1.75"/><circle cx="363" cy="395.8" r="1.75"/><circle cx="363.6" cy="396.2" r="1.75"/><circle cx="364.1" cy="393.7" r="1.75"/><circle cx="364.7" cy="393.6" r="1.75"/><circle cx="365.3" cy="396.9" r="1.75"/><circle cx="365.9" cy="399" r="1.75"/><circle cx="366.5" cy="399.2" r="1.75"/><circle cx="367.1" cy="403.4" r="1.75"/><circle cx="367.7" cy="401.7" r="1.75"/><circle cx="368.3" cy="398.9" r="1.75"/><circle cx="368.9" cy="400.5" r="1.75"/><circle cx="369.5" cy="402" r="1.75"/><circle cx="370.1" cy="403.1" r="1.75"/><circle cx="370.7" cy="407.6" r="1.75"/><circle cx="371.3" cy="407.9" r="1.75"/><circle cx="371.9" cy="410.1" r="1.75"/><circle cx="372.5" cy="409.9" r="1.75"/><circle cx="373.1" cy="407.2" r="1.75"/><circle cx="373.7" cy="410.1" r="1.75"/><circle cx="374.2" cy="407.1" r="1.75"/><circle cx="374.8" cy="407.6" r="1.75"/><circle cx="375.4" cy="403.9" r="1.75"/><circle cx="376" cy="406" r="1.75"/><circle cx="376.6" cy="405.6" r="1.75"/><circle cx="377.2" cy="407.8" r="1.75"/><circle cx="377.8" cy="413.3" r="1.75"/><circle cx="378.4" cy="414.7" r="1.75"/><circle cx="379" cy="415.1" r="1.75"/><circle cx="379.6" cy="411.2" r="1.75"/><circle cx="380.2" cy="412.5" r="1.75"/><circle cx="380.8" cy="411.4" r="1.75"/><circle cx="381.4" cy="408.7" r="1.75"/><circle cx="382" cy="409.5" r="1.75"/><circle cx="382.6" cy="410.3" r="1.75"/><circle cx="383.2" cy="410.5" r="1.75"/><circle cx="383.7" cy="416.3" r="1.75"/><circle cx="384.3" cy="414.4" r="1.75"/><circle cx="384.9" cy="414.5" r="1.75"/><circle cx="385.5" cy="418.3" r="1.75"/><circle cx="386.1" cy="417" r="1.75"/><circle cx="386.7" cy="416" r="1.75"/><circle cx="387.3" cy="417.1" r="1.75"/><circle cx="387.9" cy="421.7" r="1.75"/><circle cx="388.5" cy="423.9" r="1.75"/><circle cx="389.1" cy="425.3" r="1.75"/><circle cx="389.7" cy="425.1" r="1.75"/><circle cx="390.3" cy="424.8" r="1.75"/><circle cx="390.9" cy="429.9" r="1.75"/><circle cx="391.5" cy="427.2" r="1.75"/><circle cx="392.1" cy="430" r="1.75"/><circle cx="392.7" cy="429.1" r="1.75"/><circle cx="393.2" cy="431.2" r="1.75"/><circle cx="393.8" cy="432.6" r="1.75"/><circle cx="394.4" cy="437.8" r="1.75"/><circle cx="395" cy="427.7" r="1.75"/><circle cx="395.6" cy="436.3" r="1.75"/><circle cx="396.2" cy="433.1" r="1.75"/><circle cx="396.8" cy="435.6" r="1.75"/><circle cx="397.4" cy="438.4" r="1.75"/><circle cx="398" cy="434.7" r="1.75"/><circle cx="398.6" cy="435.2" r="1.75"/><circle cx="399.2" cy="437.4" r="1.75"/><circle cx="399.8" cy="436.2" r="1.75"/><circle cx="400.4" cy="433.7" r="1.75"/><circle cx="401" cy="435.8" r="1.75"/><circle cx="401.6" cy="436.4" r="1.75"/><circle cx="402.2" cy="431.3" r="1.75"/><circle cx="402.7" cy="438.7" r="1.75"/><circle cx="403.3" cy="437.9" r="1.75"/><circle cx="403.9" cy="428.9" r="1.75"/><circle cx="404.5" cy="430.5" r="1.75"/><circle cx="405.1" cy="439.6" r="1.75"/><circle cx="405.7" cy="442.8" r="1.75"/><circle cx="406.3" cy="439.7" r="1.75"/><circle cx="406.9" cy="432" r="1.75"/><circle cx="407.5" cy="433.8" r="1.75"/><circle cx="408.1" cy="438.4" r="1.75"/><circle cx="408.7" cy="437.5" r="1.75"/><circle cx="409.3" cy="434.7" r="1.75"/><circle cx="409.9" cy="432.1" r="1.75"/><circle cx="410.5" cy="435.2" r="1.75"/><circle cx="411.1" cy="433.1" r="1.75"/><circle cx="411.7" cy="433.4" r="1.75"/><circle cx="412.2" cy="433.5" r="1.75"/><circle cx="412.8" cy="436" r="1.75"/><circle cx="413.4" cy="432.6" r="1.75"/><circle cx="414" cy="430.8" r="1.75"/><circle cx="414.6" cy="424.1" r="1.75"/><circle cx="415.2" cy="428.7" r="1.75"/><circle cx="415.8" cy="429.3" r="1.75"/><circle cx="416.4" cy="426.4" r="1.75"/><circle cx="417" cy="418.8" r="1.75"/><circle cx="417.6" cy="419.4" r="1.75"/><circle cx="418.2" cy="420.6" r="1.75"/><circle cx="418.8" cy="425.4" r="1.75"/><circle cx="419.4" cy="422.9" r="1.75"/><circle cx="420" cy="421.5" r="1.75"/><circle cx="420.6" cy="420" r="1.75"/><circle cx="421.2" cy="419.8" r="1.75"/><circle cx="421.7" cy="412.9" r="1.75"/><circle cx="422.3" cy="409.9" r="1.75"/><circle cx="422.9" cy="407" r="1.75"/><circle cx="423.5" cy="407.1" r="1.75"/><circle cx="424.1" cy="406.1" r="1.75"/><circle cx="424.7" cy="405.6" r="1.75"/><circle cx="425.3" cy="401.7" r="1.75"/><circle cx="425.9" cy="401.6" r="1.75"/><circle cx="426.5" cy="398.4" r="1.75"/><circle cx="427.1" cy="402.8" r="1.75"/><circle cx="427.7" cy="397.4" r="1.75"/><circle cx="428.3" cy="399.9" r="1.75"/><circle cx="428.9" cy="397.6" r="1.75"/><circle cx="429.5" cy="390.5" r="1.75"/><circle cx="430.1" cy="390.5" r="1.75"/><circle cx="430.7" cy="388.4" r="1.75"/><circle cx="431.2" cy="381.7" r="1.75"/><circle cx="431.8" cy="381.8" r="1.75"/><circle cx="432.4" cy="378.8" r="1.75"/><circle cx="433" cy="377" r="1.75"/><circle cx="433.6" cy="372.3" r="1.75"/><circle cx="434.2" cy="370.7" r="1.75"/><circle cx="434.8" cy="370.6" r="1.75"/><circle cx="435.4" cy="368.2" r="1.75"/><circle cx="436" cy="365.3" r="1.75"/><circle cx="436.6" cy="364.2" r="1.75"/><circle cx="437.2" cy="360.9" r="1.75"/><circle cx="437.8" cy="362.6" r="1.75"/><circle cx="438.4" cy="355.8" r="1.75"/><circle cx="439" cy="362.4" r="1.75"/><circle cx="439.6" cy="361" r="1.75"/><circle cx="440.2" cy="360.9" r="1.75"/><circle cx="440.7" cy="361.5" r="1.75"/><circle cx="441.3" cy="355.5" r="1.75"/><circle cx="441.9" cy="363.4" r="1.75"/><circle cx="442.5" cy="356.1" r="1.75"/><circle cx="443.1" cy="357.7" r="1.75"/><circle cx="443.7" cy="357.8" r="1.75"/><circle cx="444.3" cy="360.8" r="1.75"/><circle cx="444.9" cy="359.4" r="1.75"/><circle cx="445.5" cy="356.1" r="1.75"/><circle cx="446.1" cy="359.9" r="1.75"/><circle cx="446.7" cy="355.6" r="1.75"/><circle cx="447.3" cy="359.6" r="1.75"/><circle cx="447.9" cy="361.4" r="1.75"/><circle cx="448.5" cy="368" r="1.75"/><circle cx="449.1" cy="366.5" r="1.75"/><circle cx="449.7" cy="366" r="1.75"/><circle cx="450.3" cy="365.6" r="1.75"/><circle cx="450.8" cy="365.9" r="1.75"/><circle cx="451.4" cy="367.4" r="1.75"/><circle cx="452" cy="371.6" r="1.75"/><circle cx="452.6" cy="368.9" r="1.75"/><circle cx="453.2" cy="371.3" r="1.75"/><circle cx="453.8" cy="369.7" r="1.75"/><circle cx="454.4" cy="373" r="1.75"/><circle cx="455" cy="375.8" r="1.75"/><circle cx="455.6" cy="373.9" r="1.75"/><circle cx="456.2" cy="375.2" r="1.75"/><circle cx="456.8" cy="377.9" r="1.75"/><circle cx="457.4" cy="381.2" r="1.75"/><circle cx="458" cy="383.5" r="1.75"/><circle cx="458.6" cy="381.7" r="1.75"/><circle cx="459.2" cy="378.7" r="1.75"/><circle cx="459.8" cy="376.1" r="1.75"/><circle cx="460.3" cy="382.3" r="1.75"/><circle cx="460.9" cy="386.9" r="1.75"/><circle cx="461.5" cy="386.2" r="1.75"/><circle cx="462.1" cy="389.9" r="1.75"/><circle cx="462.7" cy="385.3" r="1.75"/><circle cx="463.3" cy="383.8" r="1.75"/><circle cx="463.9" cy="389.5" r="1.75"/><circle cx="464.5" cy="383.9" r="1.75"/><circle cx="465.1" cy="386.9" r="1.75"/><circle cx="465.7" cy="387.6" r="1.75"/><circle cx="466.3" cy="387.3" r="1.75"/><circle cx="466.9" cy="392.2" r="1.75"/><circle cx="467.5" cy="386.3" r="1.75"/><circle cx="468.1" cy="385.7" r="1.75"/><circle cx="468.7" cy="381.4" r="1.75"/><circle cx="469.3" cy="383" r="1.75"/><circle cx="469.8" cy="385.6" r="1.75"/><circle cx="470.4" cy="387.4" r="1.75"/><circle cx="471" cy="389" r="1.75"/><circle cx="471.6" cy="391.6" r="1.75"/><circle cx="472.2" cy="390.3" r="1.75"/><circle cx="472.8" cy="387" r="1.75"/><circle cx="473.4" cy="392.5" r="1.75"/><circle cx="474" cy="396.3" r="1.75"/><circle cx="474.6" cy="395.2" r="1.75"/><circle cx="475.2" cy="396.8" r="1.75"/><circle cx="475.8" cy="404.2" r="1.75"/><circle cx="476.4" cy="406.6" r="1.75"/><circle cx="477" cy="408.5" r="1.75"/><circle cx="477.6" cy="410.4" r="1.75"/><circle cx="478.2" cy="412.1" r="1.75"/><circle cx="478.8" cy="413.3" r="1.75"/><circle cx="479.3" cy="417.6" r="1.75"/><circle cx="479.9" cy="419.7" r="1.75"/><circle cx="480.5" cy="421.8" r="1.75"/><circle cx="481.1" cy="424.8" r="1.75"/><circle cx="481.7" cy="425.7" r="1.75"/><circle cx="482.3" cy="429.2" r="1.75"/><circle cx="482.9" cy="426.2" r="1.75"/><circle cx="483.5" cy="434.8" r="1.75"/><circle cx="484.1" cy="429.3" r="1.75"/><circle cx="484.7" cy="429.2" r="1.75"/><circle cx="485.3" cy="433.4" r="1.75"/><circle cx="485.9" cy="429.2" r="1.75"/><circle cx="486.5" cy="428.7" r="1.75"/><circle cx="487.1" cy="430.2" r="1.75"/><circle cx="487.7" cy="423.5" r="1.75"/><circle cx="488.3" cy="425.2" r="1.75"/><circle cx="488.8" cy="425.5" r="1.75"/><circle cx="489.4" cy="428" r="1.75"/><circle cx="490" cy="431.4" r="1.75"/><circle cx="490.6" cy="432.9" r="1.75"/><circle cx="491.2" cy="436.1" r="1.75"/><circle cx="491.8" cy="437" r="1.75"/><circle cx="492.4" cy="436" r="1.75"/><circle cx="493" cy="432.1" r="1.75"/><circle cx="493.6" cy="433.7" r="1.75"/><circle cx="494.2" cy="427.9" r="1.75"/><circle cx="494.8" cy="428.2" r="1.75"/><circle cx="495.4" cy="433.2" r="1.75"/><circle cx="496" cy="433.1" r="1.75"/><circle cx="496.6" cy="425.9" r="1.75"/><circle cx="497.2" cy="425.5" r="1.75"/><circle cx="497.8" cy="430.2" r="1.75"/><circle cx="498.3" cy="431" r="1.75"/><circle cx="498.9" cy="432.8" r="1.75"/><circle cx="499.5" cy="424.3" r="1.75"/><circle cx="500.1" cy="422.9" r="1.75"/><circle cx="500.7" cy="424.2" r="1.75"/><circle cx="501.3" cy="421.9" r="1.75"/><circle cx="501.9" cy="422.7" r="1.75"/><circle cx="502.5" cy="422.5" r="1.75"/><circle cx="503.1" cy="422.5" r="1.75"/><circle cx="503.7" cy="420.6" r="1.75"/><circle cx="504.3" cy="420.5" r="1.75"/><circle cx="504.9" cy="419.7" r="1.75"/><circle cx="505.5" cy="416.9" r="1.75"/><circle cx="506.1" cy="411.6" r="1.75"/><circle cx="506.7" cy="414.1" r="1.75"/><circle cx="507.3" cy="411.6" r="1.75"/><circle cx="507.8" cy="410" r="1.75"/><circle cx="508.4" cy="407.6" r="1.75"/><circle cx="509" cy="401.5" r="1.75"/><circle cx="509.6" cy="402.8" r="1.75"/><circle cx="510.2" cy="399.4" r="1.75"/><circle cx="510.8" cy="395.6" r="1.75"/><circle cx="511.4" cy="398.5" r="1.75"/><circle cx="512" cy="395" r="1.75"/><circle cx="512.6" cy="393.7" r="1.75"/><circle cx="513.2" cy="393.3" r="1.75"/><circle cx="513.8" cy="393.6" r="1.75"/><circle cx="514.4" cy="384.9" r="1.75"/><circle cx="515" cy="382.5" r="1.75"/><circle cx="515.6" cy="384.3" r="1.75"/><circle cx="516.2" cy="380.9" r="1.75"/><circle cx="516.8" cy="375.3" r="1.75"/><circle cx="517.4" cy="376.5" r="1.75"/><circle cx="517.9" cy="377.6" r="1.75"/><circle cx="518.5" cy="377.8" r="1.75"/><circle cx="519.1" cy="375.4" r="1.75"/><circle cx="519.7" cy="371.8" r="1.75"/><circle cx="520.3" cy="370.6" r="1.75"/><circle cx="520.9" cy="368.4" r="1.75"/><circle cx="521.5" cy="365.3" r="1.75"/><circle cx="522.1" cy="364.5" r="1.75"/><circle cx="522.7" cy="363.3" r="1.75"/><circle cx="523.3" cy="358.5" r="1.75"/><circle cx="523.9" cy="360.1" r="1.75"/><circle cx="524.5" cy="360.4" r="1.75"/><circle cx="525.1" cy="360.1" r="1.75"/><circle cx="525.7" cy="349.6" r="1.75"/><circle cx="526.3" cy="352.9" r="1.75"/><circle cx="526.9" cy="352.9" r="1.75"/><circle cx="527.4" cy="351.3" r="1.75"/><circle cx="528" cy="355.8" r="1.75"/><circle cx="528.6" cy="352.4" r="1.75"/><circle cx="529.2" cy="359" r="1.75"/><circle cx="529.8" cy="359.8" r="1.75"/><circle cx="530.4" cy="358.2" r="1.75"/><circle cx="531" cy="363.3" r="1.75"/><circle cx="531.6" cy="363.3" r="1.75"/><circle cx="532.2" cy="363.3" r="1.75"/><circle cx="532.8" cy="358.9" r="1.75"/><circle cx="533.4" cy="362.8" r="1.75"/><circle cx="534" cy="367.3" r="1.75"/><circle cx="534.6" cy="368.5" r="1.75"/><circle cx="535.2" cy="362.4" r="1.75"/><circle cx="535.8" cy="368.1" r="1.75"/><circle cx="536.4" cy="371.4" r="1.75"/><circle cx="536.9" cy="370.7" r="1.75"/><circle cx="537.5" cy="367.7" r="1.75"/><circle cx="538.1" cy="364.1" r="1.75"/><circle cx="538.7" cy="364.9" r="1.75"/><circle cx="539.3" cy="366.6" r="1.75"/><circle cx="539.9" cy="370.2" r="1.75"/><circle cx="540.5" cy="372.9" r="1.75"/><circle cx="541.1" cy="371.1" r="1.75"/><circle cx="541.7" cy="368.5" r="1.75"/><circle cx="542.3" cy="371.2" r="1.75"/><circle cx="542.9" cy="370.3" r="1.75"/><circle cx="543.5" cy="377.7" r="1.75"/><circle cx="544.1" cy="374.1" r="1.75"/><circle cx="544.7" cy="377.9" r="1.75"/><circle cx="545.3" cy="380.8" r="1.75"/><circle cx="545.9" cy="377.5" r="1.75"/><circle cx="546.4" cy="382.2" r="1.75"/><circle cx="547" cy="381.3" r="1.75"/><circle cx="547.6" cy="379.4" r="1.75"/><circle cx="548.2" cy="378.5" r="1.75"/><circle cx="548.8" cy="381.5" r="1.75"/><circle cx="549.4" cy="385.9" r="1.75"/><circle cx="550" cy="379.4" r="1.75"/><circle cx="550.6" cy="384.4" r="1.75"/><circle cx="551.2" cy="384.5" r="1.75"/><circle cx="551.8" cy="383.3" r="1.75"/><circle cx="552.4" cy="385.6" r="1.75"/><circle cx="553" cy="387.7" r="1.75"/><circle cx="553.6" cy="389.3" r="1.75"/><circle cx="554.2" cy="392.9" r="1.75"/><circle cx="554.8" cy="391" r="1.75"/><circle cx="555.4" cy="398.1" r="1.75"/><circle cx="555.9" cy="399.2" r="1.75"/><circle cx="556.5" cy="396.8" r="1.75"/><circle cx="557.1" cy="394.2" r="1.75"/><circle cx="557.7" cy="399.1" r="1.75"/><circle cx="558.3" cy="401.6" r="1.75"/><circle cx="558.9" cy="406.5" r="1.75"/><circle cx="559.5" cy="409.8" r="1.75"/><circle cx="560.1" cy="415" r="1.75"/><circle cx="560.7" cy="414.3" r="1.75"/><circle cx="561.3" cy="417.3" r="1.75"/><circle cx="561.9" cy="417" r="1.75"/><circle cx="562.5" cy="418.3" r="1.75"/><circle cx="563.1" cy="424.2" r="1.75"/><circle cx="563.7" cy="424.2" r="1.75"/><circle cx="564.3" cy="425.5" r="1.75"/><circle cx="564.9" cy="426.6" r="1.75"/><circle cx="565.4" cy="428.8" r="1.75"/><circle cx="566" cy="430.6" r="1.75"/><circle cx="566.6" cy="429.4" r="1.75"/><circle cx="567.2" cy="426" r="1.75"/><circle cx="567.8" cy="429.4" r="1.75"/><circle cx="568.4" cy="427.4" r="1.75"/><circle cx="569" cy="428.2" r="1.75"/><circle cx="569.6" cy="430.5" r="1.75"/><circle cx="570.2" cy="431.7" r="1.75"/><circle cx="570.8" cy="423.6" r="1.75"/><circle cx="571.4" cy="433.4" r="1.75"/><circle cx="572" cy="434.3" r="1.75"/><circle cx="572.6" cy="437.9" r="1.75"/><circle cx="573.2" cy="437.8" r="1.75"/><circle cx="573.8" cy="431.8" r="1.75"/><circle cx="574.4" cy="429" r="1.75"/><circle cx="574.9" cy="430.5" r="1.75"/><circle cx="575.5" cy="433.1" r="1.75"/><circle cx="576.1" cy="429.4" r="1.75"/><circle cx="576.7" cy="427.9" r="1.75"/><circle cx="577.3" cy="430.5" r="1.75"/><circle cx="577.9" cy="425.7" r="1.75"/><circle cx="578.5" cy="426.2" r="1.75"/><circle cx="579.1" cy="428.2" r="1.75"/><circle cx="579.7" cy="424.8" r="1.75"/><circle cx="580.3" cy="426.3" r="1.75"/><circle cx="580.9" cy="424.1" r="1.75"/><circle cx="581.5" cy="418.5" r="1.75"/><circle cx="582.1" cy="419.2" r="1.75"/><circle cx="582.7" cy="420.4" r="1.75"/><circle cx="583.3" cy="420.3" r="1.75"/><circle cx="583.9" cy="421.2" r="1.75"/><circle cx="584.4" cy="421.9" r="1.75"/><circle cx="585" cy="421.3" r="1.75"/><circle cx="585.6" cy="420.2" r="1.75"/><circle cx="586.2" cy="417.5" r="1.75"/><circle cx="586.8" cy="416.5" r="1.75"/><circle cx="587.4" cy="415.1" r="1.75"/><circle cx="588" cy="413.6" r="1.75"/><circle cx="588.6" cy="416.5" r="1.75"/><circle cx="589.2" cy="408.9" r="1.75"/><circle cx="589.8" cy="409.9" r="1.75"/><circle cx="590.4" cy="404.9" r="1.75"/><circle cx="591" cy="404.3" r="1.75"/><circle cx="591.6" cy="406.4" r="1.75"/><circle cx="592.2" cy="403.7" r="1.75"/><circle cx="592.8" cy="405.8" r="1.75"/><circle cx="593.4" cy="400.1" r="1.75"/><circle cx="594" cy="398.5" r="1.75"/><circle cx="594.5" cy="396.1" r="1.75"/><circle cx="595.1" cy="395.8" r="1.75"/><circle cx="595.7" cy="394.1" r="1.75"/><circle cx="596.3" cy="392" r="1.75"/><circle cx="596.9" cy="390.7" r="1.75"/><circle cx="597.5" cy="391" r="1.75"/><circle cx="598.1" cy="387.7" r="1.75"/><circle cx="598.7" cy="384.8" r="1.75"/><circle cx="599.3" cy="381.6" r="1.75"/><circle cx="599.9" cy="378.1" r="1.75"/><circle cx="600.5" cy="373.7" r="1.75"/><circle cx="601.1" cy="371.4" r="1.75"/><circle cx="601.7" cy="371.2" r="1.75"/><circle cx="602.3" cy="366.3" r="1.75"/><circle cx="602.9" cy="367.3" r="1.75"/><circle cx="603.5" cy="364.7" r="1.75"/><circle cx="604" cy="361.6" r="1.75"/><circle cx="604.6" cy="360.3" r="1.75"/><circle cx="605.2" cy="361.7" r="1.75"/><circle cx="605.8" cy="360.6" r="1.75"/><circle cx="606.4" cy="359.6" r="1.75"/><circle cx="607" cy="362.9" r="1.75"/><circle cx="607.6" cy="364.1" r="1.75"/><circle cx="608.2" cy="356" r="1.75"/><circle cx="608.8" cy="357.8" r="1.75"/><circle cx="609.4" cy="353.6" r="1.75"/><circle cx="610" cy="349.9" r="1.75"/><circle cx="610.6" cy="351" r="1.75"/><circle cx="611.2" cy="356.3" r="1.75"/><circle cx="611.8" cy="354.1" r="1.75"/><circle cx="612.4" cy="353.8" r="1.75"/><circle cx="613" cy="359.5" r="1.75"/><circle cx="613.5" cy="360.2" r="1.75"/><circle cx="614.1" cy="359.7" r="1.75"/><circle cx="614.7" cy="365.1" r="1.75"/><circle cx="615.3" cy="364.6" r="1.75"/><circle cx="615.9" cy="362.1" r="1.75"/><circle cx="616.5" cy="361.1" r="1.75"/><circle cx="617.1" cy="363.2" r="1.75"/><circle cx="617.7" cy="366.3" r="1.75"/><circle cx="618.3" cy="370.3" r="1.75"/><circle cx="618.9" cy="372.4" r="1.75"/><circle cx="619.5" cy="372.3" r="1.75"/><circle cx="620.1" cy="369.8" r="1.75"/><circle cx="620.7" cy="374.8" r="1.75"/><circle cx="621.3" cy="375.4" r="1.75"/><circle cx="621.9" cy="373.3" r="1.75"/><circle cx="622.5" cy="372.8" r="1.75"/><circle cx="623" cy="377" r="1.75"/><circle cx="623.6" cy="379.7" r="1.75"/><circle cx="624.2" cy="382.7" r="1.75"/><circle cx="624.8" cy="379.9" r="1.75"/><circle cx="625.4" cy="387.3" r="1.75"/><circle cx="626" cy="382.1" r="1.75"/><circle cx="626.6" cy="385.2" r="1.75"/><circle cx="627.2" cy="390.7" r="1.75"/><circle cx="627.8" cy="393.2" r="1.75"/><circle cx="628.4" cy="389.5" r="1.75"/><circle cx="629" cy="392.6" r="1.75"/><circle cx="629.6" cy="396.1" r="1.75"/><circle cx="630.2" cy="396.7" r="1.75"/><circle cx="630.8" cy="392.8" r="1.75"/><circle cx="631.4" cy="398.9" r="1.75"/><circle cx="632" cy="392.6" r="1.75"/><circle cx="632.5" cy="394.5" r="1.75"/><circle cx="633.1" cy="391.6" r="1.75"/><circle cx="633.7" cy="392.4" r="1.75"/><circle cx="634.3" cy="392.9" r="1.75"/><circle cx="634.9" cy="395.7" r="1.75"/><circle cx="635.5" cy="391.1" r="1.75"/><circle cx="636.1" cy="393.9" r="1.75"/><circle cx="636.7" cy="398" r="1.75"/><circle cx="637.3" cy="395.8" r="1.75"/><circle cx="637.9" cy="396.1" r="1.75"/><circle cx="638.5" cy="395.7" r="1.75"/><circle cx="639.1" cy="391.7" r="1.75"/><circle cx="639.7" cy="391.1" r="1.75"/><circle cx="640.3" cy="392" r="1.75"/><circle cx="640.9" cy="393.7" r="1.75"/><circle cx="641.5" cy="399.1" r="1.75"/><circle cx="642" cy="399.5" r="1.75"/><circle cx="642.6" cy="393.5" r="1.75"/></g>
<path d="M72 321.4 L72.6 324.6 L73.2 322.7 L73.8 321.7 L74.4 323.7 L75 321.5 L75.6 325.8 L76.2 328.4 L76.8 339.2 L77.3 341.8 L77.9 344.3 L78.5 341.8 L79.1 338.4 L79.7 334.4 L80.3 333.8 L80.9 337.5 L81.5 337 L82.1 340.6 L82.7 340.9 L83.3 342.9 L83.9 348.4 L84.5 349.7 L85.1 340.3 L85.7 332.9 L86.3 328.3 L86.8 327.9 L87.4 321.7 L88 317.1 L88.6 318.2 L89.2 313.1 L89.8 311.5 L90.4 313.1 L91 312.5 L91.6 310.9 L92.2 311.5 L92.8 301.3 L93.4 307.4 L94 304 L94.6 300 L95.2 303.8 L95.8 307 L96.3 304.6 L96.9 301.3 L97.5 303.3 L98.1 303.8 L98.7 308.7 L99.3 308.6 L99.9 306.6 L100.5 308.6 L101.1 305.1 L101.7 301 L102.3 303.9 L102.9 305.1 L103.5 302.9 L104.1 299.9 L104.7 301.8 L105.3 294.1 L105.8 300.5 L106.4 303.1 L107 297 L107.6 300.1 L108.2 298.1 L108.8 303.1 L109.4 295.8 L110 296.5 L110.6 302.4 L111.2 306.6 L111.8 297.7 L112.4 299.3 L113 302.9 L113.6 301.5 L114.2 308.1 L114.8 302.9 L115.3 305.6 L115.9 302.9 L116.5 309.4 L117.1 308.3 L117.7 306.6 L118.3 301.5 L118.9 310.5 L119.5 311.7 L120.1 311.9 L120.7 312 L121.3 309.5 L121.9 305.1 L122.5 302.2 L123.1 300.5 L123.7 305.2 L124.3 298.9 L124.8 297.9 L125.4 297.6 L126 298.6 L126.6 301.6 L127.2 298.7 L127.8 296.8 L128.4 301.2 L129 307 L129.6 309.4 L130.2 310.3 L130.8 310.4 L131.4 312.8 L132 313.7 L132.6 318.8 L133.2 320.1 L133.8 324.4 L134.3 330.7 L134.9 339.7 L135.5 348 L136.1 358.2 L136.7 363 L137.3 367.1 L137.9 365.9 L138.5 368.9 L139.1 371.2 L139.7 376.1 L140.3 374.1 L140.9 381.8 L141.5 386.1 L142.1 382.9 L142.7 383.1 L143.3 384.5 L143.8 388.2 L144.4 392.5 L145 398.8 L145.6 397.8 L146.2 400.7 L146.8 401.7 L147.4 407.3 L148 410 L148.6 414.3 L149.2 413.4 L149.8 411.4 L150.4 405.5 L151 404.7 L151.6 401.2 L152.2 397.5 L152.8 399.3 L153.4 403.9 L153.9 403.5 L154.5 402.6 L155.1 406.3 L155.7 408.5 L156.3 402.8 L156.9 398 L157.5 393.7 L158.1 390.7 L158.7 393.8 L159.3 394.9 L159.9 392.1 L160.5 390.7 L161.1 388.3 L161.7 384.5 L162.3 377.9 L162.9 374.8 L163.4 373.4 L164 369.8 L164.6 367.6 L165.2 364.3 L165.8 361.5 L166.4 360.3 L167 355.6 L167.6 353.1 L168.2 352.7 L168.8 351.8 L169.4 354.8 L170 350.9 L170.6 356.3 L171.2 349.7 L171.8 345.1 L172.4 341.8 L172.9 338.5 L173.5 334 L174.1 326 L174.7 320.9 L175.3 313.9 L175.9 309.3 L176.5 306.8 L177.1 301.5 L177.7 307.1 L178.3 306 L178.9 306.2 L179.5 302.6 L180.1 298.6 L180.7 298.3 L181.3 299.7 L181.9 296 L182.4 297.1 L183 296.1 L183.6 300.6 L184.2 295.2 L184.8 298.4 L185.4 294.1 L186 291 L186.6 290.4 L187.2 288.4 L187.8 292 L188.4 296.8 L189 296.8 L189.6 298.6 L190.2 302.7 L190.8 300.9 L191.4 300.9 L191.9 301.3 L192.5 299.5 L193.1 305.2 L193.7 303.1 L194.3 308.7 L194.9 309.1 L195.5 311 L196.1 308 L196.7 303.8 L197.3 305.4 L197.9 303.9 L198.5 304.7 L199.1 305.9 L199.7 306.1 L200.3 306.4 L200.9 305 L201.4 306.6 L202 302.1 L202.6 305.9 L203.2 304.9 L203.8 311.8 L204.4 315.7 L205 308 L205.6 311.3 L206.2 312.3 L206.8 310.7 L207.4 315 L208 314.5 L208.6 311 L209.2 313.7 L209.8 315.4 L210.4 314.8 L210.9 310.3 L211.5 311.5 L212.1 312 L212.7 306.9 L213.3 305.8 L213.9 306.8 L214.5 305.8 L215.1 313.4 L215.7 314.6 L216.3 313.8 L216.9 315.4 L217.5 320.4 L218.1 329 L218.7 330.9 L219.3 335.3 L219.9 341.6 L220.4 346.9 L221 355.7 L221.6 358.6 L222.2 364.6 L222.8 369.4 L223.4 374.1 L224 374.7 L224.6 382.2 L225.2 384.2 L225.8 387.3 L226.4 388.2 L227 390.3 L227.6 395.5 L228.2 400.2 L228.8 403.3 L229.4 407.4 L230 410.2 L230.5 412.1 L231.1 416.3 L231.7 420.3 L232.3 418.2 L232.9 415.8 L233.5 414.2 L234.1 409.7 L234.7 404.8 L235.3 404.4 L235.9 407.8 L236.5 402.8 L237.1 400.3 L237.7 398.5 L238.3 400.1 L238.9 392.1 L239.5 392.7 L240 393.7 L240.6 388.5 L241.2 390.3 L241.8 387.9 L242.4 383.2 L243 381.7 L243.6 376.1 L244.2 374.4 L244.8 376.2 L245.4 370 L246 370.7 L246.6 365.6 L247.2 363.3 L247.8 358.1 L248.4 349.7 L249 346.6 L249.5 345.6 L250.1 341 L250.7 336.2 L251.3 339.5 L251.9 340.6 L252.5 339.5 L253.1 342.2 L253.7 348 L254.3 348 L254.9 352.5 L255.5 358.2 L256.1 352.2 L256.7 346.5 L257.3 342.5 L257.9 342.6 L258.5 344.5 L259 343.3 L259.6 342.8 L260.2 339.3 L260.8 339.2 L261.4 338.5 L262 340.3 L262.6 339.9 L263.2 340.1 L263.8 343.6 L264.4 343.5 L265 344.1 L265.6 349.6 L266.2 350.2 L266.8 358.2 L267.4 358.7 L268 354.1 L268.5 356.3 L269.1 355.9 L269.7 352.3 L270.3 356.8 L270.9 352.6 L271.5 346.5 L272.1 352.6 L272.7 354.2 L273.3 360.8 L273.9 359.9 L274.5 359.3 L275.1 367.2 L275.7 360.8 L276.3 360.9 L276.9 363.4 L277.5 360.3 L278 357.8 L278.6 357.1 L279.2 360.6 L279.8 359.3 L280.4 363.2 L281 365.8 L281.6 371.4 L282.2 370.7 L282.8 370.1 L283.4 374.7 L284 375.5 L284.6 378.1 L285.2 379.7 L285.8 383.9 L286.4 382.1 L287 383.5 L287.5 376.8 L288.1 377.7 L288.7 386.7 L289.3 383.6 L289.9 382.3 L290.5 380.1 L291.1 385.2 L291.7 386.3 L292.3 382.1 L292.9 386.5 L293.5 387.2 L294.1 389.1 L294.7 385.2 L295.3 391.7 L295.9 390 L296.5 387.4 L297.1 384.9 L297.6 384.8 L298.2 388.6 L298.8 386.6 L299.4 390.3 L300 390.4 L300.6 392.5 L301.2 391.8 L301.8 391.9 L302.4 389.7 L303 394.7 L303.6 399.4 L304.2 401.8 L304.8 405.3 L305.4 406.6 L306 408.7 L306.6 405.9 L307.1 412.2 L307.7 410.9 L308.3 408 L308.9 403.9 L309.5 405.6 L310.1 411.7 L310.7 411.3 L311.3 407 L311.9 412.5 L312.5 415 L313.1 414.6 L313.7 413.7 L314.3 414.6 L314.9 412.4 L315.5 410.9 L316.1 405.5 L316.6 408.5 L317.2 405.9 L317.8 408.5 L318.4 398.6 L319 400.7 L319.6 401.8 L320.2 398.3 L320.8 398.9 L321.4 399.9 L322 399.5 L322.6 395.6 L323.2 394.8 L323.8 397.8 L324.4 399.6 L325 396.5 L325.6 394.8 L326.1 394 L326.7 395.7 L327.3 389.9 L327.9 386 L328.5 388.2 L329.1 385.1 L329.7 385 L330.3 385.9 L330.9 386 L331.5 381.3 L332.1 382.6 L332.7 376.1 L333.3 377.8 L333.9 372.4 L334.5 369.8 L335.1 372.2 L335.6 369.8 L336.2 366.8 L336.8 365.3 L337.4 365.8 L338 363.9 L338.6 362.7 L339.2 364.4 L339.8 359.7 L340.4 357.6 L341 355.9 L341.6 359 L342.2 359.6 L342.8 360.6 L343.4 356.7 L344 354.2 L344.6 355.6 L345.1 352.2 L345.7 354.2 L346.3 354.9 L346.9 352.6 L347.5 354.1 L348.1 355.4 L348.7 361.3 L349.3 364.4 L349.9 365.1 L350.5 366.3 L351.1 363.7 L351.7 369 L352.3 371.4 L352.9 368.9 L353.5 373.9 L354.1 369.1 L354.6 371.4 L355.2 373.8 L355.8 370.8 L356.4 376.3 L357 379.7 L357.6 373.6 L358.2 370.9 L358.8 376.4 L359.4 377 L360 373.6 L360.6 375.3 L361.2 376.8 L361.8 377.6 L362.4 381.2 L363 381.6 L363.6 386.4 L364.1 387.5 L364.7 385.9 L365.3 386.7 L365.9 388 L366.5 386.7 L367.1 380 L367.7 384 L368.3 383.3 L368.9 388.2 L369.5 385.6 L370.1 386.1 L370.7 385.8 L371.3 390.2 L371.9 387.5 L372.5 384.9 L373.1 385.8 L373.7 384 L374.2 385.3 L374.8 385.5 L375.4 386.6 L376 393 L376.6 387.7 L377.2 386.7 L377.8 385.4 L378.4 387.8 L379 382.5 L379.6 381.7 L380.2 383.5 L380.8 386.2 L381.4 385.4 L382 383.5 L382.6 382.3 L383.2 386.2 L383.7 391.2 L384.3 390.3 L384.9 389.8 L385.5 390.7 L386.1 387.5 L386.7 388.9 L387.3 390.2 L387.9 393 L388.5 394 L389.1 392.7 L389.7 399.6 L390.3 405.3 L390.9 405.6 L391.5 408.6 L392.1 411.5 L392.7 416.9 L393.2 418.4 L393.8 427.6 L394.4 423.1 L395 421 L395.6 415.8 L396.2 410.5 L396.8 406.8 L397.4 405.1 L398 398.7 L398.6 399 L399.2 399.4 L399.8 396.4 L400.4 404.3 L401 406 L401.6 406 L402.2 409.8 L402.7 406.5 L403.3 408 L403.9 415.3 L404.5 413.6 L405.1 403.9 L405.7 400.4 L406.3 399.2 L406.9 403.5 L407.5 402.5 L408.1 403.2 L408.7 406.4 L409.3 403.3 L409.9 405.6 L410.5 407.1 L411.1 406 L411.7 404.7 L412.2 400.8 L412.8 401.2 L413.4 396.9 L414 396 L414.6 394.7 L415.2 389.1 L415.8 381.3 L416.4 381.8 L417 383.5 L417.6 385.4 L418.2 386 L418.8 380.7 L419.4 377.7 L420 382 L420.6 376.6 L421.2 379.8 L421.7 376.8 L422.3 377.5 L422.9 377 L423.5 376.3 L424.1 375.5 L424.7 369.6 L425.3 369.7 L425.9 368.4 L426.5 367.9 L427.1 369.5 L427.7 365.6 L428.3 362 L428.9 359.6 L429.5 359.1 L430.1 361 L430.7 357 L431.2 359.9 L431.8 358.2 L432.4 355.7 L433 350.6 L433.6 353.4 L434.2 357.6 L434.8 354.6 L435.4 361.3 L436 366.2 L436.6 366.9 L437.2 369 L437.8 374.1 L438.4 376.5 L439 374.4 L439.6 375.9 L440.2 377.2 L440.7 378.8 L441.3 375.5 L441.9 381.8 L442.5 380.3 L443.1 382.3 L443.7 382.2 L444.3 385.7 L444.9 383.2 L445.5 380.3 L446.1 383.5 L446.7 386.5 L447.3 382.4 L447.9 385.1 L448.5 382.7 L449.1 378.9 L449.7 383.1 L450.3 377.9 L450.8 381.9 L451.4 379.8 L452 382 L452.6 378.7 L453.2 378.7 L453.8 384.7 L454.4 385.3 L455 385.7 L455.6 384.3 L456.2 386.6 L456.8 382 L457.4 381 L458 383.8 L458.6 383.2 L459.2 383.5 L459.8 385.8 L460.3 386.7 L460.9 387 L461.5 393.5 L462.1 394.4 L462.7 395.6 L463.3 392.2 L463.9 389.2 L464.5 384.9 L465.1 386.7 L465.7 383.1 L466.3 385.2 L466.9 391.1 L467.5 396.6 L468.1 397.2 L468.7 391.9 L469.3 394 L469.8 391.2 L470.4 395.5 L471 395.7 L471.6 399.1 L472.2 404 L472.8 405.2 L473.4 406.6 L474 406 L474.6 405.3 L475.2 410.1 L475.8 414.1 L476.4 412.7 L477 414.5 L477.6 415.8 L478.2 420.8 L478.8 427.6 L479.3 425.5 L479.9 419.7 L480.5 413.1 L481.1 410.7 L481.7 409.9 L482.3 407.7 L482.9 404.4 L483.5 398.3 L484.1 401.2 L484.7 398.7 L485.3 396.7 L485.9 397.9 L486.5 389.6 L487.1 391.6 L487.7 391.8 L488.3 393.6 L488.8 398 L489.4 397.3 L490 389.7 L490.6 391.3 L491.2 393.9 L491.8 395.1 L492.4 391.3 L493 388.8 L493.6 394.8 L494.2 397.1 L494.8 397.2 L495.4 392.2 L496 401.2 L496.6 390.7 L497.2 391.8 L497.8 398.3 L498.3 394.6 L498.9 393.2 L499.5 387.7 L500.1 389.5 L500.7 383.2 L501.3 382.4 L501.9 380.5 L502.5 376.4 L503.1 379.8 L503.7 374.2 L504.3 373.4 L504.9 374.2 L505.5 375.7 L506.1 379.6 L506.7 383.4 L507.3 383.1 L507.8 383 L508.4 381.4 L509 379 L509.6 379 L510.2 375.4 L510.8 373.7 L511.4 371.4 L512 367.8 L512.6 370.1 L513.2 365.4 L513.8 365.5 L514.4 368.8 L515 362.7 L515.6 362.1 L516.2 357.1 L516.8 357 L517.4 353.7 L517.9 354.9 L518.5 354.2 L519.1 356.8 L519.7 363.6 L520.3 365.8 L520.9 369.3 L521.5 371.2 L522.1 372.9 L522.7 370.5 L523.3 366.3 L523.9 370.7 L524.5 378 L525.1 377.6 L525.7 374.2 L526.3 380 L526.9 375.9 L527.4 373.5 L528 370.6 L528.6 370.2 L529.2 372.5 L529.8 381.1 L530.4 377.8 L531 373.7 L531.6 373.3 L532.2 374.5 L532.8 370.2 L533.4 374.5 L534 378.4 L534.6 378.9 L535.2 380.2 L535.8 374.4 L536.4 370.5 L536.9 378.9 L537.5 382 L538.1 375.5 L538.7 379 L539.3 380.8 L539.9 383.6 L540.5 384.8 L541.1 384.2 L541.7 386.5 L542.3 387.9 L542.9 388.3 L543.5 383.6 L544.1 383.1 L544.7 384.3 L545.3 386.3 L545.9 391.7 L546.4 396.7 L547 399.2 L547.6 396 L548.2 395.1 L548.8 396.7 L549.4 391.8 L550 393.4 L550.6 394.5 L551.2 393.2 L551.8 396.6 L552.4 390.7 L553 393.6 L553.6 388.4 L554.2 386.9 L554.8 385.9 L555.4 390.3 L555.9 388.2 L556.5 390.6 L557.1 388.2 L557.7 394.1 L558.3 399.1 L558.9 399.2 L559.5 403.7 L560.1 404.8 L560.7 408.4 L561.3 409.6 L561.9 410.1 L562.5 417.8 L563.1 421.1 L563.7 422.8 L564.3 426.3 L564.9 425.2 L565.4 426.9 L566 420.8 L566.6 418.7 L567.2 415.9 L567.8 409.4 L568.4 406.2 L569 407 L569.6 403.7 L570.2 405.9 L570.8 407.7 L571.4 406 L572 405.9 L572.6 409.1 L573.2 413.5 L573.8 415.5 L574.4 411.5 L574.9 412.4 L575.5 407.4 L576.1 408.9 L576.7 404.9 L577.3 408.7 L577.9 403.7 L578.5 402.4 L579.1 404.9 L579.7 405.5 L580.3 399.9 L580.9 398.6 L581.5 398.7 L582.1 397.9 L582.7 393.9 L583.3 393.2 L583.9 390.9 L584.4 392.7 L585 390.4 L585.6 384 L586.2 378.6 L586.8 379.5 L587.4 381.6 L588 379.6 L588.6 382.1 L589.2 380 L589.8 377.2 L590.4 382.4 L591 383.5 L591.6 383.6 L592.2 377.6 L592.8 378.1 L593.4 375.6 L594 377.3 L594.5 373.3 L595.1 370.4 L595.7 368.1 L596.3 370.2 L596.9 367.3 L597.5 363.4 L598.1 360.4 L598.7 358.3 L599.3 363.4 L599.9 356 L600.5 355 L601.1 359.1 L601.7 362.6 L602.3 359.7 L602.9 361.1 L603.5 362.3 L604 364.6 L604.6 364.2 L605.2 368.9 L605.8 368.4 L606.4 372.3 L607 367.3 L607.6 371.3 L608.2 367.5 L608.8 365.8 L609.4 371.1 L610 370.2 L610.6 373.6 L611.2 370.8 L611.8 378.1 L612.4 376.7 L613 372.8 L613.5 375.3 L614.1 379 L614.7 375.7 L615.3 378.5 L615.9 384.8 L616.5 384.1 L617.1 381.2 L617.7 378.3 L618.3 380.8 L618.9 375.5 L619.5 372.4 L620.1 373.7 L620.7 375.6 L621.3 384.7 L621.9 384.9 L622.5 382.5 L623 381.5 L623.6 386.2 L624.2 385 L624.8 385.5 L625.4 387.7 L626 389.6 L626.6 390.9 L627.2 391.7 L627.8 395 L628.4 397.1 L629 388 L629.6 396.3 L630.2 392.7 L630.8 394.2 L631.4 388.4 L632 389.1 L632.5 388.9 L633.1 388.3 L633.7 390.2 L634.3 390.2 L634.9 384.7 L635.5 385.5 L636.1 388.8 L636.7 390.3 L637.3 387.9 L637.9 387.1 L638.5 387.3 L639.1 384.3 L639.7 382.2 L640.3 389.9 L640.9 387 L641.5 387 L642 384.5 L642.6 390.6 L643.2 395.2 L643.8 393.4 L644.4 396.4 L645 397.7 L645.6 404.8 L646.2 408.5 L646.8 408.9 L647.4 414.8 L648 417.8 L648.6 421.1 L649.2 424.2 L649.8 425.5 L650.4 428.2" fill="none" stroke="#111" stroke-width="0.7"/>
<g fill="#fff" stroke="#000" stroke-width="0.85"><circle cx="72" cy="321.4" r="2"/><circle cx="72.6" cy="324.6" r="2"/><circle cx="73.2" cy="322.7" r="2"/><circle cx="73.8" cy="321.7" r="2"/><circle cx="74.4" cy="323.7" r="2"/><circle cx="75" cy="321.5" r="2"/><circle cx="75.6" cy="325.8" r="2"/><circle cx="76.2" cy="328.4" r="2"/><circle cx="76.8" cy="339.2" r="2"/><circle cx="77.3" cy="341.8" r="2"/><circle cx="77.9" cy="344.3" r="2"/><circle cx="78.5" cy="341.8" r="2"/><circle cx="79.1" cy="338.4" r="2"/><circle cx="79.7" cy="334.4" r="2"/><circle cx="80.3" cy="333.8" r="2"/><circle cx="80.9" cy="337.5" r="2"/><circle cx="81.5" cy="337" r="2"/><circle cx="82.1" cy="340.6" r="2"/><circle cx="82.7" cy="340.9" r="2"/><circle cx="83.3" cy="342.9" r="2"/><circle cx="83.9" cy="348.4" r="2"/><circle cx="84.5" cy="349.7" r="2"/><circle cx="85.1" cy="340.3" r="2"/><circle cx="85.7" cy="332.9" r="2"/><circle cx="86.3" cy="328.3" r="2"/><circle cx="86.8" cy="327.9" r="2"/><circle cx="87.4" cy="321.7" r="2"/><circle cx="88" cy="317.1" r="2"/><circle cx="88.6" cy="318.2" r="2"/><circle cx="89.2" cy="313.1" r="2"/><circle cx="89.8" cy="311.5" r="2"/><circle cx="90.4" cy="313.1" r="2"/><circle cx="91" cy="312.5" r="2"/><circle cx="91.6" cy="310.9" r="2"/><circle cx="92.2" cy="311.5" r="2"/><circle cx="92.8" cy="301.3" r="2"/><circle cx="93.4" cy="307.4" r="2"/><circle cx="94" cy="304" r="2"/><circle cx="94.6" cy="300" r="2"/><circle cx="95.2" cy="303.8" r="2"/><circle cx="95.8" cy="307" r="2"/><circle cx="96.3" cy="304.6" r="2"/><circle cx="96.9" cy="301.3" r="2"/><circle cx="97.5" cy="303.3" r="2"/><circle cx="98.1" cy="303.8" r="2"/><circle cx="98.7" cy="308.7" r="2"/><circle cx="99.3" cy="308.6" r="2"/><circle cx="99.9" cy="306.6" r="2"/><circle cx="100.5" cy="308.6" r="2"/><circle cx="101.1" cy="305.1" r="2"/><circle cx="101.7" cy="301" r="2"/><circle cx="102.3" cy="303.9" r="2"/><circle cx="102.9" cy="305.1" r="2"/><circle cx="103.5" cy="302.9" r="2"/><circle cx="104.1" cy="299.9" r="2"/><circle cx="104.7" cy="301.8" r="2"/><circle cx="105.3" cy="294.1" r="2"/><circle cx="105.8" cy="300.5" r="2"/><circle cx="106.4" cy="303.1" r="2"/><circle cx="107" cy="297" r="2"/><circle cx="107.6" cy="300.1" r="2"/><circle cx="108.2" cy="298.1" r="2"/><circle cx="108.8" cy="303.1" r="2"/><circle cx="109.4" cy="295.8" r="2"/><circle cx="110" cy="296.5" r="2"/><circle cx="110.6" cy="302.4" r="2"/><circle cx="111.2" cy="306.6" r="2"/><circle cx="111.8" cy="297.7" r="2"/><circle cx="112.4" cy="299.3" r="2"/><circle cx="113" cy="302.9" r="2"/><circle cx="113.6" cy="301.5" r="2"/><circle cx="114.2" cy="308.1" r="2"/><circle cx="114.8" cy="302.9" r="2"/><circle cx="115.3" cy="305.6" r="2"/><circle cx="115.9" cy="302.9" r="2"/><circle cx="116.5" cy="309.4" r="2"/><circle cx="117.1" cy="308.3" r="2"/><circle cx="117.7" cy="306.6" r="2"/><circle cx="118.3" cy="301.5" r="2"/><circle cx="118.9" cy="310.5" r="2"/><circle cx="119.5" cy="311.7" r="2"/><circle cx="120.1" cy="311.9" r="2"/><circle cx="120.7" cy="312" r="2"/><circle cx="121.3" cy="309.5" r="2"/><circle cx="121.9" cy="305.1" r="2"/><circle cx="122.5" cy="302.2" r="2"/><circle cx="123.1" cy="300.5" r="2"/><circle cx="123.7" cy="305.2" r="2"/><circle cx="124.3" cy="298.9" r="2"/><circle cx="124.8" cy="297.9" r="2"/><circle cx="125.4" cy="297.6" r="2"/><circle cx="126" cy="298.6" r="2"/><circle cx="126.6" cy="301.6" r="2"/><circle cx="127.2" cy="298.7" r="2"/><circle cx="127.8" cy="296.8" r="2"/><circle cx="128.4" cy="301.2" r="2"/><circle cx="129" cy="307" r="2"/><circle cx="129.6" cy="309.4" r="2"/><circle cx="130.2" cy="310.3" r="2"/><circle cx="130.8" cy="310.4" r="2"/><circle cx="131.4" cy="312.8" r="2"/><circle cx="132" cy="313.7" r="2"/><circle cx="132.6" cy="318.8" r="2"/><circle cx="133.2" cy="320.1" r="2"/><circle cx="133.8" cy="324.4" r="2"/><circle cx="134.3" cy="330.7" r="2"/><circle cx="134.9" cy="339.7" r="2"/><circle cx="135.5" cy="348" r="2"/><circle cx="136.1" cy="358.2" r="2"/><circle cx="136.7" cy="363" r="2"/><circle cx="137.3" cy="367.1" r="2"/><circle cx="137.9" cy="365.9" r="2"/><circle cx="138.5" cy="368.9" r="2"/><circle cx="139.1" cy="371.2" r="2"/><circle cx="139.7" cy="376.1" r="2"/><circle cx="140.3" cy="374.1" r="2"/><circle cx="140.9" cy="381.8" r="2"/><circle cx="141.5" cy="386.1" r="2"/><circle cx="142.1" cy="382.9" r="2"/><circle cx="142.7" cy="383.1" r="2"/><circle cx="143.3" cy="384.5" r="2"/><circle cx="143.8" cy="388.2" r="2"/><circle cx="144.4" cy="392.5" r="2"/><circle cx="145" cy="398.8" r="2"/><circle cx="145.6" cy="397.8" r="2"/><circle cx="146.2" cy="400.7" r="2"/><circle cx="146.8" cy="401.7" r="2"/><circle cx="147.4" cy="407.3" r="2"/><circle cx="148" cy="410" r="2"/><circle cx="148.6" cy="414.3" r="2"/><circle cx="149.2" cy="413.4" r="2"/><circle cx="149.8" cy="411.4" r="2"/><circle cx="150.4" cy="405.5" r="2"/><circle cx="151" cy="404.7" r="2"/><circle cx="151.6" cy="401.2" r="2"/><circle cx="152.2" cy="397.5" r="2"/><circle cx="152.8" cy="399.3" r="2"/><circle cx="153.4" cy="403.9" r="2"/><circle cx="153.9" cy="403.5" r="2"/><circle cx="154.5" cy="402.6" r="2"/><circle cx="155.1" cy="406.3" r="2"/><circle cx="155.7" cy="408.5" r="2"/><circle cx="156.3" cy="402.8" r="2"/><circle cx="156.9" cy="398" r="2"/><circle cx="157.5" cy="393.7" r="2"/><circle cx="158.1" cy="390.7" r="2"/><circle cx="158.7" cy="393.8" r="2"/><circle cx="159.3" cy="394.9" r="2"/><circle cx="159.9" cy="392.1" r="2"/><circle cx="160.5" cy="390.7" r="2"/><circle cx="161.1" cy="388.3" r="2"/><circle cx="161.7" cy="384.5" r="2"/><circle cx="162.3" cy="377.9" r="2"/><circle cx="162.9" cy="374.8" r="2"/><circle cx="163.4" cy="373.4" r="2"/><circle cx="164" cy="369.8" r="2"/><circle cx="164.6" cy="367.6" r="2"/><circle cx="165.2" cy="364.3" r="2"/><circle cx="165.8" cy="361.5" r="2"/><circle cx="166.4" cy="360.3" r="2"/><circle cx="167" cy="355.6" r="2"/><circle cx="167.6" cy="353.1" r="2"/><circle cx="168.2" cy="352.7" r="2"/><circle cx="168.8" cy="351.8" r="2"/><circle cx="169.4" cy="354.8" r="2"/><circle cx="170" cy="350.9" r="2"/><circle cx="170.6" cy="356.3" r="2"/><circle cx="171.2" cy="349.7" r="2"/><circle cx="171.8" cy="345.1" r="2"/><circle cx="172.4" cy="341.8" r="2"/><circle cx="172.9" cy="338.5" r="2"/><circle cx="173.5" cy="334" r="2"/><circle cx="174.1" cy="326" r="2"/><circle cx="174.7" cy="320.9" r="2"/><circle cx="175.3" cy="313.9" r="2"/><circle cx="175.9" cy="309.3" r="2"/><circle cx="176.5" cy="306.8" r="2"/><circle cx="177.1" cy="301.5" r="2"/><circle cx="177.7" cy="307.1" r="2"/><circle cx="178.3" cy="306" r="2"/><circle cx="178.9" cy="306.2" r="2"/><circle cx="179.5" cy="302.6" r="2"/><circle cx="180.1" cy="298.6" r="2"/><circle cx="180.7" cy="298.3" r="2"/><circle cx="181.3" cy="299.7" r="2"/><circle cx="181.9" cy="296" r="2"/><circle cx="182.4" cy="297.1" r="2"/><circle cx="183" cy="296.1" r="2"/><circle cx="183.6" cy="300.6" r="2"/><circle cx="184.2" cy="295.2" r="2"/><circle cx="184.8" cy="298.4" r="2"/><circle cx="185.4" cy="294.1" r="2"/><circle cx="186" cy="291" r="2"/><circle cx="186.6" cy="290.4" r="2"/><circle cx="187.2" cy="288.4" r="2"/><circle cx="187.8" cy="292" r="2"/><circle cx="188.4" cy="296.8" r="2"/><circle cx="189" cy="296.8" r="2"/><circle cx="189.6" cy="298.6" r="2"/><circle cx="190.2" cy="302.7" r="2"/><circle cx="190.8" cy="300.9" r="2"/><circle cx="191.4" cy="300.9" r="2"/><circle cx="191.9" cy="301.3" r="2"/><circle cx="192.5" cy="299.5" r="2"/><circle cx="193.1" cy="305.2" r="2"/><circle cx="193.7" cy="303.1" r="2"/><circle cx="194.3" cy="308.7" r="2"/><circle cx="194.9" cy="309.1" r="2"/><circle cx="195.5" cy="311" r="2"/><circle cx="196.1" cy="308" r="2"/><circle cx="196.7" cy="303.8" r="2"/><circle cx="197.3" cy="305.4" r="2"/><circle cx="197.9" cy="303.9" r="2"/><circle cx="198.5" cy="304.7" r="2"/><circle cx="199.1" cy="305.9" r="2"/><circle cx="199.7" cy="306.1" r="2"/><circle cx="200.3" cy="306.4" r="2"/><circle cx="200.9" cy="305" r="2"/><circle cx="201.4" cy="306.6" r="2"/><circle cx="202" cy="302.1" r="2"/><circle cx="202.6" cy="305.9" r="2"/><circle cx="203.2" cy="304.9" r="2"/><circle cx="203.8" cy="311.8" r="2"/><circle cx="204.4" cy="315.7" r="2"/><circle cx="205" cy="308" r="2"/><circle cx="205.6" cy="311.3" r="2"/><circle cx="206.2" cy="312.3" r="2"/><circle cx="206.8" cy="310.7" r="2"/><circle cx="207.4" cy="315" r="2"/><circle cx="208" cy="314.5" r="2"/><circle cx="208.6" cy="311" r="2"/><circle cx="209.2" cy="313.7" r="2"/><circle cx="209.8" cy="315.4" r="2"/><circle cx="210.4" cy="314.8" r="2"/><circle cx="210.9" cy="310.3" r="2"/><circle cx="211.5" cy="311.5" r="2"/><circle cx="212.1" cy="312" r="2"/><circle cx="212.7" cy="306.9" r="2"/><circle cx="213.3" cy="305.8" r="2"/><circle cx="213.9" cy="306.8" r="2"/><circle cx="214.5" cy="305.8" r="2"/><circle cx="215.1" cy="313.4" r="2"/><circle cx="215.7" cy="314.6" r="2"/><circle cx="216.3" cy="313.8" r="2"/><circle cx="216.9" cy="315.4" r="2"/><circle cx="217.5" cy="320.4" r="2"/><circle cx="218.1" cy="329" r="2"/><circle cx="218.7" cy="330.9" r="2"/><circle cx="219.3" cy="335.3" r="2"/><circle cx="219.9" cy="341.6" r="2"/><circle cx="220.4" cy="346.9" r="2"/><circle cx="221" cy="355.7" r="2"/><circle cx="221.6" cy="358.6" r="2"/><circle cx="222.2" cy="364.6" r="2"/><circle cx="222.8" cy="369.4" r="2"/><circle cx="223.4" cy="374.1" r="2"/><circle cx="224" cy="374.7" r="2"/><circle cx="224.6" cy="382.2" r="2"/><circle cx="225.2" cy="384.2" r="2"/><circle cx="225.8" cy="387.3" r="2"/><circle cx="226.4" cy="388.2" r="2"/><circle cx="227" cy="390.3" r="2"/><circle cx="227.6" cy="395.5" r="2"/><circle cx="228.2" cy="400.2" r="2"/><circle cx="228.8" cy="403.3" r="2"/><circle cx="229.4" cy="407.4" r="2"/><circle cx="230" cy="410.2" r="2"/><circle cx="230.5" cy="412.1" r="2"/><circle cx="231.1" cy="416.3" r="2"/><circle cx="231.7" cy="420.3" r="2"/><circle cx="232.3" cy="418.2" r="2"/><circle cx="232.9" cy="415.8" r="2"/><circle cx="233.5" cy="414.2" r="2"/><circle cx="234.1" cy="409.7" r="2"/><circle cx="234.7" cy="404.8" r="2"/><circle cx="235.3" cy="404.4" r="2"/><circle cx="235.9" cy="407.8" r="2"/><circle cx="236.5" cy="402.8" r="2"/><circle cx="237.1" cy="400.3" r="2"/><circle cx="237.7" cy="398.5" r="2"/><circle cx="238.3" cy="400.1" r="2"/><circle cx="238.9" cy="392.1" r="2"/><circle cx="239.5" cy="392.7" r="2"/><circle cx="240" cy="393.7" r="2"/><circle cx="240.6" cy="388.5" r="2"/><circle cx="241.2" cy="390.3" r="2"/><circle cx="241.8" cy="387.9" r="2"/><circle cx="242.4" cy="383.2" r="2"/><circle cx="243" cy="381.7" r="2"/><circle cx="243.6" cy="376.1" r="2"/><circle cx="244.2" cy="374.4" r="2"/><circle cx="244.8" cy="376.2" r="2"/><circle cx="245.4" cy="370" r="2"/><circle cx="246" cy="370.7" r="2"/><circle cx="246.6" cy="365.6" r="2"/><circle cx="247.2" cy="363.3" r="2"/><circle cx="247.8" cy="358.1" r="2"/><circle cx="248.4" cy="349.7" r="2"/><circle cx="249" cy="346.6" r="2"/><circle cx="249.5" cy="345.6" r="2"/><circle cx="250.1" cy="341" r="2"/><circle cx="250.7" cy="336.2" r="2"/><circle cx="251.3" cy="339.5" r="2"/><circle cx="251.9" cy="340.6" r="2"/><circle cx="252.5" cy="339.5" r="2"/><circle cx="253.1" cy="342.2" r="2"/><circle cx="253.7" cy="348" r="2"/><circle cx="254.3" cy="348" r="2"/><circle cx="254.9" cy="352.5" r="2"/><circle cx="255.5" cy="358.2" r="2"/><circle cx="256.1" cy="352.2" r="2"/><circle cx="256.7" cy="346.5" r="2"/><circle cx="257.3" cy="342.5" r="2"/><circle cx="257.9" cy="342.6" r="2"/><circle cx="258.5" cy="344.5" r="2"/><circle cx="259" cy="343.3" r="2"/><circle cx="259.6" cy="342.8" r="2"/><circle cx="260.2" cy="339.3" r="2"/><circle cx="260.8" cy="339.2" r="2"/><circle cx="261.4" cy="338.5" r="2"/><circle cx="262" cy="340.3" r="2"/><circle cx="262.6" cy="339.9" r="2"/><circle cx="263.2" cy="340.1" r="2"/><circle cx="263.8" cy="343.6" r="2"/><circle cx="264.4" cy="343.5" r="2"/><circle cx="265" cy="344.1" r="2"/><circle cx="265.6" cy="349.6" r="2"/><circle cx="266.2" cy="350.2" r="2"/><circle cx="266.8" cy="358.2" r="2"/><circle cx="267.4" cy="358.7" r="2"/><circle cx="268" cy="354.1" r="2"/><circle cx="268.5" cy="356.3" r="2"/><circle cx="269.1" cy="355.9" r="2"/><circle cx="269.7" cy="352.3" r="2"/><circle cx="270.3" cy="356.8" r="2"/><circle cx="270.9" cy="352.6" r="2"/><circle cx="271.5" cy="346.5" r="2"/><circle cx="272.1" cy="352.6" r="2"/><circle cx="272.7" cy="354.2" r="2"/><circle cx="273.3" cy="360.8" r="2"/><circle cx="273.9" cy="359.9" r="2"/><circle cx="274.5" cy="359.3" r="2"/><circle cx="275.1" cy="367.2" r="2"/><circle cx="275.7" cy="360.8" r="2"/><circle cx="276.3" cy="360.9" r="2"/><circle cx="276.9" cy="363.4" r="2"/><circle cx="277.5" cy="360.3" r="2"/><circle cx="278" cy="357.8" r="2"/><circle cx="278.6" cy="357.1" r="2"/><circle cx="279.2" cy="360.6" r="2"/><circle cx="279.8" cy="359.3" r="2"/><circle cx="280.4" cy="363.2" r="2"/><circle cx="281" cy="365.8" r="2"/><circle cx="281.6" cy="371.4" r="2"/><circle cx="282.2" cy="370.7" r="2"/><circle cx="282.8" cy="370.1" r="2"/><circle cx="283.4" cy="374.7" r="2"/><circle cx="284" cy="375.5" r="2"/><circle cx="284.6" cy="378.1" r="2"/><circle cx="285.2" cy="379.7" r="2"/><circle cx="285.8" cy="383.9" r="2"/><circle cx="286.4" cy="382.1" r="2"/><circle cx="287" cy="383.5" r="2"/><circle cx="287.5" cy="376.8" r="2"/><circle cx="288.1" cy="377.7" r="2"/><circle cx="288.7" cy="386.7" r="2"/><circle cx="289.3" cy="383.6" r="2"/><circle cx="289.9" cy="382.3" r="2"/><circle cx="290.5" cy="380.1" r="2"/><circle cx="291.1" cy="385.2" r="2"/><circle cx="291.7" cy="386.3" r="2"/><circle cx="292.3" cy="382.1" r="2"/><circle cx="292.9" cy="386.5" r="2"/><circle cx="293.5" cy="387.2" r="2"/><circle cx="294.1" cy="389.1" r="2"/><circle cx="294.7" cy="385.2" r="2"/><circle cx="295.3" cy="391.7" r="2"/><circle cx="295.9" cy="390" r="2"/><circle cx="296.5" cy="387.4" r="2"/><circle cx="297.1" cy="384.9" r="2"/><circle cx="297.6" cy="384.8" r="2"/><circle cx="298.2" cy="388.6" r="2"/><circle cx="298.8" cy="386.6" r="2"/><circle cx="299.4" cy="390.3" r="2"/><circle cx="300" cy="390.4" r="2"/><circle cx="300.6" cy="392.5" r="2"/><circle cx="301.2" cy="391.8" r="2"/><circle cx="301.8" cy="391.9" r="2"/><circle cx="302.4" cy="389.7" r="2"/><circle cx="303" cy="394.7" r="2"/><circle cx="303.6" cy="399.4" r="2"/><circle cx="304.2" cy="401.8" r="2"/><circle cx="304.8" cy="405.3" r="2"/><circle cx="305.4" cy="406.6" r="2"/><circle cx="306" cy="408.7" r="2"/><circle cx="306.6" cy="405.9" r="2"/><circle cx="307.1" cy="412.2" r="2"/><circle cx="307.7" cy="410.9" r="2"/><circle cx="308.3" cy="408" r="2"/><circle cx="308.9" cy="403.9" r="2"/><circle cx="309.5" cy="405.6" r="2"/><circle cx="310.1" cy="411.7" r="2"/><circle cx="310.7" cy="411.3" r="2"/><circle cx="311.3" cy="407" r="2"/><circle cx="311.9" cy="412.5" r="2"/><circle cx="312.5" cy="415" r="2"/><circle cx="313.1" cy="414.6" r="2"/><circle cx="313.7" cy="413.7" r="2"/><circle cx="314.3" cy="414.6" r="2"/><circle cx="314.9" cy="412.4" r="2"/><circle cx="315.5" cy="410.9" r="2"/><circle cx="316.1" cy="405.5" r="2"/><circle cx="316.6" cy="408.5" r="2"/><circle cx="317.2" cy="405.9" r="2"/><circle cx="317.8" cy="408.5" r="2"/><circle cx="318.4" cy="398.6" r="2"/><circle cx="319" cy="400.7" r="2"/><circle cx="319.6" cy="401.8" r="2"/><circle cx="320.2" cy="398.3" r="2"/><circle cx="320.8" cy="398.9" r="2"/><circle cx="321.4" cy="399.9" r="2"/><circle cx="322" cy="399.5" r="2"/><circle cx="322.6" cy="395.6" r="2"/><circle cx="323.2" cy="394.8" r="2"/><circle cx="323.8" cy="397.8" r="2"/><circle cx="324.4" cy="399.6" r="2"/><circle cx="325" cy="396.5" r="2"/><circle cx="325.6" cy="394.8" r="2"/><circle cx="326.1" cy="394" r="2"/><circle cx="326.7" cy="395.7" r="2"/><circle cx="327.3" cy="389.9" r="2"/><circle cx="327.9" cy="386" r="2"/><circle cx="328.5" cy="388.2" r="2"/><circle cx="329.1" cy="385.1" r="2"/><circle cx="329.7" cy="385" r="2"/><circle cx="330.3" cy="385.9" r="2"/><circle cx="330.9" cy="386" r="2"/><circle cx="331.5" cy="381.3" r="2"/><circle cx="332.1" cy="382.6" r="2"/><circle cx="332.7" cy="376.1" r="2"/><circle cx="333.3" cy="377.8" r="2"/><circle cx="333.9" cy="372.4" r="2"/><circle cx="334.5" cy="369.8" r="2"/><circle cx="335.1" cy="372.2" r="2"/><circle cx="335.6" cy="369.8" r="2"/><circle cx="336.2" cy="366.8" r="2"/><circle cx="336.8" cy="365.3" r="2"/><circle cx="337.4" cy="365.8" r="2"/><circle cx="338" cy="363.9" r="2"/><circle cx="338.6" cy="362.7" r="2"/><circle cx="339.2" cy="364.4" r="2"/><circle cx="339.8" cy="359.7" r="2"/><circle cx="340.4" cy="357.6" r="2"/><circle cx="341" cy="355.9" r="2"/><circle cx="341.6" cy="359" r="2"/><circle cx="342.2" cy="359.6" r="2"/><circle cx="342.8" cy="360.6" r="2"/><circle cx="343.4" cy="356.7" r="2"/><circle cx="344" cy="354.2" r="2"/><circle cx="344.6" cy="355.6" r="2"/><circle cx="345.1" cy="352.2" r="2"/><circle cx="345.7" cy="354.2" r="2"/><circle cx="346.3" cy="354.9" r="2"/><circle cx="346.9" cy="352.6" r="2"/><circle cx="347.5" cy="354.1" r="2"/><circle cx="348.1" cy="355.4" r="2"/><circle cx="348.7" cy="361.3" r="2"/><circle cx="349.3" cy="364.4" r="2"/><circle cx="349.9" cy="365.1" r="2"/><circle cx="350.5" cy="366.3" r="2"/><circle cx="351.1" cy="363.7" r="2"/><circle cx="351.7" cy="369" r="2"/><circle cx="352.3" cy="371.4" r="2"/><circle cx="352.9" cy="368.9" r="2"/><circle cx="353.5" cy="373.9" r="2"/><circle cx="354.1" cy="369.1" r="2"/><circle cx="354.6" cy="371.4" r="2"/><circle cx="355.2" cy="373.8" r="2"/><circle cx="355.8" cy="370.8" r="2"/><circle cx="356.4" cy="376.3" r="2"/><circle cx="357" cy="379.7" r="2"/><circle cx="357.6" cy="373.6" r="2"/><circle cx="358.2" cy="370.9" r="2"/><circle cx="358.8" cy="376.4" r="2"/><circle cx="359.4" cy="377" r="2"/><circle cx="360" cy="373.6" r="2"/><circle cx="360.6" cy="375.3" r="2"/><circle cx="361.2" cy="376.8" r="2"/><circle cx="361.8" cy="377.6" r="2"/><circle cx="362.4" cy="381.2" r="2"/><circle cx="363" cy="381.6" r="2"/><circle cx="363.6" cy="386.4" r="2"/><circle cx="364.1" cy="387.5" r="2"/><circle cx="364.7" cy="385.9" r="2"/><circle cx="365.3" cy="386.7" r="2"/><circle cx="365.9" cy="388" r="2"/><circle cx="366.5" cy="386.7" r="2"/><circle cx="367.1" cy="380" r="2"/><circle cx="367.7" cy="384" r="2"/><circle cx="368.3" cy="383.3" r="2"/><circle cx="368.9" cy="388.2" r="2"/><circle cx="369.5" cy="385.6" r="2"/><circle cx="370.1" cy="386.1" r="2"/><circle cx="370.7" cy="385.8" r="2"/><circle cx="371.3" cy="390.2" r="2"/><circle cx="371.9" cy="387.5" r="2"/><circle cx="372.5" cy="384.9" r="2"/><circle cx="373.1" cy="385.8" r="2"/><circle cx="373.7" cy="384" r="2"/><circle cx="374.2" cy="385.3" r="2"/><circle cx="374.8" cy="385.5" r="2"/><circle cx="375.4" cy="386.6" r="2"/><circle cx="376" cy="393" r="2"/><circle cx="376.6" cy="387.7" r="2"/><circle cx="377.2" cy="386.7" r="2"/><circle cx="377.8" cy="385.4" r="2"/><circle cx="378.4" cy="387.8" r="2"/><circle cx="379" cy="382.5" r="2"/><circle cx="379.6" cy="381.7" r="2"/><circle cx="380.2" cy="383.5" r="2"/><circle cx="380.8" cy="386.2" r="2"/><circle cx="381.4" cy="385.4" r="2"/><circle cx="382" cy="383.5" r="2"/><circle cx="382.6" cy="382.3" r="2"/><circle cx="383.2" cy="386.2" r="2"/><circle cx="383.7" cy="391.2" r="2"/><circle cx="384.3" cy="390.3" r="2"/><circle cx="384.9" cy="389.8" r="2"/><circle cx="385.5" cy="390.7" r="2"/><circle cx="386.1" cy="387.5" r="2"/><circle cx="386.7" cy="388.9" r="2"/><circle cx="387.3" cy="390.2" r="2"/><circle cx="387.9" cy="393" r="2"/><circle cx="388.5" cy="394" r="2"/><circle cx="389.1" cy="392.7" r="2"/><circle cx="389.7" cy="399.6" r="2"/><circle cx="390.3" cy="405.3" r="2"/><circle cx="390.9" cy="405.6" r="2"/><circle cx="391.5" cy="408.6" r="2"/><circle cx="392.1" cy="411.5" r="2"/><circle cx="392.7" cy="416.9" r="2"/><circle cx="393.2" cy="418.4" r="2"/><circle cx="393.8" cy="427.6" r="2"/><circle cx="394.4" cy="423.1" r="2"/><circle cx="395" cy="421" r="2"/><circle cx="395.6" cy="415.8" r="2"/><circle cx="396.2" cy="410.5" r="2"/><circle cx="396.8" cy="406.8" r="2"/><circle cx="397.4" cy="405.1" r="2"/><circle cx="398" cy="398.7" r="2"/><circle cx="398.6" cy="399" r="2"/><circle cx="399.2" cy="399.4" r="2"/><circle cx="399.8" cy="396.4" r="2"/><circle cx="400.4" cy="404.3" r="2"/><circle cx="401" cy="406" r="2"/><circle cx="401.6" cy="406" r="2"/><circle cx="402.2" cy="409.8" r="2"/><circle cx="402.7" cy="406.5" r="2"/><circle cx="403.3" cy="408" r="2"/><circle cx="403.9" cy="415.3" r="2"/><circle cx="404.5" cy="413.6" r="2"/><circle cx="405.1" cy="403.9" r="2"/><circle cx="405.7" cy="400.4" r="2"/><circle cx="406.3" cy="399.2" r="2"/><circle cx="406.9" cy="403.5" r="2"/><circle cx="407.5" cy="402.5" r="2"/><circle cx="408.1" cy="403.2" r="2"/><circle cx="408.7" cy="406.4" r="2"/><circle cx="409.3" cy="403.3" r="2"/><circle cx="409.9" cy="405.6" r="2"/><circle cx="410.5" cy="407.1" r="2"/><circle cx="411.1" cy="406" r="2"/><circle cx="411.7" cy="404.7" r="2"/><circle cx="412.2" cy="400.8" r="2"/><circle cx="412.8" cy="401.2" r="2"/><circle cx="413.4" cy="396.9" r="2"/><circle cx="414" cy="396" r="2"/><circle cx="414.6" cy="394.7" r="2"/><circle cx="415.2" cy="389.1" r="2"/><circle cx="415.8" cy="381.3" r="2"/><circle cx="416.4" cy="381.8" r="2"/><circle cx="417" cy="383.5" r="2"/><circle cx="417.6" cy="385.4" r="2"/><circle cx="418.2" cy="386" r="2"/><circle cx="418.8" cy="380.7" r="2"/><circle cx="419.4" cy="377.7" r="2"/><circle cx="420" cy="382" r="2"/><circle cx="420.6" cy="376.6" r="2"/><circle cx="421.2" cy="379.8" r="2"/><circle cx="421.7" cy="376.8" r="2"/><circle cx="422.3" cy="377.5" r="2"/><circle cx="422.9" cy="377" r="2"/><circle cx="423.5" cy="376.3" r="2"/><circle cx="424.1" cy="375.5" r="2"/><circle cx="424.7" cy="369.6" r="2"/><circle cx="425.3" cy="369.7" r="2"/><circle cx="425.9" cy="368.4" r="2"/><circle cx="426.5" cy="367.9" r="2"/><circle cx="427.1" cy="369.5" r="2"/><circle cx="427.7" cy="365.6" r="2"/><circle cx="428.3" cy="362" r="2"/><circle cx="428.9" cy="359.6" r="2"/><circle cx="429.5" cy="359.1" r="2"/><circle cx="430.1" cy="361" r="2"/><circle cx="430.7" cy="357" r="2"/><circle cx="431.2" cy="359.9" r="2"/><circle cx="431.8" cy="358.2" r="2"/><circle cx="432.4" cy="355.7" r="2"/><circle cx="433" cy="350.6" r="2"/><circle cx="433.6" cy="353.4" r="2"/><circle cx="434.2" cy="357.6" r="2"/><circle cx="434.8" cy="354.6" r="2"/><circle cx="435.4" cy="361.3" r="2"/><circle cx="436" cy="366.2" r="2"/><circle cx="436.6" cy="366.9" r="2"/><circle cx="437.2" cy="369" r="2"/><circle cx="437.8" cy="374.1" r="2"/><circle cx="438.4" cy="376.5" r="2"/><circle cx="439" cy="374.4" r="2"/><circle cx="439.6" cy="375.9" r="2"/><circle cx="440.2" cy="377.2" r="2"/><circle cx="440.7" cy="378.8" r="2"/><circle cx="441.3" cy="375.5" r="2"/><circle cx="441.9" cy="381.8" r="2"/><circle cx="442.5" cy="380.3" r="2"/><circle cx="443.1" cy="382.3" r="2"/><circle cx="443.7" cy="382.2" r="2"/><circle cx="444.3" cy="385.7" r="2"/><circle cx="444.9" cy="383.2" r="2"/><circle cx="445.5" cy="380.3" r="2"/><circle cx="446.1" cy="383.5" r="2"/><circle cx="446.7" cy="386.5" r="2"/><circle cx="447.3" cy="382.4" r="2"/><circle cx="447.9" cy="385.1" r="2"/><circle cx="448.5" cy="382.7" r="2"/><circle cx="449.1" cy="378.9" r="2"/><circle cx="449.7" cy="383.1" r="2"/><circle cx="450.3" cy="377.9" r="2"/><circle cx="450.8" cy="381.9" r="2"/><circle cx="451.4" cy="379.8" r="2"/><circle cx="452" cy="382" r="2"/><circle cx="452.6" cy="378.7" r="2"/><circle cx="453.2" cy="378.7" r="2"/><circle cx="453.8" cy="384.7" r="2"/><circle cx="454.4" cy="385.3" r="2"/><circle cx="455" cy="385.7" r="2"/><circle cx="455.6" cy="384.3" r="2"/><circle cx="456.2" cy="386.6" r="2"/><circle cx="456.8" cy="382" r="2"/><circle cx="457.4" cy="381" r="2"/><circle cx="458" cy="383.8" r="2"/><circle cx="458.6" cy="383.2" r="2"/><circle cx="459.2" cy="383.5" r="2"/><circle cx="459.8" cy="385.8" r="2"/><circle cx="460.3" cy="386.7" r="2"/><circle cx="460.9" cy="387" r="2"/><circle cx="461.5" cy="393.5" r="2"/><circle cx="462.1" cy="394.4" r="2"/><circle cx="462.7" cy="395.6" r="2"/><circle cx="463.3" cy="392.2" r="2"/><circle cx="463.9" cy="389.2" r="2"/><circle cx="464.5" cy="384.9" r="2"/><circle cx="465.1" cy="386.7" r="2"/><circle cx="465.7" cy="383.1" r="2"/><circle cx="466.3" cy="385.2" r="2"/><circle cx="466.9" cy="391.1" r="2"/><circle cx="467.5" cy="396.6" r="2"/><circle cx="468.1" cy="397.2" r="2"/><circle cx="468.7" cy="391.9" r="2"/><circle cx="469.3" cy="394" r="2"/><circle cx="469.8" cy="391.2" r="2"/><circle cx="470.4" cy="395.5" r="2"/><circle cx="471" cy="395.7" r="2"/><circle cx="471.6" cy="399.1" r="2"/><circle cx="472.2" cy="404" r="2"/><circle cx="472.8" cy="405.2" r="2"/><circle cx="473.4" cy="406.6" r="2"/><circle cx="474" cy="406" r="2"/><circle cx="474.6" cy="405.3" r="2"/><circle cx="475.2" cy="410.1" r="2"/><circle cx="475.8" cy="414.1" r="2"/><circle cx="476.4" cy="412.7" r="2"/><circle cx="477" cy="414.5" r="2"/><circle cx="477.6" cy="415.8" r="2"/><circle cx="478.2" cy="420.8" r="2"/><circle cx="478.8" cy="427.6" r="2"/><circle cx="479.3" cy="425.5" r="2"/><circle cx="479.9" cy="419.7" r="2"/><circle cx="480.5" cy="413.1" r="2"/><circle cx="481.1" cy="410.7" r="2"/><circle cx="481.7" cy="409.9" r="2"/><circle cx="482.3" cy="407.7" r="2"/><circle cx="482.9" cy="404.4" r="2"/><circle cx="483.5" cy="398.3" r="2"/><circle cx="484.1" cy="401.2" r="2"/><circle cx="484.7" cy="398.7" r="2"/><circle cx="485.3" cy="396.7" r="2"/><circle cx="485.9" cy="397.9" r="2"/><circle cx="486.5" cy="389.6" r="2"/><circle cx="487.1" cy="391.6" r="2"/><circle cx="487.7" cy="391.8" r="2"/><circle cx="488.3" cy="393.6" r="2"/><circle cx="488.8" cy="398" r="2"/><circle cx="489.4" cy="397.3" r="2"/><circle cx="490" cy="389.7" r="2"/><circle cx="490.6" cy="391.3" r="2"/><circle cx="491.2" cy="393.9" r="2"/><circle cx="491.8" cy="395.1" r="2"/><circle cx="492.4" cy="391.3" r="2"/><circle cx="493" cy="388.8" r="2"/><circle cx="493.6" cy="394.8" r="2"/><circle cx="494.2" cy="397.1" r="2"/><circle cx="494.8" cy="397.2" r="2"/><circle cx="495.4" cy="392.2" r="2"/><circle cx="496" cy="401.2" r="2"/><circle cx="496.6" cy="390.7" r="2"/><circle cx="497.2" cy="391.8" r="2"/><circle cx="497.8" cy="398.3" r="2"/><circle cx="498.3" cy="394.6" r="2"/><circle cx="498.9" cy="393.2" r="2"/><circle cx="499.5" cy="387.7" r="2"/><circle cx="500.1" cy="389.5" r="2"/><circle cx="500.7" cy="383.2" r="2"/><circle cx="501.3" cy="382.4" r="2"/><circle cx="501.9" cy="380.5" r="2"/><circle cx="502.5" cy="376.4" r="2"/><circle cx="503.1" cy="379.8" r="2"/><circle cx="503.7" cy="374.2" r="2"/><circle cx="504.3" cy="373.4" r="2"/><circle cx="504.9" cy="374.2" r="2"/><circle cx="505.5" cy="375.7" r="2"/><circle cx="506.1" cy="379.6" r="2"/><circle cx="506.7" cy="383.4" r="2"/><circle cx="507.3" cy="383.1" r="2"/><circle cx="507.8" cy="383" r="2"/><circle cx="508.4" cy="381.4" r="2"/><circle cx="509" cy="379" r="2"/><circle cx="509.6" cy="379" r="2"/><circle cx="510.2" cy="375.4" r="2"/><circle cx="510.8" cy="373.7" r="2"/><circle cx="511.4" cy="371.4" r="2"/><circle cx="512" cy="367.8" r="2"/><circle cx="512.6" cy="370.1" r="2"/><circle cx="513.2" cy="365.4" r="2"/><circle cx="513.8" cy="365.5" r="2"/><circle cx="514.4" cy="368.8" r="2"/><circle cx="515" cy="362.7" r="2"/><circle cx="515.6" cy="362.1" r="2"/><circle cx="516.2" cy="357.1" r="2"/><circle cx="516.8" cy="357" r="2"/><circle cx="517.4" cy="353.7" r="2"/><circle cx="517.9" cy="354.9" r="2"/><circle cx="518.5" cy="354.2" r="2"/><circle cx="519.1" cy="356.8" r="2"/><circle cx="519.7" cy="363.6" r="2"/><circle cx="520.3" cy="365.8" r="2"/><circle cx="520.9" cy="369.3" r="2"/><circle cx="521.5" cy="371.2" r="2"/><circle cx="522.1" cy="372.9" r="2"/><circle cx="522.7" cy="370.5" r="2"/><circle cx="523.3" cy="366.3" r="2"/><circle cx="523.9" cy="370.7" r="2"/><circle cx="524.5" cy="378" r="2"/><circle cx="525.1" cy="377.6" r="2"/><circle cx="525.7" cy="374.2" r="2"/><circle cx="526.3" cy="380" r="2"/><circle cx="526.9" cy="375.9" r="2"/><circle cx="527.4" cy="373.5" r="2"/><circle cx="528" cy="370.6" r="2"/><circle cx="528.6" cy="370.2" r="2"/><circle cx="529.2" cy="372.5" r="2"/><circle cx="529.8" cy="381.1" r="2"/><circle cx="530.4" cy="377.8" r="2"/><circle cx="531" cy="373.7" r="2"/><circle cx="531.6" cy="373.3" r="2"/><circle cx="532.2" cy="374.5" r="2"/><circle cx="532.8" cy="370.2" r="2"/><circle cx="533.4" cy="374.5" r="2"/><circle cx="534" cy="378.4" r="2"/><circle cx="534.6" cy="378.9" r="2"/><circle cx="535.2" cy="380.2" r="2"/><circle cx="535.8" cy="374.4" r="2"/><circle cx="536.4" cy="370.5" r="2"/><circle cx="536.9" cy="378.9" r="2"/><circle cx="537.5" cy="382" r="2"/><circle cx="538.1" cy="375.5" r="2"/><circle cx="538.7" cy="379" r="2"/><circle cx="539.3" cy="380.8" r="2"/><circle cx="539.9" cy="383.6" r="2"/><circle cx="540.5" cy="384.8" r="2"/><circle cx="541.1" cy="384.2" r="2"/><circle cx="541.7" cy="386.5" r="2"/><circle cx="542.3" cy="387.9" r="2"/><circle cx="542.9" cy="388.3" r="2"/><circle cx="543.5" cy="383.6" r="2"/><circle cx="544.1" cy="383.1" r="2"/><circle cx="544.7" cy="384.3" r="2"/><circle cx="545.3" cy="386.3" r="2"/><circle cx="545.9" cy="391.7" r="2"/><circle cx="546.4" cy="396.7" r="2"/><circle cx="547" cy="399.2" r="2"/><circle cx="547.6" cy="396" r="2"/><circle cx="548.2" cy="395.1" r="2"/><circle cx="548.8" cy="396.7" r="2"/><circle cx="549.4" cy="391.8" r="2"/><circle cx="550" cy="393.4" r="2"/><circle cx="550.6" cy="394.5" r="2"/><circle cx="551.2" cy="393.2" r="2"/><circle cx="551.8" cy="396.6" r="2"/><circle cx="552.4" cy="390.7" r="2"/><circle cx="553" cy="393.6" r="2"/><circle cx="553.6" cy="388.4" r="2"/><circle cx="554.2" cy="386.9" r="2"/><circle cx="554.8" cy="385.9" r="2"/><circle cx="555.4" cy="390.3" r="2"/><circle cx="555.9" cy="388.2" r="2"/><circle cx="556.5" cy="390.6" r="2"/><circle cx="557.1" cy="388.2" r="2"/><circle cx="557.7" cy="394.1" r="2"/><circle cx="558.3" cy="399.1" r="2"/><circle cx="558.9" cy="399.2" r="2"/><circle cx="559.5" cy="403.7" r="2"/><circle cx="560.1" cy="404.8" r="2"/><circle cx="560.7" cy="408.4" r="2"/><circle cx="561.3" cy="409.6" r="2"/><circle cx="561.9" cy="410.1" r="2"/><circle cx="562.5" cy="417.8" r="2"/><circle cx="563.1" cy="421.1" r="2"/><circle cx="563.7" cy="422.8" r="2"/><circle cx="564.3" cy="426.3" r="2"/><circle cx="564.9" cy="425.2" r="2"/><circle cx="565.4" cy="426.9" r="2"/><circle cx="566" cy="420.8" r="2"/><circle cx="566.6" cy="418.7" r="2"/><circle cx="567.2" cy="415.9" r="2"/><circle cx="567.8" cy="409.4" r="2"/><circle cx="568.4" cy="406.2" r="2"/><circle cx="569" cy="407" r="2"/><circle cx="569.6" cy="403.7" r="2"/><circle cx="570.2" cy="405.9" r="2"/><circle cx="570.8" cy="407.7" r="2"/><circle cx="571.4" cy="406" r="2"/><circle cx="572" cy="405.9" r="2"/><circle cx="572.6" cy="409.1" r="2"/><circle cx="573.2" cy="413.5" r="2"/><circle cx="573.8" cy="415.5" r="2"/><circle cx="574.4" cy="411.5" r="2"/><circle cx="574.9" cy="412.4" r="2"/><circle cx="575.5" cy="407.4" r="2"/><circle cx="576.1" cy="408.9" r="2"/><circle cx="576.7" cy="404.9" r="2"/><circle cx="577.3" cy="408.7" r="2"/><circle cx="577.9" cy="403.7" r="2"/><circle cx="578.5" cy="402.4" r="2"/><circle cx="579.1" cy="404.9" r="2"/><circle cx="579.7" cy="405.5" r="2"/><circle cx="580.3" cy="399.9" r="2"/><circle cx="580.9" cy="398.6" r="2"/><circle cx="581.5" cy="398.7" r="2"/><circle cx="582.1" cy="397.9" r="2"/><circle cx="582.7" cy="393.9" r="2"/><circle cx="583.3" cy="393.2" r="2"/><circle cx="583.9" cy="390.9" r="2"/><circle cx="584.4" cy="392.7" r="2"/><circle cx="585" cy="390.4" r="2"/><circle cx="585.6" cy="384" r="2"/><circle cx="586.2" cy="378.6" r="2"/><circle cx="586.8" cy="379.5" r="2"/><circle cx="587.4" cy="381.6" r="2"/><circle cx="588" cy="379.6" r="2"/><circle cx="588.6" cy="382.1" r="2"/><circle cx="589.2" cy="380" r="2"/><circle cx="589.8" cy="377.2" r="2"/><circle cx="590.4" cy="382.4" r="2"/><circle cx="591" cy="383.5" r="2"/><circle cx="591.6" cy="383.6" r="2"/><circle cx="592.2" cy="377.6" r="2"/><circle cx="592.8" cy="378.1" r="2"/><circle cx="593.4" cy="375.6" r="2"/><circle cx="594" cy="377.3" r="2"/><circle cx="594.5" cy="373.3" r="2"/><circle cx="595.1" cy="370.4" r="2"/><circle cx="595.7" cy="368.1" r="2"/><circle cx="596.3" cy="370.2" r="2"/><circle cx="596.9" cy="367.3" r="2"/><circle cx="597.5" cy="363.4" r="2"/><circle cx="598.1" cy="360.4" r="2"/><circle cx="598.7" cy="358.3" r="2"/><circle cx="599.3" cy="363.4" r="2"/><circle cx="599.9" cy="356" r="2"/><circle cx="600.5" cy="355" r="2"/><circle cx="601.1" cy="359.1" r="2"/><circle cx="601.7" cy="362.6" r="2"/><circle cx="602.3" cy="359.7" r="2"/><circle cx="602.9" cy="361.1" r="2"/><circle cx="603.5" cy="362.3" r="2"/><circle cx="604" cy="364.6" r="2"/><circle cx="604.6" cy="364.2" r="2"/><circle cx="605.2" cy="368.9" r="2"/><circle cx="605.8" cy="368.4" r="2"/><circle cx="606.4" cy="372.3" r="2"/><circle cx="607" cy="367.3" r="2"/><circle cx="607.6" cy="371.3" r="2"/><circle cx="608.2" cy="367.5" r="2"/><circle cx="608.8" cy="365.8" r="2"/><circle cx="609.4" cy="371.1" r="2"/><circle cx="610" cy="370.2" r="2"/><circle cx="610.6" cy="373.6" r="2"/><circle cx="611.2" cy="370.8" r="2"/><circle cx="611.8" cy="378.1" r="2"/><circle cx="612.4" cy="376.7" r="2"/><circle cx="613" cy="372.8" r="2"/><circle cx="613.5" cy="375.3" r="2"/><circle cx="614.1" cy="379" r="2"/><circle cx="614.7" cy="375.7" r="2"/><circle cx="615.3" cy="378.5" r="2"/><circle cx="615.9" cy="384.8" r="2"/><circle cx="616.5" cy="384.1" r="2"/><circle cx="617.1" cy="381.2" r="2"/><circle cx="617.7" cy="378.3" r="2"/><circle cx="618.3" cy="380.8" r="2"/><circle cx="618.9" cy="375.5" r="2"/><circle cx="619.5" cy="372.4" r="2"/><circle cx="620.1" cy="373.7" r="2"/><circle cx="620.7" cy="375.6" r="2"/><circle cx="621.3" cy="384.7" r="2"/><circle cx="621.9" cy="384.9" r="2"/><circle cx="622.5" cy="382.5" r="2"/><circle cx="623" cy="381.5" r="2"/><circle cx="623.6" cy="386.2" r="2"/><circle cx="624.2" cy="385" r="2"/><circle cx="624.8" cy="385.5" r="2"/><circle cx="625.4" cy="387.7" r="2"/><circle cx="626" cy="389.6" r="2"/><circle cx="626.6" cy="390.9" r="2"/><circle cx="627.2" cy="391.7" r="2"/><circle cx="627.8" cy="395" r="2"/><circle cx="628.4" cy="397.1" r="2"/><circle cx="629" cy="388" r="2"/><circle cx="629.6" cy="396.3" r="2"/><circle cx="630.2" cy="392.7" r="2"/><circle cx="630.8" cy="394.2" r="2"/><circle cx="631.4" cy="388.4" r="2"/><circle cx="632" cy="389.1" r="2"/><circle cx="632.5" cy="388.9" r="2"/><circle cx="633.1" cy="388.3" r="2"/><circle cx="633.7" cy="390.2" r="2"/><circle cx="634.3" cy="390.2" r="2"/><circle cx="634.9" cy="384.7" r="2"/><circle cx="635.5" cy="385.5" r="2"/><circle cx="636.1" cy="388.8" r="2"/><circle cx="636.7" cy="390.3" r="2"/><circle cx="637.3" cy="387.9" r="2"/><circle cx="637.9" cy="387.1" r="2"/><circle cx="638.5" cy="387.3" r="2"/><circle cx="639.1" cy="384.3" r="2"/><circle cx="639.7" cy="382.2" r="2"/><circle cx="640.3" cy="389.9" r="2"/><circle cx="640.9" cy="387" r="2"/><circle cx="641.5" cy="387" r="2"/><circle cx="642" cy="384.5" r="2"/><circle cx="642.6" cy="390.6" r="2"/><circle cx="643.2" cy="395.2" r="2"/><circle cx="643.8" cy="393.4" r="2"/><circle cx="644.4" cy="396.4" r="2"/><circle cx="645" cy="397.7" r="2"/><circle cx="645.6" cy="404.8" r="2"/><circle cx="646.2" cy="408.5" r="2"/><circle cx="646.8" cy="408.9" r="2"/><circle cx="647.4" cy="414.8" r="2"/><circle cx="648" cy="417.8" r="2"/><circle cx="648.6" cy="421.1" r="2"/><circle cx="649.2" cy="424.2" r="2"/><circle cx="649.8" cy="425.5" r="2"/><circle cx="650.4" cy="428.2" r="2"/></g>
<path d="M71.8 283.2 V490.3 M70.8 489.3 H666.6" stroke="#000" stroke-width="2" fill="none"/>
<path d="M65.8 489.3 H71 M65.8 425.1 H71 M65.8 361.0 H71 M65.8 297.0 H71 M71.8 489.3 V495.0 M131.2 489.3 V495.0 M190.6 489.3 V495.0 M249.9 489.3 V495.0 M309.3 489.3 V495.0 M368.7 489.3 V495.0 M428.1 489.3 V495.0 M487.5 489.3 V495.0 M546.8 489.3 V495.0 M606.2 489.3 V495.0 M665.6 489.3 V495.0" stroke="#000" stroke-width="2" fill="none"/>
<g font-size="14"><text x="44.14" y="493.6">0.7</text><text x="44.14" y="429.4">0.8</text><text x="44.14" y="365.3">0.9</text><path d="M49.36 301.30 L48.13 301.30 L48.13 293.40 L47.04 294.10 L45.64 294.70 L45.64 293.40 L47.04 292.70 L48.04 291.90 L48.44 291.28 L49.36 291.28 Z"/><text x="51.92" y="301.3">.0</text><text x="67.91" y="511.0">0</text><path d="M120.83 511.00 L119.60 511.00 L119.60 503.10 L118.51 503.80 L117.11 504.40 L117.11 503.10 L118.51 502.40 L119.51 501.60 L119.91 500.98 L120.83 500.98 Z"/><text x="123.40" y="511.0">000</text><text x="174.99" y="511.0">2000</text><text x="234.37" y="511.0">3000</text><text x="293.75" y="511.0">4000</text><text x="353.13" y="511.0">5000</text><text x="412.51" y="511.0">6000</text><text x="471.89" y="511.0">7000</text><text x="531.27" y="511.0">8000</text><text x="590.65" y="511.0">9000</text><path d="M651.36 511.00 L650.13 511.00 L650.13 503.10 L649.04 503.80 L647.64 504.40 L647.64 503.10 L649.04 502.40 L650.04 501.60 L650.44 500.98 L651.36 500.98 Z"/><text x="653.92" y="511.0">0000</text></g>
<text x="368.8" y="531.6" text-anchor="middle" font-size="16.8">time (minutes)</text>
<text transform="translate(33.3 386.6) rotate(-90)" text-anchor="middle" font-size="17">respiratory exchange ratio</text>
<rect x="326.7" y="288.9" width="129.4" height="20.5" rx="1" fill="#fff" stroke="#222" stroke-width="1.35"/>
<path d="M332.3 299.1 H353.7" stroke="#333" stroke-width="0.8"/><circle cx="343.1" cy="299.1" r="2" fill="#fff" stroke="#111" stroke-width="0.8"/>
<path d="M393.2 299.1 H415.1" stroke="#999" stroke-width="0.8"/><circle cx="403.8" cy="299.1" r="1.9" fill="#6a6a6a" stroke="#505050" stroke-width="0.5"/>
<text x="366.2" y="305.2" font-size="17">H</text><text x="427.6" y="305.2" font-size="16.2">HC</text>
<rect x="187.9" y="445.6" width="70.1" height="38.6" fill="#fff" stroke="#111" stroke-width="1.25"/>
<text x="196.8" y="459.6" font-size="17">change</text><text x="197.2" y="479.6" font-size="16.5">to HFD</text>
<path d="M223.7 442.5 V430" stroke="#000" stroke-width="3"/><path d="M217.8 431.8 H229.8 L223.8 416 Z" fill="#000"/>
</svg>
</body></html>
